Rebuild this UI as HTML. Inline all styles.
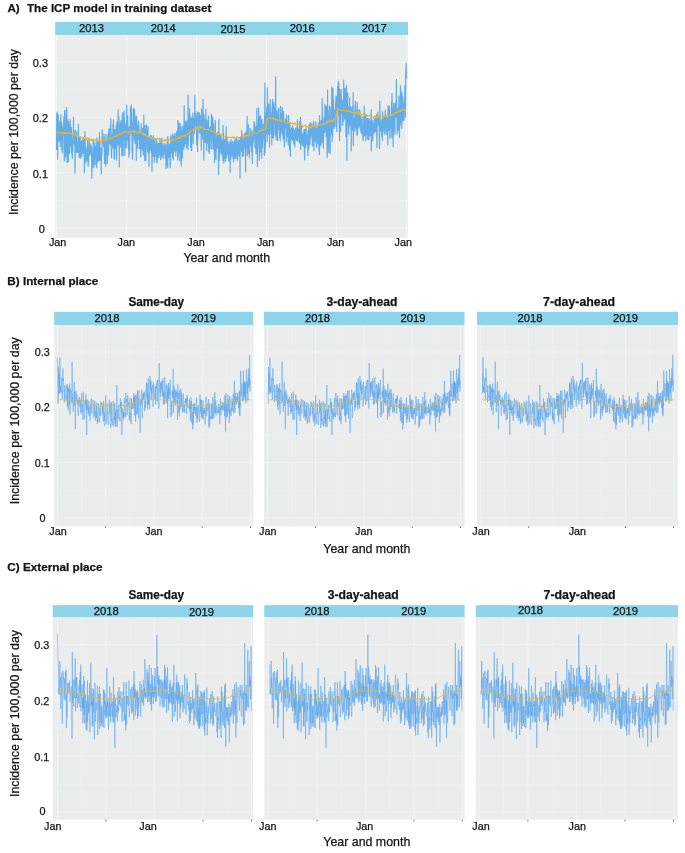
<!DOCTYPE html>
<html><head><meta charset="utf-8"><title>Figure</title>
<style>html,body{margin:0;padding:0;background:#fff}svg text{font-family:"Liberation Sans",sans-serif}</style></head>
<body>
<svg width="685" height="853" viewBox="0 0 685 853" style="display:block;will-change:transform;filter:blur(0.35px);font-family:'Liberation Sans',sans-serif">
<rect width="685" height="853" fill="#fff"/>
<text x="7.4" y="12.4" font-size="11.7" font-weight="bold" fill="#141414" stroke="#141414" stroke-width="0.25">A)</text>
<text x="26.9" y="12.4" font-size="11.7" font-weight="bold" textLength="184.6" lengthAdjust="spacingAndGlyphs" fill="#141414" stroke="#141414" stroke-width="0.25">The ICP model in training dataset</text>
<rect x="55.2" y="21.8" width="352.8" height="13.3" fill="#8dd3ea"/>
<rect x="55.2" y="35.1" width="352.8" height="202.7" fill="#ebecec"/>
<line x1="55.2" x2="408.0" y1="228.0" y2="228.0" stroke="#f2f2f2" stroke-width="1.0"/>
<line x1="55.2" x2="408.0" y1="200.4" y2="200.4" stroke="#f0f0f0" stroke-width="0.7"/>
<line x1="55.2" x2="408.0" y1="172.8" y2="172.8" stroke="#f2f2f2" stroke-width="1.0"/>
<line x1="55.2" x2="408.0" y1="145.2" y2="145.2" stroke="#f0f0f0" stroke-width="0.7"/>
<line x1="55.2" x2="408.0" y1="117.6" y2="117.6" stroke="#f2f2f2" stroke-width="1.0"/>
<line x1="55.2" x2="408.0" y1="90.0" y2="90.0" stroke="#f0f0f0" stroke-width="0.7"/>
<line x1="55.2" x2="408.0" y1="62.4" y2="62.4" stroke="#f2f2f2" stroke-width="1.0"/>
<line x1="56.6" x2="56.6" y1="35.1" y2="237.8" stroke="#f8f8f8" stroke-width="1.0"/>
<line x1="126.6" x2="126.6" y1="35.1" y2="237.8" stroke="#f8f8f8" stroke-width="1.0"/>
<line x1="196.6" x2="196.6" y1="35.1" y2="237.8" stroke="#f8f8f8" stroke-width="1.0"/>
<line x1="266.6" x2="266.6" y1="35.1" y2="237.8" stroke="#f8f8f8" stroke-width="1.0"/>
<line x1="336.6" x2="336.6" y1="35.1" y2="237.8" stroke="#f8f8f8" stroke-width="1.0"/>
<line x1="406.6" x2="406.6" y1="35.1" y2="237.8" stroke="#f8f8f8" stroke-width="1.0"/>
<text x="91.5" y="32.2" font-size="11" text-anchor="middle" textLength="25" lengthAdjust="spacingAndGlyphs" fill="#141414" stroke="#141414" stroke-width="0.25">2013</text>
<text x="163.3" y="32.2" font-size="11" text-anchor="middle" textLength="25" lengthAdjust="spacingAndGlyphs" fill="#141414" stroke="#141414" stroke-width="0.25">2014</text>
<text x="233.0" y="33.2" font-size="11" text-anchor="middle" textLength="25" lengthAdjust="spacingAndGlyphs" fill="#141414" stroke="#141414" stroke-width="0.25">2015</text>
<text x="302.2" y="32.2" font-size="11" text-anchor="middle" textLength="25" lengthAdjust="spacingAndGlyphs" fill="#141414" stroke="#141414" stroke-width="0.25">2016</text>
<text x="374.2" y="32.2" font-size="11" text-anchor="middle" textLength="25" lengthAdjust="spacingAndGlyphs" fill="#141414" stroke="#141414" stroke-width="0.25">2017</text>
<text x="48.0" y="67.10000000000001" font-size="11" text-anchor="end" fill="#141414" stroke="#141414" stroke-width="0.25">0.3</text>
<text x="48.0" y="122.3" font-size="11" text-anchor="end" fill="#141414" stroke="#141414" stroke-width="0.25">0.2</text>
<text x="48.0" y="177.5" font-size="11" text-anchor="end" fill="#141414" stroke="#141414" stroke-width="0.25">0.1</text>
<text x="44.8" y="232.7" font-size="11" text-anchor="end" fill="#141414" stroke="#141414" stroke-width="0.25">0</text>
<text x="57.6" y="246.2" font-size="10.8" text-anchor="middle" fill="#141414" stroke="#141414" stroke-width="0.25">Jan</text>
<text x="126.3" y="246.2" font-size="10.8" text-anchor="middle" fill="#141414" stroke="#141414" stroke-width="0.25">Jan</text>
<text x="196.0" y="246.2" font-size="10.8" text-anchor="middle" fill="#141414" stroke="#141414" stroke-width="0.25">Jan</text>
<text x="265.6" y="246.2" font-size="10.8" text-anchor="middle" fill="#141414" stroke="#141414" stroke-width="0.25">Jan</text>
<text x="335.6" y="246.2" font-size="10.8" text-anchor="middle" fill="#141414" stroke="#141414" stroke-width="0.25">Jan</text>
<text x="403.3" y="246.2" font-size="10.8" text-anchor="middle" fill="#141414" stroke="#141414" stroke-width="0.25">Jan</text>
<text x="226.8" y="262.2" font-size="12.6" text-anchor="middle" textLength="86.8" lengthAdjust="spacingAndGlyphs" fill="#141414" stroke="#141414" stroke-width="0.25">Year and month</text>
<text transform="translate(17.5,132.0) rotate(-90)" font-size="12.8" text-anchor="middle" textLength="166" lengthAdjust="spacingAndGlyphs" fill="#141414" stroke="#141414" stroke-width="0.25">Incidence per 100,000 per day</text>
<path d="M56.6,149.9 56.8,113.7 57.0,127.7 57.2,112.1 57.4,127.3 57.6,130.4 57.7,158.9 57.9,119.6 58.1,141.2 58.3,114.8 58.5,140.4 58.7,131.0 58.9,140.4 59.1,141.0 59.3,126.3 59.5,136.5 59.7,121.6 59.9,128.7 60.0,123.9 60.2,146.6 60.4,132.5 60.6,135.3 60.8,114.8 61.0,139.2 61.2,137.3 61.4,121.7 61.6,123.9 61.8,150.0 62.0,145.8 62.2,145.0 62.3,142.7 62.5,152.8 62.7,135.6 62.9,127.0 63.1,128.6 63.3,134.4 63.5,123.5 63.7,121.7 63.9,116.7 64.1,136.0 64.3,160.9 64.5,133.1 64.6,110.8 64.8,136.1 65.0,110.3 65.2,114.1 65.4,137.6 65.6,157.1 65.8,148.7 66.0,132.7 66.2,125.1 66.4,151.2 66.6,107.5 66.8,109.7 66.9,148.3 67.1,162.5 67.3,131.4 67.5,127.1 67.7,119.4 67.9,127.3 68.1,138.1 68.3,161.8 68.5,137.8 68.7,121.6 68.9,124.4 69.1,131.7 69.2,133.5 69.4,139.2 69.6,153.6 69.8,140.2 70.0,145.8 70.2,119.4 70.4,144.6 70.6,131.7 70.8,145.1 71.0,138.9 71.2,146.7 71.4,127.4 71.5,142.5 71.7,152.9 71.9,140.6 72.1,154.5 72.3,158.5 72.5,152.4 72.7,150.3 72.9,134.8 73.1,141.6 73.3,138.9 73.5,117.0 73.7,143.3 73.8,143.3 74.0,129.8 74.2,138.6 74.4,144.8 74.6,132.7 74.8,132.5 75.0,173.2 75.2,149.2 75.4,139.8 75.6,143.8 75.8,130.3 76.0,146.4 76.1,142.8 76.3,151.9 76.5,152.4 76.7,132.2 76.9,146.6 77.1,143.2 77.3,152.7 77.5,151.7 77.7,142.4 77.9,145.2 78.1,149.5 78.3,151.7 78.4,124.1 78.6,149.6 78.8,152.5 79.0,145.2 79.2,157.5 79.4,143.8 79.6,142.2 79.8,137.0 80.0,146.8 80.2,136.6 80.4,158.2 80.6,153.6 80.7,148.5 80.9,146.1 81.1,141.5 81.3,144.0 81.5,153.4 81.7,149.4 81.9,156.8 82.1,147.6 82.3,145.6 82.5,139.4 82.7,145.0 82.9,139.6 83.0,141.5 83.2,153.3 83.4,148.7 83.6,151.7 83.8,145.0 84.0,142.3 84.2,138.8 84.4,172.6 84.6,148.0 84.8,138.1 85.0,131.5 85.2,146.4 85.3,148.7 85.5,161.3 85.7,159.0 85.9,163.0 86.1,153.4 86.3,154.0 86.5,160.4 86.7,149.8 86.9,147.5 87.1,148.9 87.3,155.6 87.5,139.9 87.6,141.4 87.8,160.7 88.0,151.8 88.2,166.5 88.4,161.4 88.6,154.1 88.8,147.6 89.0,147.1 89.2,138.0 89.4,147.7 89.6,152.4 89.8,155.4 89.9,155.8 90.1,143.9 90.3,154.1 90.5,146.6 90.7,152.5 90.9,145.4 91.1,147.1 91.3,146.4 91.5,148.7 91.7,159.2 91.9,178.3 92.1,153.2 92.2,162.5 92.4,167.6 92.6,159.1 92.8,155.3 93.0,145.2 93.2,139.7 93.4,152.9 93.6,150.0 93.8,167.4 94.0,155.5 94.2,153.3 94.4,157.8 94.5,151.1 94.7,142.3 94.9,164.5 95.1,164.7 95.3,156.6 95.5,146.1 95.7,147.4 95.9,149.7 96.1,158.0 96.3,147.2 96.5,153.9 96.7,167.8 96.8,138.1 97.0,151.4 97.2,144.4 97.4,162.2 97.6,160.7 97.8,159.2 98.0,149.1 98.2,140.8 98.4,161.2 98.6,148.5 98.8,158.3 99.0,147.6 99.1,152.9 99.3,160.1 99.5,132.5 99.7,148.0 99.9,142.0 100.1,160.5 100.3,151.3 100.5,153.2 100.7,154.2 100.9,148.4 101.1,153.8 101.3,174.1 101.4,153.7 101.6,157.3 101.8,155.4 102.0,148.9 102.2,129.9 102.4,142.6 102.6,140.6 102.8,143.9 103.0,143.9 103.2,140.1 103.4,139.4 103.6,146.8 103.7,143.0 103.9,133.9 104.1,141.8 104.3,136.5 104.5,163.4 104.7,151.6 104.9,140.0 105.1,140.6 105.3,158.1 105.5,163.0 105.7,166.2 105.9,154.7 106.0,134.5 106.2,140.0 106.4,154.2 106.6,141.9 106.8,148.0 107.0,144.5 107.2,154.2 107.4,163.5 107.6,145.2 107.8,135.9 108.0,140.8 108.2,133.8 108.3,154.8 108.5,139.9 108.7,149.9 108.9,128.8 109.1,129.6 109.3,143.2 109.5,140.4 109.7,137.6 109.9,141.8 110.1,141.9 110.3,125.6 110.5,134.1 110.6,144.8 110.8,118.7 111.0,142.2 111.2,142.9 111.4,155.5 111.6,157.6 111.8,145.2 112.0,138.5 112.2,134.8 112.4,140.4 112.6,137.5 112.8,147.8 112.9,124.6 113.1,136.1 113.3,137.0 113.5,119.8 113.7,148.4 113.9,129.6 114.1,158.8 114.3,133.8 114.5,140.0 114.7,159.0 114.9,129.6 115.1,141.9 115.2,140.7 115.4,148.4 115.6,148.0 115.8,131.4 116.0,134.2 116.2,125.3 116.4,131.8 116.6,160.1 116.8,131.7 117.0,121.5 117.2,123.7 117.4,128.7 117.5,142.7 117.7,129.8 117.9,144.9 118.1,110.0 118.3,131.8 118.5,143.3 118.7,136.8 118.9,117.2 119.1,141.1 119.3,167.0 119.5,124.7 119.7,124.1 119.8,135.5 120.0,123.5 120.2,143.2 120.4,132.8 120.6,137.1 120.8,146.9 121.0,120.5 121.2,128.8 121.4,120.8 121.6,130.6 121.8,156.0 122.0,129.8 122.1,145.6 122.3,115.1 122.5,126.6 122.7,112.5 122.9,134.6 123.1,155.5 123.3,141.0 123.5,133.1 123.7,129.0 123.9,132.5 124.1,110.9 124.3,139.2 124.4,118.1 124.6,134.8 124.8,155.3 125.0,122.9 125.2,146.3 125.4,124.8 125.6,139.1 125.8,147.1 126.0,148.0 126.2,144.6 126.4,134.3 126.6,133.1 126.7,105.1 126.9,126.1 127.1,140.1 127.3,136.4 127.5,118.6 127.7,116.0 127.9,127.5 128.1,144.1 128.3,149.1 128.5,134.6 128.7,137.5 128.9,157.0 129.0,139.5 129.2,126.8 129.4,153.9 129.6,149.4 129.8,131.4 130.0,129.3 130.2,134.5 130.4,112.0 130.6,107.1 130.8,117.6 131.0,132.8 131.2,104.9 131.3,115.8 131.5,110.4 131.7,133.8 131.9,122.0 132.1,152.6 132.3,134.0 132.5,159.3 132.7,152.0 132.9,126.7 133.1,124.9 133.3,108.2 133.5,129.6 133.6,129.5 133.8,135.2 134.0,131.0 134.2,139.8 134.4,111.8 134.6,109.3 134.8,136.8 135.0,143.6 135.2,126.0 135.4,122.3 135.6,132.5 135.8,123.2 135.9,118.1 136.1,116.1 136.3,160.2 136.5,116.3 136.7,129.8 136.9,135.1 137.1,133.2 137.3,127.0 137.5,125.0 137.7,148.5 137.9,125.8 138.1,138.1 138.2,139.8 138.4,121.1 138.6,132.1 138.8,131.8 139.0,126.9 139.2,133.1 139.4,134.0 139.6,149.0 139.8,142.0 140.0,137.1 140.2,147.9 140.4,142.4 140.5,132.2 140.7,157.1 140.9,155.1 141.1,123.5 141.3,138.0 141.5,134.9 141.7,148.2 141.9,147.4 142.1,144.8 142.3,128.8 142.5,128.0 142.7,150.6 142.8,132.1 143.0,129.0 143.2,132.2 143.4,154.9 143.6,145.6 143.8,115.1 144.0,144.6 144.2,134.8 144.4,145.8 144.6,151.8 144.8,160.8 145.0,137.6 145.1,125.6 145.3,145.3 145.5,143.4 145.7,148.3 145.9,160.3 146.1,140.7 146.3,135.0 146.5,124.9 146.7,142.8 146.9,130.1 147.1,133.1 147.3,145.5 147.4,146.9 147.6,151.8 147.8,136.5 148.0,126.5 148.2,150.0 148.4,153.3 148.6,137.5 148.8,147.6 149.0,166.2 149.2,148.4 149.4,148.6 149.6,148.4 149.7,141.9 149.9,138.2 150.1,150.4 150.3,149.8 150.5,147.2 150.7,135.7 150.9,135.2 151.1,147.3 151.3,152.2 151.5,136.2 151.7,145.4 151.8,149.3 152.0,171.6 152.2,147.5 152.4,138.4 152.6,151.2 152.8,152.5 153.0,156.1 153.2,138.8 153.4,135.8 153.6,156.1 153.8,149.0 154.0,149.1 154.1,156.2 154.3,162.3 154.5,138.8 154.7,144.3 154.9,142.5 155.1,138.6 155.3,151.1 155.5,148.8 155.7,156.4 155.9,145.0 156.1,144.1 156.3,148.6 156.4,159.9 156.6,140.4 156.8,151.7 157.0,162.7 157.2,162.2 157.4,146.8 157.6,144.4 157.8,143.1 158.0,143.3 158.2,155.8 158.4,150.8 158.6,157.5 158.7,146.4 158.9,143.5 159.1,153.8 159.3,151.1 159.5,152.9 159.7,154.1 159.9,138.1 160.1,155.7 160.3,141.7 160.5,159.1 160.7,155.4 160.9,159.6 161.0,155.7 161.2,150.2 161.4,145.4 161.6,149.3 161.8,138.0 162.0,148.7 162.2,155.9 162.4,153.4 162.6,143.6 162.8,149.5 163.0,158.0 163.2,156.3 163.3,150.0 163.5,149.8 163.7,153.1 163.9,147.6 164.1,145.3 164.3,153.4 164.5,149.0 164.7,143.2 164.9,148.3 165.1,158.6 165.3,149.7 165.5,147.2 165.6,157.3 165.8,145.0 166.0,168.6 166.2,164.3 166.4,159.2 166.6,145.1 166.8,165.0 167.0,160.1 167.2,144.0 167.4,137.4 167.6,154.1 167.8,167.7 167.9,136.6 168.1,141.2 168.3,144.4 168.5,158.0 168.7,146.4 168.9,155.9 169.1,157.1 169.3,147.2 169.5,150.3 169.7,144.3 169.9,150.4 170.1,151.7 170.2,164.5 170.4,167.7 170.6,138.6 170.8,135.8 171.0,141.7 171.2,138.7 171.4,152.9 171.6,152.5 171.8,151.1 172.0,145.0 172.2,133.9 172.4,157.7 172.5,151.9 172.7,150.7 172.9,157.5 173.1,147.2 173.3,159.9 173.5,136.3 173.7,139.3 173.9,144.1 174.1,137.0 174.3,133.9 174.5,151.0 174.7,136.6 174.8,140.5 175.0,151.0 175.2,149.8 175.4,152.3 175.6,145.3 175.8,156.0 176.0,133.3 176.2,135.8 176.4,147.3 176.6,150.7 176.8,131.1 177.0,149.8 177.1,141.1 177.3,138.7 177.5,138.6 177.7,160.0 177.9,120.5 178.1,156.7 178.3,151.0 178.5,135.4 178.7,122.3 178.9,151.1 179.1,152.5 179.3,137.8 179.4,145.7 179.6,143.2 179.8,160.8 180.0,125.9 180.2,123.6 180.4,153.2 180.6,147.4 180.8,147.4 181.0,126.5 181.2,166.1 181.4,132.5 181.6,138.3 181.7,145.6 181.9,131.8 182.1,158.8 182.3,157.6 182.5,153.4 182.7,126.0 182.9,138.2 183.1,144.8 183.3,132.3 183.5,142.8 183.7,149.2 183.9,147.5 184.0,128.0 184.2,105.5 184.4,146.3 184.6,132.9 184.8,138.2 185.0,144.1 185.2,127.1 185.4,121.7 185.6,124.5 185.8,138.3 186.0,143.3 186.2,131.8 186.3,143.0 186.5,147.9 186.7,120.8 186.9,143.1 187.1,139.8 187.3,123.8 187.5,134.4 187.7,130.9 187.9,149.7 188.1,94.9 188.3,145.0 188.5,114.8 188.6,122.0 188.8,126.6 189.0,127.5 189.2,134.9 189.4,132.1 189.6,108.7 189.8,124.8 190.0,115.3 190.2,128.8 190.4,121.9 190.6,147.5 190.8,137.8 190.9,141.4 191.1,118.3 191.3,150.6 191.5,149.5 191.7,150.6 191.9,133.6 192.1,116.8 192.3,133.5 192.5,116.5 192.7,123.2 192.9,113.1 193.1,121.7 193.2,143.3 193.4,118.5 193.6,125.0 193.8,119.2 194.0,123.4 194.2,126.5 194.4,123.3 194.6,133.5 194.8,95.2 195.0,121.4 195.2,125.9 195.4,113.3 195.5,113.9 195.7,115.7 195.9,125.4 196.1,121.4 196.3,118.6 196.5,121.2 196.7,144.6 196.9,138.4 197.1,111.7 197.3,133.8 197.5,151.5 197.7,122.4 197.8,121.0 198.0,138.4 198.2,113.1 198.4,116.7 198.6,122.8 198.8,121.0 199.0,114.8 199.2,112.6 199.4,118.2 199.6,133.0 199.8,128.4 200.0,131.3 200.1,115.2 200.3,133.0 200.5,120.2 200.7,124.5 200.9,122.9 201.1,128.9 201.3,150.0 201.5,109.2 201.7,112.8 201.9,139.4 202.1,126.5 202.3,136.2 202.4,137.3 202.6,122.4 202.8,114.3 203.0,99.4 203.2,124.0 203.4,138.8 203.6,126.2 203.8,160.1 204.0,114.5 204.2,118.6 204.4,118.8 204.6,124.5 204.7,136.8 204.9,130.0 205.1,142.6 205.3,141.8 205.5,119.2 205.7,138.2 205.9,109.1 206.1,140.1 206.3,120.6 206.5,142.0 206.7,150.6 206.9,120.1 207.0,124.7 207.2,131.1 207.4,130.5 207.6,137.7 207.8,131.8 208.0,143.5 208.2,125.4 208.4,116.2 208.6,143.8 208.8,151.7 209.0,139.3 209.2,145.6 209.3,153.4 209.5,129.8 209.7,127.6 209.9,132.4 210.1,148.7 210.3,126.9 210.5,131.7 210.7,140.0 210.9,138.6 211.1,139.2 211.3,114.2 211.5,117.6 211.6,130.6 211.8,148.9 212.0,130.2 212.2,128.5 212.4,116.9 212.6,139.8 212.8,117.4 213.0,138.5 213.2,134.5 213.4,149.2 213.6,123.6 213.8,137.4 213.9,144.1 214.1,131.9 214.3,135.8 214.5,162.3 214.7,144.7 214.9,132.4 215.1,133.6 215.3,120.3 215.5,144.1 215.7,139.4 215.9,159.3 216.1,158.9 216.2,140.0 216.4,137.8 216.6,140.3 216.8,134.6 217.0,134.9 217.2,137.2 217.4,148.2 217.6,132.6 217.8,144.5 218.0,137.2 218.2,137.4 218.4,146.3 218.5,174.4 218.7,153.6 218.9,119.2 219.1,140.4 219.3,160.5 219.5,141.5 219.7,135.4 219.9,145.0 220.1,150.7 220.3,150.1 220.5,143.3 220.7,152.6 220.8,141.0 221.0,134.1 221.2,141.1 221.4,154.7 221.6,148.3 221.8,153.3 222.0,140.5 222.2,140.6 222.4,140.0 222.6,146.7 222.8,160.3 223.0,156.8 223.1,125.7 223.3,151.1 223.5,133.3 223.7,163.0 223.9,158.5 224.1,158.7 224.3,140.4 224.5,139.5 224.7,149.5 224.9,142.3 225.1,157.0 225.3,154.2 225.4,161.4 225.6,147.2 225.8,136.3 226.0,144.0 226.2,126.6 226.4,158.1 226.6,152.5 226.8,148.4 227.0,143.1 227.2,136.9 227.4,154.4 227.6,142.8 227.7,154.0 227.9,146.8 228.1,151.8 228.3,142.7 228.5,150.1 228.7,161.2 228.9,156.2 229.1,144.5 229.3,153.9 229.5,149.1 229.7,154.8 229.9,142.5 230.0,141.8 230.2,172.3 230.4,146.9 230.6,141.4 230.8,159.2 231.0,139.3 231.2,145.8 231.4,142.7 231.6,151.0 231.8,154.7 232.0,155.3 232.2,156.2 232.3,149.3 232.5,152.8 232.7,141.3 232.9,152.5 233.1,157.9 233.3,159.2 233.5,150.6 233.7,161.7 233.9,143.2 234.1,143.3 234.3,140.8 234.5,151.9 234.6,158.2 234.8,152.2 235.0,143.6 235.2,138.3 235.4,146.7 235.6,151.0 235.8,158.6 236.0,153.3 236.2,152.5 236.4,137.3 236.6,144.8 236.8,138.9 236.9,140.1 237.1,154.0 237.3,160.4 237.5,157.7 237.7,145.5 237.9,151.4 238.1,142.1 238.3,142.9 238.5,140.3 238.7,149.4 238.9,155.9 239.1,140.6 239.2,151.8 239.4,144.9 239.6,141.3 239.8,139.9 240.0,178.3 240.2,146.7 240.4,136.9 240.6,144.1 240.8,143.0 241.0,144.4 241.2,138.0 241.4,139.1 241.5,151.2 241.7,130.7 241.9,148.3 242.1,141.4 242.3,141.9 242.5,156.2 242.7,146.9 242.9,156.3 243.1,135.0 243.3,149.5 243.5,140.2 243.6,155.2 243.8,144.4 244.0,146.2 244.2,147.4 244.4,146.1 244.6,135.1 244.8,133.3 245.0,144.9 245.2,136.3 245.4,149.0 245.6,171.8 245.8,132.9 245.9,149.3 246.1,144.8 246.3,131.9 246.5,134.1 246.7,141.6 246.9,147.2 247.1,116.3 247.3,155.4 247.5,138.7 247.7,138.1 247.9,132.6 248.1,132.0 248.2,153.5 248.4,124.3 248.6,141.7 248.8,136.8 249.0,140.5 249.2,137.4 249.4,158.0 249.6,151.9 249.8,135.4 250.0,135.6 250.2,128.3 250.4,134.3 250.5,145.1 250.7,144.6 250.9,134.1 251.1,139.6 251.3,136.2 251.5,151.7 251.7,148.1 251.9,130.3 252.1,143.4 252.3,163.4 252.5,132.6 252.7,136.3 252.8,147.2 253.0,133.1 253.2,140.0 253.4,141.8 253.6,134.1 253.8,137.2 254.0,121.6 254.2,137.2 254.4,137.9 254.6,122.6 254.8,136.9 255.0,146.9 255.1,130.8 255.3,129.1 255.5,148.6 255.7,126.9 255.9,135.0 256.1,153.6 256.3,151.8 256.5,126.3 256.7,143.8 256.9,108.3 257.1,144.5 257.3,131.5 257.4,166.6 257.6,141.6 257.8,132.9 258.0,123.6 258.2,128.9 258.4,135.7 258.6,108.1 258.8,129.1 259.0,148.1 259.2,122.1 259.4,160.1 259.6,136.7 259.7,116.5 259.9,138.3 260.1,135.6 260.3,152.2 260.5,115.9 260.7,125.9 260.9,129.4 261.1,119.1 261.3,121.1 261.5,127.0 261.7,158.2 261.9,119.7 262.0,123.4 262.2,141.6 262.4,148.0 262.6,135.3 262.8,139.5 263.0,138.9 263.2,132.2 263.4,124.1 263.6,124.5 263.8,132.4 264.0,125.4 264.2,142.3 264.3,155.6 264.5,123.4 264.7,114.5 264.9,83.0 265.1,152.9 265.3,135.4 265.5,145.1 265.7,133.9 265.9,132.8 266.1,122.7 266.3,112.3 266.5,132.6 266.6,124.2 266.8,106.9 267.0,116.5 267.2,141.3 267.4,87.9 267.6,123.9 267.8,113.5 268.0,123.1 268.2,129.1 268.4,134.1 268.6,104.2 268.8,123.0 268.9,130.8 269.1,124.0 269.3,118.7 269.5,147.1 269.7,116.6 269.9,120.4 270.1,105.6 270.3,99.7 270.5,114.0 270.7,112.5 270.9,129.6 271.1,134.3 271.2,134.1 271.4,117.1 271.6,123.3 271.8,145.0 272.0,116.2 272.2,106.7 272.4,122.3 272.6,99.4 272.8,118.5 273.0,137.9 273.2,105.6 273.4,123.9 273.5,138.0 273.7,115.5 273.9,102.5 274.1,123.4 274.3,116.1 274.5,121.1 274.7,113.5 274.9,107.7 275.1,134.9 275.3,127.7 275.5,101.3 275.7,76.8 275.8,126.8 276.0,131.2 276.2,139.6 276.4,128.9 276.6,114.4 276.8,120.6 277.0,110.8 277.2,129.8 277.4,128.6 277.6,140.7 277.8,114.7 278.0,117.1 278.1,118.3 278.3,129.7 278.5,108.0 278.7,120.1 278.9,108.6 279.1,124.3 279.3,121.0 279.5,121.5 279.7,137.7 279.9,128.6 280.1,126.4 280.3,140.8 280.4,130.0 280.6,106.3 280.8,125.8 281.0,132.6 281.2,132.5 281.4,123.2 281.6,113.3 281.8,130.3 282.0,119.4 282.2,134.2 282.4,107.7 282.6,119.3 282.7,130.0 282.9,131.0 283.1,139.1 283.3,114.6 283.5,111.3 283.7,121.7 283.9,121.6 284.1,126.6 284.3,147.0 284.5,140.8 284.7,126.1 284.9,123.2 285.0,126.2 285.2,118.7 285.4,122.0 285.6,120.4 285.8,128.1 286.0,125.7 286.2,124.5 286.4,142.0 286.6,115.0 286.8,134.4 287.0,137.1 287.2,121.2 287.3,134.3 287.5,132.0 287.7,128.8 287.9,134.3 288.1,129.4 288.3,145.4 288.5,115.4 288.7,126.7 288.9,122.5 289.1,132.1 289.3,125.8 289.5,122.8 289.6,150.0 289.8,138.7 290.0,125.6 290.2,144.6 290.4,156.2 290.6,129.0 290.8,137.4 291.0,130.6 291.2,137.6 291.4,128.0 291.6,132.4 291.8,130.4 291.9,139.5 292.1,137.1 292.3,131.6 292.5,140.3 292.7,125.6 292.9,130.5 293.1,134.7 293.3,140.6 293.5,128.4 293.7,144.0 293.9,136.5 294.1,142.2 294.2,129.5 294.4,130.4 294.6,138.6 294.8,147.2 295.0,139.2 295.2,138.8 295.4,134.6 295.6,137.3 295.8,128.1 296.0,135.1 296.2,138.3 296.4,133.6 296.5,140.1 296.7,136.6 296.9,127.6 297.1,136.9 297.3,119.9 297.5,140.8 297.7,137.2 297.9,133.5 298.1,129.2 298.3,130.4 298.5,132.1 298.7,130.6 298.8,135.6 299.0,137.0 299.2,142.6 299.4,121.7 299.6,140.3 299.8,130.5 300.0,143.2 300.2,133.5 300.4,117.3 300.6,149.5 300.8,123.1 301.0,141.3 301.1,141.6 301.3,134.3 301.5,126.7 301.7,134.9 301.9,138.9 302.1,144.5 302.3,145.1 302.5,141.2 302.7,134.1 302.9,145.2 303.1,145.9 303.3,138.4 303.4,140.7 303.6,132.9 303.8,146.3 304.0,131.1 304.2,129.5 304.4,149.4 304.6,160.0 304.8,146.2 305.0,129.3 305.2,140.4 305.4,130.8 305.6,147.7 305.7,148.0 305.9,143.1 306.1,127.3 306.3,136.4 306.5,144.0 306.7,135.0 306.9,136.9 307.1,138.0 307.3,143.7 307.5,145.0 307.7,134.5 307.9,155.5 308.0,135.1 308.2,130.0 308.4,137.4 308.6,149.6 308.8,145.0 309.0,126.2 309.2,124.7 309.4,137.8 309.6,135.3 309.8,145.0 310.0,141.3 310.2,122.7 310.3,137.4 310.5,122.7 310.7,132.9 310.9,134.0 311.1,133.5 311.3,135.0 311.5,124.4 311.7,128.9 311.9,138.8 312.1,123.8 312.3,136.5 312.5,146.0 312.6,134.3 312.8,125.9 313.0,132.0 313.2,132.6 313.4,129.8 313.6,121.0 313.8,138.9 314.0,150.6 314.2,134.3 314.4,127.2 314.6,134.1 314.8,138.8 314.9,128.3 315.1,132.1 315.3,140.9 315.5,126.3 315.7,123.7 315.9,121.9 316.1,135.2 316.3,145.0 316.5,147.1 316.7,139.2 316.9,132.1 317.1,128.2 317.2,129.5 317.4,138.2 317.6,137.5 317.8,143.6 318.0,126.8 318.2,142.2 318.4,128.9 318.6,122.8 318.8,140.8 319.0,150.7 319.2,145.0 319.4,154.5 319.5,115.5 319.7,129.9 319.9,140.0 320.1,136.3 320.3,129.4 320.5,138.7 320.7,145.9 320.9,120.5 321.1,135.5 321.3,132.4 321.5,127.7 321.7,137.3 321.8,133.9 322.0,142.8 322.2,98.5 322.4,129.8 322.6,120.8 322.8,136.9 323.0,140.4 323.2,135.0 323.4,148.2 323.6,126.3 323.8,125.0 324.0,117.5 324.1,121.3 324.3,118.0 324.5,132.3 324.7,124.6 324.9,104.1 325.1,130.1 325.3,130.6 325.5,127.4 325.7,106.5 325.9,112.2 326.1,136.7 326.3,105.9 326.4,124.6 326.6,107.6 326.8,119.0 327.0,141.7 327.2,157.4 327.4,146.8 327.6,90.2 327.8,126.1 328.0,110.1 328.2,125.4 328.4,122.8 328.6,127.6 328.7,152.3 328.9,126.7 329.1,132.3 329.3,120.2 329.5,106.2 329.7,127.2 329.9,129.1 330.1,153.4 330.3,122.0 330.5,122.6 330.7,124.0 330.9,115.9 331.0,107.2 331.2,129.2 331.4,126.6 331.6,134.3 331.8,86.9 332.0,109.6 332.2,141.6 332.4,119.1 332.6,135.7 332.8,118.2 333.0,88.4 333.2,117.2 333.3,99.4 333.5,99.6 333.7,125.7 333.9,127.2 334.1,128.3 334.3,124.9 334.5,110.5 334.7,114.4 334.9,126.4 335.1,125.6 335.3,112.0 335.5,112.7 335.6,103.3 335.8,104.3 336.0,96.0 336.2,113.6 336.4,96.9 336.6,122.6 336.8,131.4 337.0,105.3 337.2,109.7 337.4,102.1 337.6,86.7 337.7,105.1 337.9,102.8 338.1,91.6 338.3,81.4 338.5,104.8 338.7,115.7 338.9,82.9 339.1,122.5 339.3,116.0 339.5,140.6 339.7,89.4 339.9,122.7 340.0,111.1 340.2,110.9 340.4,94.6 340.6,131.5 340.8,117.6 341.0,100.5 341.2,89.3 341.4,111.3 341.6,106.5 341.8,114.0 342.0,103.2 342.2,107.3 342.3,108.9 342.5,100.3 342.7,125.5 342.9,109.4 343.1,121.1 343.3,121.3 343.5,107.0 343.7,80.0 343.9,104.9 344.1,111.0 344.3,114.3 344.5,103.1 344.6,119.0 344.8,108.0 345.0,88.2 345.2,100.8 345.4,114.3 345.6,102.7 345.8,119.9 346.0,136.7 346.2,107.2 346.4,85.4 346.6,94.3 346.8,114.8 346.9,160.3 347.1,121.1 347.3,111.8 347.5,124.8 347.7,92.9 347.9,118.5 348.1,106.8 348.3,110.8 348.5,111.6 348.7,134.1 348.9,122.6 349.1,106.2 349.2,115.2 349.4,126.7 349.6,97.8 349.8,125.2 350.0,116.9 350.2,112.8 350.4,106.9 350.6,108.5 350.8,116.1 351.0,113.4 351.2,150.9 351.4,120.5 351.5,114.8 351.7,116.6 351.9,106.8 352.1,130.3 352.3,116.0 352.5,119.4 352.7,117.9 352.9,122.8 353.1,92.5 353.3,145.5 353.5,130.5 353.7,124.1 353.8,117.7 354.0,129.4 354.2,131.5 354.4,128.8 354.6,128.6 354.8,125.9 355.0,105.8 355.2,127.3 355.4,101.2 355.6,117.1 355.8,117.7 356.0,110.1 356.1,110.4 356.3,130.7 356.5,121.4 356.7,113.3 356.9,135.5 357.1,109.3 357.3,102.3 357.5,134.8 357.7,115.7 357.9,117.3 358.1,116.1 358.3,127.8 358.4,113.8 358.6,116.1 358.8,122.8 359.0,109.7 359.2,115.5 359.4,115.6 359.6,125.7 359.8,110.0 360.0,128.3 360.2,127.1 360.4,115.6 360.6,125.4 360.7,130.8 360.9,127.8 361.1,132.7 361.3,119.7 361.5,119.2 361.7,126.1 361.9,133.7 362.1,116.5 362.3,126.7 362.5,128.7 362.7,126.6 362.9,136.7 363.0,138.5 363.2,140.7 363.4,135.5 363.6,127.4 363.8,116.3 364.0,123.5 364.2,106.1 364.4,121.3 364.6,134.9 364.8,136.0 365.0,128.9 365.2,117.5 365.3,116.6 365.5,135.6 365.7,140.9 365.9,114.2 366.1,131.9 366.3,125.2 366.5,122.0 366.7,134.6 366.9,130.6 367.1,123.1 367.3,118.1 367.5,126.5 367.6,139.2 367.8,123.1 368.0,118.4 368.2,130.9 368.4,125.1 368.6,120.4 368.8,140.0 369.0,134.7 369.2,122.1 369.4,119.1 369.6,126.6 369.8,132.1 369.9,124.1 370.1,135.4 370.3,129.6 370.5,121.4 370.7,126.3 370.9,121.4 371.1,109.5 371.3,151.1 371.5,128.0 371.7,133.5 371.9,126.0 372.1,124.5 372.2,119.8 372.4,128.1 372.6,130.2 372.8,140.7 373.0,133.6 373.2,123.7 373.4,132.4 373.6,128.7 373.8,124.4 374.0,120.0 374.2,133.2 374.4,121.3 374.5,118.1 374.7,120.1 374.9,123.0 375.1,126.4 375.3,119.0 375.5,131.5 375.7,131.9 375.9,122.5 376.1,116.0 376.3,114.7 376.5,128.3 376.7,121.6 376.8,136.2 377.0,147.7 377.2,123.8 377.4,123.0 377.6,117.5 377.8,112.0 378.0,125.3 378.2,122.5 378.4,125.0 378.6,121.1 378.8,118.7 379.0,122.7 379.1,116.1 379.3,134.7 379.5,148.4 379.7,130.2 379.9,100.9 380.1,116.3 380.3,128.8 380.5,121.4 380.7,130.8 380.9,124.7 381.1,127.5 381.3,129.6 381.4,121.9 381.6,133.9 381.8,136.4 382.0,119.5 382.2,127.8 382.4,140.3 382.6,111.8 382.8,131.7 383.0,126.5 383.2,124.2 383.4,120.8 383.6,127.9 383.7,122.8 383.9,120.0 384.1,116.7 384.3,134.0 384.5,122.5 384.7,128.4 384.9,122.2 385.1,126.3 385.3,110.1 385.5,115.8 385.7,123.6 385.9,116.0 386.0,132.2 386.2,134.6 386.4,123.8 386.6,117.6 386.8,120.7 387.0,119.0 387.2,131.8 387.4,123.4 387.6,119.5 387.8,145.0 388.0,105.5 388.2,113.6 388.3,117.2 388.5,129.2 388.7,124.4 388.9,130.4 389.1,120.6 389.3,109.3 389.5,106.4 389.7,117.6 389.9,138.4 390.1,129.0 390.3,127.6 390.5,122.7 390.6,128.4 390.8,117.3 391.0,116.4 391.2,123.6 391.4,120.3 391.6,101.5 391.8,137.4 392.0,93.4 392.2,111.7 392.4,122.9 392.6,111.1 392.8,121.4 392.9,122.6 393.1,146.6 393.3,107.5 393.5,118.7 393.7,103.1 393.9,114.2 394.1,120.1 394.3,131.8 394.5,122.5 394.7,113.6 394.9,134.5 395.1,103.7 395.2,115.7 395.4,105.5 395.6,104.2 395.8,117.4 396.0,101.7 396.2,104.8 396.4,79.7 396.6,106.7 396.8,108.4 397.0,117.3 397.2,134.0 397.4,111.9 397.5,116.0 397.7,108.9 397.9,115.0 398.1,123.0 398.3,124.5 398.5,130.5 398.7,106.7 398.9,96.2 399.1,113.6 399.3,123.1 399.5,137.3 399.7,118.6 399.8,113.3 400.0,111.8 400.2,125.0 400.4,85.9 400.6,111.1 400.8,89.3 401.0,122.5 401.2,119.8 401.4,108.2 401.6,104.7 401.8,128.3 402.0,92.6 402.1,102.2 402.3,117.8 402.5,121.3 402.7,96.7 402.9,100.7 403.1,111.9 403.3,110.1 403.5,105.0 403.7,119.5 403.9,120.6 404.1,104.2 404.3,102.4 404.4,112.0 404.6,105.8 404.8,88.5 405.0,85.6 405.2,94.9 405.4,117.3 405.6,92.6 405.8,69.7 406.0,70.7 406.2,63.0 406.4,79.0" fill="none" stroke="#62ace8" stroke-width="1.2" stroke-linejoin="round"/>
<path d="M56.6,131.4 57.2,132.3 57.7,132.6 58.3,132.2 58.9,132.3 59.5,133.6 60.0,132.5 60.6,132.6 61.2,132.7 61.8,134.2 62.3,133.2 62.9,132.4 63.5,133.6 64.1,133.0 64.6,132.5 65.2,134.1 65.8,132.7 66.4,132.7 66.9,133.0 67.5,132.6 68.1,133.2 68.7,131.9 69.2,133.8 69.8,133.8 70.4,133.1 71.0,133.6 71.5,133.8 72.1,133.3 72.7,134.2 73.3,133.5 73.8,134.2 74.4,134.8 75.0,133.5 75.6,135.5 76.1,135.2 76.7,136.0 77.3,134.7 77.9,135.9 78.4,137.1 79.0,136.8 79.6,137.0 80.2,136.9 80.7,136.8 81.3,137.1 81.9,137.8 82.5,138.8 83.0,139.0 83.6,137.5 84.2,138.8 84.8,138.7 85.3,138.3 85.9,138.0 86.5,139.6 87.1,138.1 87.6,137.7 88.2,138.3 88.8,139.9 89.4,139.2 89.9,140.1 90.5,139.3 91.1,140.1 91.7,139.1 92.2,141.0 92.8,139.5 93.4,139.7 94.0,139.2 94.5,140.0 95.1,140.1 95.7,141.0 96.3,140.2 96.8,141.4 97.4,140.8 98.0,141.0 98.6,140.2 99.1,140.7 99.7,140.5 100.3,140.5 100.9,140.8 101.4,140.2 102.0,140.6 102.6,140.5 103.2,140.3 103.7,139.4 104.3,141.2 104.9,140.4 105.5,139.4 106.0,139.8 106.6,139.1 107.2,138.4 107.8,139.0 108.3,138.9 108.9,139.2 109.5,138.9 110.1,137.7 110.6,139.2 111.2,137.9 111.8,138.5 112.4,137.4 112.9,137.4 113.5,136.9 114.1,136.5 114.7,136.3 115.2,136.3 115.8,137.0 116.4,134.9 117.0,135.9 117.5,135.7 118.1,134.8 118.7,134.3 119.3,133.7 119.8,134.4 120.4,134.9 121.0,133.5 121.6,133.6 122.1,134.2 122.7,133.3 123.3,131.6 123.9,131.1 124.4,132.3 125.0,131.9 125.6,131.5 126.2,131.7 126.7,131.7 127.3,133.2 127.9,131.6 128.5,132.4 129.0,131.6 129.6,131.6 130.2,133.5 130.8,131.5 131.3,131.3 131.9,131.7 132.5,131.6 133.1,130.9 133.6,132.7 134.2,132.9 134.8,131.4 135.4,131.1 135.9,132.1 136.5,132.5 137.1,132.6 137.7,132.7 138.2,133.3 138.8,132.6 139.4,132.5 140.0,133.0 140.5,132.6 141.1,132.5 141.7,133.0 142.3,133.3 142.8,134.3 143.4,134.7 144.0,133.2 144.6,134.6 145.1,136.0 145.7,134.6 146.3,135.6 146.9,135.8 147.4,137.0 148.0,137.3 148.6,136.1 149.2,136.4 149.7,137.7 150.3,137.4 150.9,137.0 151.5,137.3 152.0,138.8 152.6,139.3 153.2,138.7 153.8,138.1 154.3,139.0 154.9,139.8 155.5,139.4 156.1,139.0 156.6,139.4 157.2,138.1 157.8,139.0 158.4,139.1 158.9,139.3 159.5,139.5 160.1,140.0 160.7,140.8 161.2,140.1 161.8,140.2 162.4,140.2 163.0,139.9 163.5,141.2 164.1,141.0 164.7,139.1 165.3,140.3 165.8,140.9 166.4,139.8 167.0,140.1 167.6,141.0 168.1,139.2 168.7,140.2 169.3,139.2 169.9,139.5 170.4,140.7 171.0,139.9 171.6,140.0 172.2,141.2 172.7,139.2 173.3,138.8 173.9,140.0 174.5,139.3 175.0,139.2 175.6,138.9 176.2,138.8 176.8,138.6 177.3,138.8 177.9,138.5 178.5,138.5 179.1,137.2 179.6,138.3 180.2,137.0 180.8,136.7 181.4,136.0 181.9,135.5 182.5,136.8 183.1,136.9 183.7,135.6 184.2,135.4 184.8,136.3 185.4,134.8 186.0,135.8 186.5,134.2 187.1,134.6 187.7,133.9 188.3,132.7 188.8,133.2 189.4,133.2 190.0,131.8 190.6,132.0 191.1,130.5 191.7,130.5 192.3,130.4 192.9,130.7 193.4,129.3 194.0,130.3 194.6,130.2 195.2,128.6 195.7,128.5 196.3,128.9 196.9,127.5 197.5,127.3 198.0,127.3 198.6,128.8 199.2,129.2 199.8,126.2 200.3,126.2 200.9,128.5 201.5,128.1 202.1,127.1 202.6,128.1 203.2,128.0 203.8,129.2 204.4,128.9 204.9,129.9 205.5,129.1 206.1,129.2 206.7,129.7 207.2,129.5 207.8,129.4 208.4,129.6 209.0,130.3 209.5,130.4 210.1,130.7 210.7,130.5 211.3,131.5 211.8,131.3 212.4,131.3 213.0,131.3 213.6,132.2 214.1,131.9 214.7,132.9 215.3,133.6 215.9,133.1 216.4,133.9 217.0,134.5 217.6,133.7 218.2,134.8 218.7,133.4 219.3,133.6 219.9,134.2 220.5,135.4 221.0,135.6 221.6,135.2 222.2,135.6 222.8,136.6 223.3,136.0 223.9,136.5 224.5,136.6 225.1,136.9 225.6,136.2 226.2,135.6 226.8,137.9 227.4,137.3 227.9,137.1 228.5,137.8 229.1,137.5 229.7,137.5 230.2,137.1 230.8,137.3 231.4,137.6 232.0,137.5 232.5,137.4 233.1,136.2 233.7,138.0 234.3,137.4 234.8,137.3 235.4,138.0 236.0,138.1 236.6,137.5 237.1,136.8 237.7,137.0 238.3,138.6 238.9,137.8 239.4,137.4 240.0,137.1 240.6,137.0 241.2,136.5 241.7,136.6 242.3,136.5 242.9,136.9 243.5,136.5 244.0,135.9 244.6,136.6 245.2,135.9 245.8,135.2 246.3,136.2 246.9,134.8 247.5,135.5 248.1,136.1 248.6,134.8 249.2,134.4 249.8,135.0 250.4,135.2 250.9,135.1 251.5,136.0 252.1,135.1 252.7,134.5 253.2,134.2 253.8,133.1 254.4,133.3 255.0,132.9 255.5,132.5 256.1,133.7 256.7,133.6 257.3,133.2 257.8,133.0 258.4,131.4 259.0,131.6 259.6,131.6 260.1,130.5 260.7,130.6 261.3,129.9 261.9,130.8 262.4,129.6 263.0,129.7 263.6,130.8 264.2,130.5 264.7,129.8 265.3,128.8 265.9,128.8 266.5,123.9 267.0,118.7 267.6,119.8 268.2,117.8 268.8,118.5 269.3,117.8 269.9,118.2 270.5,118.1 271.1,118.2 271.6,118.9 272.2,118.6 272.8,118.8 273.4,117.5 273.9,119.9 274.5,118.4 275.1,118.4 275.7,120.1 276.2,119.3 276.8,119.6 277.4,120.0 278.0,121.3 278.5,120.6 279.1,120.3 279.7,120.4 280.3,121.1 280.8,119.9 281.4,121.7 282.0,119.8 282.6,120.9 283.1,119.9 283.7,120.7 284.3,121.1 284.9,121.6 285.4,122.6 286.0,122.2 286.6,123.0 287.2,122.4 287.7,122.5 288.3,122.0 288.9,122.8 289.5,123.5 290.0,123.8 290.6,122.6 291.2,123.1 291.8,123.4 292.3,123.1 292.9,124.1 293.5,123.6 294.1,123.3 294.6,123.9 295.2,123.2 295.8,124.7 296.4,124.7 296.9,124.0 297.5,124.9 298.1,124.3 298.7,124.6 299.2,124.6 299.8,124.7 300.4,124.9 301.0,125.4 301.5,124.9 302.1,124.9 302.7,127.0 303.3,126.2 303.8,126.3 304.4,125.2 305.0,125.6 305.6,125.1 306.1,126.1 306.7,126.9 307.3,126.3 307.9,126.6 308.4,127.1 309.0,125.9 309.6,127.4 310.2,127.8 310.7,125.7 311.3,127.0 311.9,125.6 312.5,125.3 313.0,126.9 313.6,125.8 314.2,125.5 314.8,126.3 315.3,126.3 315.9,125.9 316.5,126.3 317.1,126.5 317.6,125.6 318.2,124.7 318.8,125.1 319.4,125.3 319.9,125.3 320.5,125.3 321.1,125.3 321.7,124.9 322.2,124.0 322.8,124.0 323.4,124.7 324.0,123.4 324.5,124.0 325.1,123.2 325.7,123.8 326.3,122.4 326.8,121.0 327.4,123.1 328.0,122.4 328.6,121.1 329.1,121.8 329.7,120.8 330.3,121.1 330.9,119.5 331.4,121.1 332.0,120.5 332.6,122.3 333.2,119.8 333.7,119.0 334.3,119.5 334.9,120.0 335.5,119.8 336.0,118.3 336.6,113.5 337.2,108.3 337.7,110.2 338.3,109.0 338.9,109.6 339.5,109.9 340.0,109.9 340.6,110.1 341.2,110.5 341.8,110.3 342.3,110.6 342.9,110.2 343.5,109.9 344.1,110.2 344.6,110.3 345.2,110.9 345.8,111.0 346.4,110.7 346.9,110.9 347.5,111.2 348.1,111.4 348.7,110.6 349.2,110.6 349.8,112.3 350.4,111.4 351.0,112.2 351.5,113.0 352.1,112.5 352.7,112.3 353.3,112.2 353.8,112.8 354.4,112.2 355.0,113.4 355.6,113.2 356.1,111.9 356.7,112.4 357.3,112.8 357.9,114.0 358.4,114.4 359.0,114.1 359.6,115.0 360.2,111.8 360.7,114.5 361.3,115.3 361.9,114.1 362.5,114.3 363.0,114.6 363.6,114.7 364.2,115.0 364.8,114.7 365.3,115.0 365.9,115.9 366.5,114.9 367.1,116.1 367.6,115.7 368.2,115.3 368.8,115.5 369.4,116.1 369.9,115.4 370.5,115.9 371.1,115.5 371.7,115.6 372.2,116.8 372.8,116.9 373.4,116.9 374.0,117.9 374.5,116.2 375.1,116.9 375.7,118.0 376.3,117.0 376.8,116.9 377.4,117.9 378.0,116.3 378.6,117.1 379.1,116.7 379.7,115.7 380.3,116.7 380.9,115.9 381.4,115.8 382.0,116.6 382.6,116.1 383.2,117.5 383.7,115.5 384.3,115.9 384.9,116.4 385.5,116.7 386.0,116.6 386.6,116.2 387.2,115.6 387.8,115.7 388.3,115.4 388.9,115.4 389.5,115.4 390.1,115.8 390.6,115.1 391.2,115.1 391.8,115.9 392.4,114.4 392.9,114.7 393.5,114.7 394.1,113.4 394.7,113.4 395.2,112.5 395.8,113.2 396.4,112.3 397.0,112.8 397.5,111.4 398.1,112.3 398.7,110.3 399.3,110.8 399.8,111.2 400.4,110.3 401.0,111.4 401.6,109.7 402.1,110.0 402.7,109.7 403.3,110.0 403.9,108.5 404.4,109.7 405.0,110.0 405.6,109.7 406.2,109.9" fill="none" stroke="#ecb232" stroke-width="1.1" stroke-linejoin="round"/>
<text x="7.3" y="284.9" font-size="11.7" font-weight="bold" textLength="91" lengthAdjust="spacingAndGlyphs" fill="#141414" stroke="#141414" stroke-width="0.25">B) Internal place</text>
<rect x="54.2" y="311.8" width="199.1" height="13.2" fill="#8dd3ea"/>
<rect x="54.2" y="325.0" width="199.1" height="201.3" fill="#ebecec"/>
<line x1="54.2" x2="253.3" y1="518.0" y2="518.0" stroke="#f4f4f4" stroke-width="0.9"/>
<line x1="54.2" x2="253.3" y1="490.3" y2="490.3" stroke="#f0f0f0" stroke-width="0.63"/>
<line x1="54.2" x2="253.3" y1="462.7" y2="462.7" stroke="#f4f4f4" stroke-width="0.9"/>
<line x1="54.2" x2="253.3" y1="435.0" y2="435.0" stroke="#f0f0f0" stroke-width="0.63"/>
<line x1="54.2" x2="253.3" y1="407.3" y2="407.3" stroke="#f4f4f4" stroke-width="0.9"/>
<line x1="54.2" x2="253.3" y1="379.7" y2="379.7" stroke="#f0f0f0" stroke-width="0.63"/>
<line x1="54.2" x2="253.3" y1="352.0" y2="352.0" stroke="#f4f4f4" stroke-width="0.9"/>
<line x1="81.4" x2="81.4" y1="325.0" y2="526.3" stroke="#f0f0f0" stroke-width="0.8"/>
<line x1="129.8" x2="129.8" y1="325.0" y2="526.3" stroke="#f0f0f0" stroke-width="0.8"/>
<line x1="178.0" x2="178.0" y1="325.0" y2="526.3" stroke="#f0f0f0" stroke-width="0.8"/>
<line x1="226.3" x2="226.3" y1="325.0" y2="526.3" stroke="#f0f0f0" stroke-width="0.8"/>
<line x1="57.3" x2="57.3" y1="325.0" y2="526.3" stroke="#f4f4f4" stroke-width="0.9"/>
<line x1="105.6" x2="105.6" y1="325.0" y2="526.3" stroke="#f4f4f4" stroke-width="0.9"/>
<line x1="153.9" x2="153.9" y1="325.0" y2="526.3" stroke="#f4f4f4" stroke-width="0.9"/>
<line x1="202.2" x2="202.2" y1="325.0" y2="526.3" stroke="#f4f4f4" stroke-width="0.9"/>
<line x1="250.5" x2="250.5" y1="325.0" y2="526.3" stroke="#f4f4f4" stroke-width="0.9"/>
<line x1="105.6" x2="105.6" y1="526.3" y2="528.0999999999999" stroke="#555" stroke-width="0.8"/>
<line x1="202.2" x2="202.2" y1="526.3" y2="528.0999999999999" stroke="#555" stroke-width="0.8"/>
<line x1="250.5" x2="250.5" y1="526.3" y2="528.0999999999999" stroke="#555" stroke-width="0.8"/>
<text x="156.3" y="306.2" font-size="12" text-anchor="middle" font-weight="bold" textLength="55.7" lengthAdjust="spacingAndGlyphs" fill="#141414" stroke="#141414" stroke-width="0.25">Same-day</text>
<text x="106.9" y="322.4" font-size="11" text-anchor="middle" textLength="25" lengthAdjust="spacingAndGlyphs" fill="#141414" stroke="#141414" stroke-width="0.25">2018</text>
<text x="203.4" y="322.4" font-size="11" text-anchor="middle" textLength="25" lengthAdjust="spacingAndGlyphs" fill="#141414" stroke="#141414" stroke-width="0.25">2019</text>
<text x="58" y="535.3" font-size="10.8" text-anchor="middle" fill="#141414" stroke="#141414" stroke-width="0.25">Jan</text>
<text x="153.9" y="535.3" font-size="10.8" text-anchor="middle" fill="#141414" stroke="#141414" stroke-width="0.25">Jan</text>
<path d="M57.3,357.5 57.6,365.8 57.8,384.7 58.1,403.6 58.4,384.2 58.6,367.2 58.9,394.2 59.2,373.5 59.4,378.0 59.7,393.3 59.9,357.5 60.2,391.9 60.5,386.7 60.7,389.3 61.0,389.2 61.3,392.7 61.5,382.3 61.8,377.6 62.1,390.6 62.3,399.1 62.6,387.4 62.9,368.4 63.1,381.0 63.4,378.5 63.7,386.9 63.9,392.0 64.2,390.6 64.4,402.3 64.7,385.1 65.0,392.8 65.2,393.6 65.5,397.2 65.8,396.0 66.0,400.8 66.3,399.0 66.6,385.6 66.8,388.6 67.1,384.0 67.4,406.8 67.6,387.1 67.9,401.5 68.2,410.1 68.4,389.0 68.7,391.7 68.9,388.0 69.2,404.7 69.5,396.4 69.7,383.5 70.0,414.7 70.3,397.7 70.5,389.6 70.8,392.2 71.1,390.9 71.3,395.6 71.6,399.9 71.9,403.2 72.1,361.6 72.4,401.3 72.7,399.6 72.9,397.4 73.2,411.9 73.4,395.0 73.7,395.4 74.0,392.9 74.2,381.9 74.5,405.9 74.8,405.2 75.0,391.5 75.3,429.1 75.6,410.0 75.8,390.4 76.1,395.2 76.4,397.5 76.6,400.5 76.9,394.5 77.1,399.9 77.4,404.2 77.7,400.0 77.9,404.5 78.2,415.8 78.5,399.5 78.7,401.6 79.0,402.1 79.3,396.8 79.5,403.8 79.8,405.5 80.1,407.2 80.3,399.7 80.6,411.9 80.9,410.1 81.1,414.0 81.4,399.5 81.6,393.4 81.9,411.6 82.2,406.0 82.4,405.4 82.7,404.6 83.0,420.1 83.2,391.6 83.5,400.3 83.8,400.5 84.0,407.2 84.3,419.3 84.6,415.7 84.8,407.3 85.1,400.0 85.4,404.8 85.6,395.6 85.9,394.3 86.1,409.8 86.4,399.8 86.7,435.0 86.9,414.7 87.2,399.6 87.5,410.0 87.7,405.6 88.0,406.7 88.3,413.6 88.5,409.8 88.8,400.8 89.1,415.9 89.3,407.3 89.6,408.8 89.9,407.5 90.1,420.9 90.4,414.6 90.6,405.1 90.9,407.2 91.2,398.5 91.4,408.0 91.7,414.2 92.0,413.1 92.2,410.3 92.5,409.4 92.8,408.6 93.0,399.8 93.3,405.5 93.6,412.0 93.8,417.7 94.1,416.8 94.4,413.5 94.6,401.3 94.9,416.1 95.1,410.7 95.4,420.6 95.7,419.7 95.9,413.0 96.2,402.3 96.5,418.0 96.7,407.5 97.0,405.9 97.3,423.8 97.5,418.8 97.8,422.2 98.1,411.7 98.3,403.1 98.6,407.8 98.9,410.1 99.1,420.4 99.4,422.5 99.6,417.3 99.9,407.3 100.2,407.8 100.4,415.9 100.7,408.4 101.0,401.6 101.2,406.1 101.5,406.9 101.8,404.5 102.0,403.0 102.3,414.2 102.6,407.0 102.8,415.9 103.1,419.5 103.4,421.6 103.6,400.8 103.9,407.5 104.1,410.9 104.4,420.5 104.7,412.9 104.9,425.9 105.2,408.4 105.5,406.5 105.7,395.3 106.0,413.0 106.3,423.5 106.5,422.7 106.8,416.9 107.1,408.3 107.3,403.3 107.6,414.0 107.8,412.5 108.1,424.1 108.4,424.7 108.6,419.3 108.9,418.0 109.2,408.0 109.4,399.6 109.7,413.2 110.0,411.0 110.2,403.6 110.5,405.7 110.8,427.9 111.0,407.9 111.3,401.9 111.6,420.9 111.8,419.1 112.1,422.0 112.3,425.2 112.6,424.9 112.9,404.2 113.1,401.1 113.4,402.2 113.7,413.0 113.9,426.3 114.2,416.8 114.5,419.7 114.7,403.0 115.0,410.0 115.3,423.5 115.5,410.4 115.8,426.8 116.1,420.8 116.3,415.5 116.6,403.0 116.8,385.1 117.1,427.0 117.4,410.8 117.6,409.1 117.9,418.4 118.2,413.3 118.4,412.2 118.7,404.8 119.0,408.4 119.2,419.2 119.5,417.7 119.8,417.5 120.0,421.6 120.3,398.3 120.6,407.7 120.8,403.1 121.1,405.0 121.3,412.6 121.6,401.8 121.9,435.0 122.1,416.5 122.4,413.3 122.7,408.6 122.9,417.6 123.2,411.9 123.5,413.9 123.7,419.4 124.0,404.9 124.3,398.2 124.5,399.8 124.8,416.4 125.1,413.0 125.3,416.9 125.6,417.3 125.8,393.0 126.1,402.4 126.4,401.4 126.6,399.1 126.9,414.0 127.2,415.1 127.4,414.7 127.7,395.6 128.0,406.8 128.2,404.7 128.5,402.4 128.8,402.9 129.0,410.3 129.3,419.5 129.6,411.9 129.8,398.2 130.1,421.1 130.3,415.3 130.6,412.9 130.9,415.2 131.1,424.2 131.4,398.6 131.7,409.4 131.9,408.8 132.2,402.9 132.5,408.8 132.7,407.2 133.0,409.0 133.3,398.6 133.5,402.4 133.8,393.0 134.1,407.6 134.3,395.9 134.6,415.7 134.8,405.6 135.1,396.3 135.4,406.2 135.6,422.0 135.9,394.2 136.2,413.3 136.4,414.7 136.7,408.3 137.0,395.6 137.2,398.0 137.5,390.7 137.8,413.9 138.0,398.1 138.3,413.1 138.5,418.5 138.8,390.6 139.1,390.4 139.3,402.8 139.6,404.4 139.9,404.2 140.1,432.7 140.4,411.6 140.7,399.8 140.9,404.8 141.2,398.4 141.5,402.8 141.7,389.8 142.0,393.3 142.3,418.0 142.5,405.6 142.8,402.1 143.0,394.0 143.3,397.8 143.6,392.7 143.8,399.9 144.1,397.7 144.4,391.4 144.6,411.2 144.9,404.7 145.2,403.3 145.4,401.1 145.7,407.7 146.0,389.8 146.2,388.7 146.5,382.3 146.8,397.0 147.0,383.6 147.3,404.6 147.5,394.5 147.8,409.5 148.1,382.5 148.3,378.4 148.6,404.7 148.9,400.2 149.1,392.5 149.4,398.7 149.7,408.5 149.9,375.9 150.2,388.4 150.5,382.4 150.7,390.7 151.0,380.5 151.3,400.2 151.5,387.7 151.8,393.8 152.0,391.4 152.3,386.7 152.6,384.8 152.8,386.7 153.1,406.8 153.4,381.7 153.6,384.1 153.9,387.2 154.2,390.4 154.4,393.3 154.7,399.2 155.0,397.6 155.2,386.6 155.5,392.2 155.8,404.6 156.0,385.6 156.3,388.3 156.5,385.9 156.8,381.6 157.1,401.1 157.3,380.0 157.6,382.0 157.9,379.7 158.1,382.4 158.4,396.9 158.7,404.1 158.9,408.5 159.2,363.1 159.5,377.2 159.7,391.7 160.0,392.8 160.3,397.5 160.5,382.8 160.8,393.3 161.0,384.4 161.3,381.3 161.6,389.8 161.8,386.1 162.1,381.4 162.4,396.5 162.6,392.1 162.9,378.2 163.2,388.1 163.4,404.5 163.7,390.7 164.0,396.4 164.2,392.8 164.5,404.1 164.8,377.3 165.0,386.3 165.3,386.0 165.5,395.2 165.8,398.0 166.1,402.1 166.3,388.5 166.6,384.2 166.9,388.9 167.1,403.7 167.4,392.2 167.7,418.1 167.9,385.7 168.2,398.9 168.5,382.9 168.7,398.3 169.0,399.3 169.3,388.3 169.5,395.1 169.8,393.8 170.0,389.1 170.3,379.8 170.6,403.2 170.8,417.1 171.1,402.5 171.4,401.6 171.6,413.5 171.9,414.7 172.2,391.6 172.4,395.2 172.7,390.5 173.0,398.0 173.2,368.6 173.5,413.0 173.7,411.3 174.0,386.0 174.3,394.3 174.5,402.8 174.8,391.6 175.1,390.2 175.3,391.9 175.6,405.6 175.9,389.4 176.1,392.3 176.4,396.8 176.7,391.4 176.9,402.9 177.2,400.1 177.5,419.7 177.7,385.6 178.0,383.9 178.2,398.8 178.5,392.8 178.8,412.5 179.0,406.4 179.3,416.3 179.6,390.1 179.8,393.2 180.1,409.6 180.4,407.3 180.6,406.3 180.9,388.7 181.2,407.3 181.4,393.0 181.7,395.7 182.0,399.4 182.2,404.4 182.5,412.7 182.7,411.4 183.0,396.9 183.3,393.5 183.5,402.2 183.8,412.0 184.1,404.5 184.3,404.7 184.6,412.5 184.9,403.4 185.1,400.7 185.4,402.2 185.7,398.5 185.9,404.0 186.2,398.7 186.5,411.0 186.7,413.7 187.0,395.0 187.2,401.0 187.5,397.6 187.8,404.2 188.0,407.8 188.3,407.6 188.6,407.5 188.8,406.7 189.1,404.4 189.4,408.7 189.6,399.7 189.9,411.6 190.2,404.4 190.4,421.1 190.7,400.5 191.0,397.2 191.2,409.0 191.5,400.9 191.7,422.7 192.0,412.1 192.3,412.4 192.5,417.2 192.8,429.4 193.1,403.8 193.3,424.7 193.6,403.9 193.9,411.2 194.1,407.8 194.4,403.6 194.7,413.3 194.9,412.4 195.2,413.3 195.5,407.0 195.7,415.9 196.0,412.4 196.2,399.6 196.5,397.6 196.8,422.7 197.0,413.7 197.3,407.3 197.6,419.1 197.8,419.4 198.1,405.1 198.4,408.0 198.6,409.4 198.9,415.1 199.2,416.2 199.4,422.1 199.7,418.5 200.0,394.7 200.2,413.8 200.5,404.3 200.7,399.2 201.0,411.0 201.3,399.9 201.5,417.2 201.8,406.7 202.1,408.2 202.3,418.6 202.6,409.7 202.9,400.4 203.1,419.2 203.4,413.4 203.7,410.6 203.9,413.9 204.2,408.1 204.4,413.4 204.7,409.2 205.0,407.4 205.2,424.4 205.5,408.9 205.8,408.2 206.0,396.4 206.3,399.6 206.6,416.1 206.8,413.1 207.1,403.5 207.4,408.4 207.6,410.5 207.9,411.1 208.2,407.6 208.4,399.0 208.7,411.4 208.9,427.5 209.2,403.5 209.5,404.9 209.7,425.5 210.0,416.2 210.3,415.8 210.5,418.9 210.8,413.5 211.1,403.2 211.3,404.0 211.6,408.2 211.9,418.9 212.1,404.6 212.4,418.9 212.7,415.6 212.9,396.9 213.2,411.6 213.4,413.2 213.7,416.7 214.0,418.4 214.2,402.2 214.5,413.2 214.8,391.9 215.0,403.1 215.3,410.1 215.6,413.5 215.8,400.2 216.1,415.3 216.4,410.3 216.6,409.4 216.9,406.6 217.2,407.4 217.4,412.9 217.7,413.4 217.9,411.1 218.2,412.1 218.5,403.9 218.7,407.2 219.0,413.5 219.3,407.3 219.5,412.2 219.8,424.3 220.1,417.3 220.3,398.8 220.6,404.8 220.9,415.2 221.1,405.7 221.4,407.1 221.7,409.8 221.9,404.9 222.2,404.5 222.4,402.3 222.7,410.7 223.0,403.6 223.2,403.0 223.5,410.2 223.8,409.6 224.0,407.2 224.3,401.7 224.6,416.3 224.8,395.5 225.1,402.6 225.4,423.0 225.6,431.5 225.9,392.9 226.2,411.0 226.4,404.6 226.7,417.7 226.9,409.1 227.2,416.6 227.5,409.4 227.7,402.7 228.0,394.6 228.3,412.1 228.5,399.6 228.8,408.6 229.1,407.8 229.3,422.8 229.6,401.2 229.9,396.2 230.1,414.2 230.4,409.2 230.7,409.5 230.9,416.2 231.2,409.8 231.4,407.6 231.7,410.1 232.0,398.6 232.2,411.3 232.5,401.3 232.8,404.6 233.0,399.8 233.3,393.9 233.6,413.3 233.8,408.1 234.1,407.5 234.4,380.7 234.6,405.6 234.9,412.3 235.1,392.8 235.4,402.2 235.7,398.8 235.9,402.5 236.2,396.3 236.5,404.3 236.7,400.6 237.0,394.0 237.3,392.9 237.5,401.6 237.8,396.9 238.1,400.1 238.3,405.3 238.6,408.2 238.9,393.5 239.1,392.2 239.4,414.4 239.6,390.4 239.9,416.2 240.2,403.6 240.4,405.5 240.7,370.7 241.0,391.5 241.2,396.3 241.5,396.3 241.8,390.4 242.0,383.2 242.3,398.3 242.6,401.7 242.8,394.0 243.1,390.7 243.4,370.6 243.6,400.6 243.9,380.9 244.1,394.1 244.4,381.1 244.7,397.0 244.9,382.6 245.2,400.1 245.5,392.2 245.7,382.8 246.0,403.3 246.3,380.8 246.5,369.3 246.8,386.6 247.1,393.3 247.3,389.7 247.6,381.4 247.9,400.6 248.1,377.6 248.4,388.0 248.6,368.5 248.9,369.3 249.2,380.1 249.4,385.6 249.7,354.8 250.0,391.6 250.2,380.2" fill="none" stroke="#58a4ec" stroke-width="0.55" stroke-linejoin="round"/>
<path d="M57.3,399.7 57.8,399.8 58.4,399.6 58.9,399.9 59.4,400.2 59.9,400.1 60.5,399.4 61.0,399.4 61.5,399.5 62.1,400.3 62.6,399.7 63.1,399.6 63.7,400.3 64.2,400.5 64.7,400.7 65.2,400.1 65.8,399.8 66.3,400.0 66.8,400.3 67.4,399.9 67.9,400.1 68.4,399.4 68.9,400.0 69.5,399.9 70.0,401.1 70.5,399.8 71.1,400.3 71.6,399.5 72.1,399.8 72.7,399.9 73.2,399.5 73.7,399.9 74.2,399.7 74.8,400.5 75.3,400.3 75.8,399.9 76.4,399.3 76.9,399.3 77.4,400.0 77.9,400.1 78.5,400.4 79.0,399.9 79.5,399.2 80.1,400.7 80.6,400.2 81.1,400.3 81.6,400.6 82.2,400.4 82.7,400.4 83.2,401.2 83.8,401.7 84.3,401.4 84.8,401.7 85.4,402.2 85.9,400.8 86.4,401.6 86.9,401.9 87.5,402.4 88.0,403.4 88.5,403.5 89.1,402.7 89.6,403.4 90.1,403.9 90.6,404.1 91.2,404.4 91.7,404.9 92.2,404.5 92.8,404.6 93.3,404.2 93.8,405.4 94.4,404.9 94.9,406.6 95.4,405.5 95.9,405.6 96.5,405.9 97.0,406.7 97.5,406.2 98.1,406.4 98.6,405.7 99.1,406.4 99.6,405.8 100.2,405.7 100.7,406.4 101.2,405.7 101.8,406.3 102.3,406.7 102.8,406.1 103.4,406.0 103.9,405.9 104.4,406.5 104.9,406.3 105.5,405.7 106.0,406.4 106.5,405.7 107.1,406.3 107.6,406.1 108.1,406.5 108.6,406.2 109.2,406.2 109.7,406.3 110.2,405.8 110.8,405.7 111.3,405.4 111.8,406.4 112.3,405.3 112.9,405.3 113.4,405.7 113.9,406.8 114.5,406.3 115.0,406.0 115.5,405.9 116.1,405.8 116.6,405.5 117.1,406.3 117.6,406.6 118.2,406.3 118.7,405.5 119.2,405.8 119.8,405.7 120.3,406.1 120.8,405.9 121.3,407.1 121.9,405.8 122.4,405.5 122.9,406.1 123.5,405.5 124.0,406.2 124.5,406.3 125.1,406.2 125.6,405.7 126.1,405.7 126.6,406.3 127.2,405.9 127.7,405.7 128.2,406.5 128.8,405.2 129.3,406.6 129.8,404.8 130.3,405.2 130.9,404.7 131.4,404.8 131.9,404.5 132.5,404.7 133.0,404.3 133.5,403.8 134.1,403.6 134.6,402.6 135.1,402.4 135.6,402.6 136.2,401.6 136.7,401.6 137.2,401.6 137.8,400.9 138.3,400.9 138.8,400.3 139.3,400.1 139.9,400.2 140.4,399.9 140.9,399.2 141.5,399.3 142.0,399.8 142.5,399.7 143.0,398.6 143.6,399.4 144.1,399.8 144.6,399.8 145.2,399.3 145.7,399.5 146.2,399.2 146.8,399.2 147.3,399.6 147.8,399.5 148.3,399.4 148.9,399.7 149.4,399.5 149.9,399.9 150.5,399.1 151.0,399.5 151.5,399.1 152.0,399.8 152.6,399.8 153.1,399.7 153.6,399.8 154.2,399.4 154.7,400.0 155.2,399.5 155.8,399.8 156.3,399.8 156.8,400.1 157.3,399.9 157.9,399.6 158.4,399.2 158.9,399.2 159.5,399.7 160.0,399.3 160.5,399.6 161.0,399.7 161.6,399.8 162.1,399.4 162.6,399.8 163.2,399.5 163.7,399.3 164.2,399.9 164.8,398.8 165.3,399.0 165.8,398.8 166.3,399.6 166.9,400.3 167.4,399.8 167.9,400.6 168.5,400.7 169.0,399.7 169.5,400.8 170.0,401.3 170.6,401.4 171.1,400.8 171.6,402.0 172.2,401.5 172.7,401.8 173.2,401.9 173.7,402.4 174.3,402.6 174.8,402.8 175.3,403.0 175.9,403.1 176.4,403.3 176.9,403.6 177.5,404.4 178.0,404.2 178.5,404.6 179.0,405.2 179.6,404.8 180.1,405.4 180.6,404.6 181.2,406.3 181.7,405.6 182.2,405.3 182.7,406.0 183.3,406.2 183.8,406.0 184.3,406.2 184.9,405.8 185.4,405.9 185.9,405.8 186.5,405.6 187.0,406.0 187.5,405.3 188.0,405.4 188.6,404.7 189.1,406.0 189.6,406.2 190.2,405.4 190.7,406.4 191.2,405.9 191.7,405.8 192.3,405.9 192.8,405.9 193.3,406.4 193.9,405.9 194.4,406.2 194.9,405.1 195.5,406.0 196.0,405.9 196.5,405.6 197.0,405.5 197.6,405.7 198.1,405.5 198.6,405.4 199.2,405.8 199.7,405.8 200.2,405.3 200.7,406.4 201.3,405.5 201.8,405.2 202.3,406.7 202.9,406.3 203.4,405.9 203.9,405.9 204.4,405.6 205.0,406.6 205.5,405.9 206.0,406.6 206.6,405.9 207.1,405.9 207.6,406.6 208.2,406.0 208.7,405.4 209.2,406.1 209.7,405.6 210.3,405.2 210.8,406.0 211.3,406.1 211.9,405.8 212.4,405.6 212.9,406.0 213.4,406.2 214.0,406.3 214.5,406.0 215.0,405.5 215.6,406.2 216.1,406.0 216.6,406.2 217.2,406.3 217.7,406.5 218.2,406.6 218.7,405.4 219.3,405.6 219.8,405.2 220.3,405.3 220.9,405.0 221.4,405.6 221.9,405.6 222.4,404.8 223.0,403.7 223.5,404.6 224.0,404.4 224.6,403.7 225.1,403.7 225.6,403.4 226.2,403.4 226.7,403.3 227.2,403.5 227.7,402.5 228.3,403.0 228.8,402.5 229.3,402.6 229.9,401.9 230.4,402.0 230.9,402.1 231.4,402.4 232.0,402.7 232.5,401.7 233.0,401.2 233.6,401.8 234.1,401.4 234.6,401.3 235.1,400.8 235.7,400.7 236.2,399.9 236.7,400.8 237.3,400.7 237.8,399.8 238.3,399.9 238.9,400.7 239.4,399.6 239.9,400.0 240.4,399.6 241.0,400.1 241.5,399.7 242.0,400.0 242.6,400.7 243.1,399.5 243.6,399.4 244.1,400.2 244.7,400.3 245.2,400.0 245.7,400.3 246.3,399.5 246.8,399.8 247.3,400.1 247.9,399.7 248.4,399.1 248.9,399.8 249.4,399.3 250.0,400.5" fill="none" stroke="#e2bd3c" stroke-width="1.0" stroke-linejoin="round" stroke-dasharray="2.2,0.5"/>
<rect x="264.0" y="311.8" width="200.5" height="13.2" fill="#8dd3ea"/>
<rect x="264.0" y="325.0" width="200.5" height="201.3" fill="#ebecec"/>
<line x1="264.0" x2="464.5" y1="518.0" y2="518.0" stroke="#f4f4f4" stroke-width="0.9"/>
<line x1="264.0" x2="464.5" y1="490.3" y2="490.3" stroke="#f0f0f0" stroke-width="0.63"/>
<line x1="264.0" x2="464.5" y1="462.7" y2="462.7" stroke="#f4f4f4" stroke-width="0.9"/>
<line x1="264.0" x2="464.5" y1="435.0" y2="435.0" stroke="#f0f0f0" stroke-width="0.63"/>
<line x1="264.0" x2="464.5" y1="407.3" y2="407.3" stroke="#f4f4f4" stroke-width="0.9"/>
<line x1="264.0" x2="464.5" y1="379.7" y2="379.7" stroke="#f0f0f0" stroke-width="0.63"/>
<line x1="264.0" x2="464.5" y1="352.0" y2="352.0" stroke="#f4f4f4" stroke-width="0.9"/>
<line x1="291.4" x2="291.4" y1="325.0" y2="526.3" stroke="#f0f0f0" stroke-width="0.8"/>
<line x1="339.8" x2="339.8" y1="325.0" y2="526.3" stroke="#f0f0f0" stroke-width="0.8"/>
<line x1="388.0" x2="388.0" y1="325.0" y2="526.3" stroke="#f0f0f0" stroke-width="0.8"/>
<line x1="436.3" x2="436.3" y1="325.0" y2="526.3" stroke="#f0f0f0" stroke-width="0.8"/>
<line x1="267.3" x2="267.3" y1="325.0" y2="526.3" stroke="#f4f4f4" stroke-width="0.9"/>
<line x1="315.6" x2="315.6" y1="325.0" y2="526.3" stroke="#f4f4f4" stroke-width="0.9"/>
<line x1="363.9" x2="363.9" y1="325.0" y2="526.3" stroke="#f4f4f4" stroke-width="0.9"/>
<line x1="412.2" x2="412.2" y1="325.0" y2="526.3" stroke="#f4f4f4" stroke-width="0.9"/>
<line x1="460.5" x2="460.5" y1="325.0" y2="526.3" stroke="#f4f4f4" stroke-width="0.9"/>
<line x1="315.6" x2="315.6" y1="526.3" y2="528.0999999999999" stroke="#555" stroke-width="0.8"/>
<line x1="412.2" x2="412.2" y1="526.3" y2="528.0999999999999" stroke="#555" stroke-width="0.8"/>
<line x1="460.5" x2="460.5" y1="526.3" y2="528.0999999999999" stroke="#555" stroke-width="0.8"/>
<text x="362" y="306.2" font-size="12" text-anchor="middle" font-weight="bold" textLength="71" lengthAdjust="spacingAndGlyphs" fill="#141414" stroke="#141414" stroke-width="0.25">3-day-ahead</text>
<text x="317.4" y="322.4" font-size="11" text-anchor="middle" textLength="25" lengthAdjust="spacingAndGlyphs" fill="#141414" stroke="#141414" stroke-width="0.25">2018</text>
<text x="413.1" y="322.4" font-size="11" text-anchor="middle" textLength="25" lengthAdjust="spacingAndGlyphs" fill="#141414" stroke="#141414" stroke-width="0.25">2019</text>
<text x="267.7" y="535.3" font-size="10.8" text-anchor="middle" fill="#141414" stroke="#141414" stroke-width="0.25">Jan</text>
<text x="363.7" y="535.3" font-size="10.8" text-anchor="middle" fill="#141414" stroke="#141414" stroke-width="0.25">Jan</text>
<path d="M268.1,403.6 268.4,384.2 268.6,367.2 268.9,394.2 269.2,373.5 269.4,378.0 269.7,393.3 269.9,357.5 270.2,391.9 270.5,386.7 270.7,389.3 271.0,389.2 271.3,392.7 271.5,382.3 271.8,377.6 272.1,390.6 272.3,399.1 272.6,387.4 272.9,368.4 273.1,381.0 273.4,378.5 273.7,386.9 273.9,392.0 274.2,390.6 274.4,402.3 274.7,385.1 275.0,392.8 275.2,393.6 275.5,397.2 275.8,396.0 276.0,400.8 276.3,399.0 276.6,385.6 276.8,388.6 277.1,384.0 277.4,406.8 277.6,387.1 277.9,401.5 278.2,410.1 278.4,389.0 278.7,391.7 278.9,388.0 279.2,404.7 279.5,396.4 279.7,383.5 280.0,414.7 280.3,397.7 280.5,389.6 280.8,392.2 281.1,390.9 281.3,395.6 281.6,399.9 281.9,403.2 282.1,361.6 282.4,401.3 282.7,399.6 282.9,397.4 283.2,411.9 283.4,395.0 283.7,395.4 284.0,392.9 284.2,381.9 284.5,405.9 284.8,405.2 285.0,391.5 285.3,429.1 285.6,410.0 285.8,390.4 286.1,395.2 286.4,397.5 286.6,400.5 286.9,394.5 287.1,399.9 287.4,404.2 287.7,400.0 287.9,404.5 288.2,415.8 288.5,399.5 288.7,401.6 289.0,402.1 289.3,396.8 289.5,403.8 289.8,405.5 290.1,407.2 290.3,399.7 290.6,411.9 290.9,410.1 291.1,414.0 291.4,399.5 291.6,393.4 291.9,411.6 292.2,406.0 292.4,405.4 292.7,404.6 293.0,420.1 293.2,391.6 293.5,400.3 293.8,400.5 294.0,407.2 294.3,419.3 294.6,415.7 294.8,407.3 295.1,400.0 295.4,404.8 295.6,395.6 295.9,394.3 296.1,409.8 296.4,399.8 296.7,435.0 296.9,414.7 297.2,399.6 297.5,410.0 297.7,405.6 298.0,406.7 298.3,413.6 298.5,409.8 298.8,400.8 299.1,415.9 299.3,407.3 299.6,408.8 299.9,407.5 300.1,420.9 300.4,414.6 300.6,405.1 300.9,407.2 301.2,398.5 301.4,408.0 301.7,414.2 302.0,413.1 302.2,410.3 302.5,409.4 302.8,408.6 303.0,399.8 303.3,405.5 303.6,412.0 303.8,417.7 304.1,416.8 304.4,413.5 304.6,401.3 304.9,416.1 305.1,410.7 305.4,420.6 305.7,419.7 305.9,413.0 306.2,402.3 306.5,418.0 306.7,407.5 307.0,405.9 307.3,423.8 307.5,418.8 307.8,422.2 308.1,411.7 308.3,403.1 308.6,407.8 308.9,410.1 309.1,420.4 309.4,422.5 309.6,417.3 309.9,407.3 310.2,407.8 310.4,415.9 310.7,408.4 311.0,401.6 311.2,406.1 311.5,406.9 311.8,404.5 312.0,403.0 312.3,414.2 312.6,407.0 312.8,415.9 313.1,419.5 313.4,421.6 313.6,400.8 313.9,407.5 314.1,410.9 314.4,420.5 314.7,412.9 314.9,425.9 315.2,408.4 315.5,406.5 315.7,395.3 316.0,413.0 316.3,423.5 316.5,422.7 316.8,416.9 317.1,408.3 317.3,403.3 317.6,414.0 317.8,412.5 318.1,424.1 318.4,424.7 318.6,419.3 318.9,418.0 319.2,408.0 319.4,399.6 319.7,413.2 320.0,411.0 320.2,403.6 320.5,405.7 320.8,427.9 321.0,407.9 321.3,401.9 321.6,420.9 321.8,419.1 322.1,422.0 322.3,425.2 322.6,424.9 322.9,404.2 323.1,401.1 323.4,402.2 323.7,413.0 323.9,426.3 324.2,416.8 324.5,419.7 324.7,403.0 325.0,410.0 325.3,423.5 325.5,410.4 325.8,426.8 326.1,420.8 326.3,415.5 326.6,403.0 326.8,385.1 327.1,427.0 327.4,410.8 327.6,409.1 327.9,418.4 328.2,413.3 328.4,412.2 328.7,404.8 329.0,408.4 329.2,419.2 329.5,417.7 329.8,417.5 330.0,421.6 330.3,398.3 330.6,407.7 330.8,403.1 331.1,405.0 331.3,412.6 331.6,401.8 331.9,435.0 332.1,416.5 332.4,413.3 332.7,408.6 332.9,417.6 333.2,411.9 333.5,413.9 333.7,419.4 334.0,404.9 334.3,398.2 334.5,399.8 334.8,416.4 335.1,413.0 335.3,416.9 335.6,417.3 335.8,393.0 336.1,402.4 336.4,401.4 336.6,399.1 336.9,414.0 337.2,415.1 337.4,414.7 337.7,395.6 338.0,406.8 338.2,404.7 338.5,402.4 338.8,402.9 339.0,410.3 339.3,419.5 339.6,411.9 339.8,398.2 340.1,421.1 340.3,415.3 340.6,412.9 340.9,415.2 341.1,424.2 341.4,398.6 341.7,409.4 341.9,408.8 342.2,402.9 342.5,408.8 342.7,407.2 343.0,409.0 343.3,398.6 343.5,402.4 343.8,393.0 344.1,407.6 344.3,395.9 344.6,415.7 344.8,405.6 345.1,396.3 345.4,406.2 345.6,422.0 345.9,394.2 346.2,413.3 346.4,414.7 346.7,408.3 347.0,395.6 347.2,398.0 347.5,390.7 347.8,413.9 348.0,398.1 348.3,413.1 348.5,418.5 348.8,390.6 349.1,390.4 349.3,402.8 349.6,404.4 349.9,404.2 350.1,432.7 350.4,411.6 350.7,399.8 350.9,404.8 351.2,398.4 351.5,402.8 351.7,389.8 352.0,393.3 352.3,418.0 352.5,405.6 352.8,402.1 353.0,394.0 353.3,397.8 353.6,392.7 353.8,399.9 354.1,397.7 354.4,391.4 354.6,411.2 354.9,404.7 355.2,403.3 355.4,401.1 355.7,407.7 356.0,389.8 356.2,388.7 356.5,382.3 356.8,397.0 357.0,383.6 357.3,404.6 357.5,394.5 357.8,409.5 358.1,382.5 358.3,378.4 358.6,404.7 358.9,400.2 359.1,392.5 359.4,398.7 359.7,408.5 359.9,375.9 360.2,388.4 360.5,382.4 360.7,390.7 361.0,380.5 361.3,400.2 361.5,387.7 361.8,393.8 362.0,391.4 362.3,386.7 362.6,384.8 362.8,386.7 363.1,406.8 363.4,381.7 363.6,384.1 363.9,387.2 364.2,390.4 364.4,393.3 364.7,399.2 365.0,397.6 365.2,386.6 365.5,392.2 365.8,404.6 366.0,385.6 366.3,388.3 366.5,385.9 366.8,381.6 367.1,401.1 367.3,380.0 367.6,382.0 367.9,379.7 368.1,382.4 368.4,396.9 368.7,404.1 368.9,408.5 369.2,363.1 369.5,377.2 369.7,391.7 370.0,392.8 370.3,397.5 370.5,382.8 370.8,393.3 371.0,384.4 371.3,381.3 371.6,389.8 371.8,386.1 372.1,381.4 372.4,396.5 372.6,392.1 372.9,378.2 373.2,388.1 373.4,404.5 373.7,390.7 374.0,396.4 374.2,392.8 374.5,404.1 374.8,377.3 375.0,386.3 375.3,386.0 375.5,395.2 375.8,398.0 376.1,402.1 376.3,388.5 376.6,384.2 376.9,388.9 377.1,403.7 377.4,392.2 377.7,418.1 377.9,385.7 378.2,398.9 378.5,382.9 378.7,398.3 379.0,399.3 379.3,388.3 379.5,395.1 379.8,393.8 380.0,389.1 380.3,379.8 380.6,403.2 380.8,417.1 381.1,402.5 381.4,401.6 381.6,413.5 381.9,414.7 382.2,391.6 382.4,395.2 382.7,390.5 383.0,398.0 383.2,368.6 383.5,413.0 383.7,411.3 384.0,386.0 384.3,394.3 384.5,402.8 384.8,391.6 385.1,390.2 385.3,391.9 385.6,405.6 385.9,389.4 386.1,392.3 386.4,396.8 386.7,391.4 386.9,402.9 387.2,400.1 387.5,419.7 387.7,385.6 388.0,383.9 388.2,398.8 388.5,392.8 388.8,412.5 389.0,406.4 389.3,416.3 389.6,390.1 389.8,393.2 390.1,409.6 390.4,407.3 390.6,406.3 390.9,388.7 391.2,407.3 391.4,393.0 391.7,395.7 392.0,399.4 392.2,404.4 392.5,412.7 392.7,411.4 393.0,396.9 393.3,393.5 393.5,402.2 393.8,412.0 394.1,404.5 394.3,404.7 394.6,412.5 394.9,403.4 395.1,400.7 395.4,402.2 395.7,398.5 395.9,404.0 396.2,398.7 396.5,411.0 396.7,413.7 397.0,395.0 397.2,401.0 397.5,397.6 397.8,404.2 398.0,407.8 398.3,407.6 398.6,407.5 398.8,406.7 399.1,404.4 399.4,408.7 399.6,399.7 399.9,411.6 400.2,404.4 400.4,421.1 400.7,400.5 401.0,397.2 401.2,409.0 401.5,400.9 401.7,422.7 402.0,412.1 402.3,412.4 402.5,417.2 402.8,429.4 403.1,403.8 403.3,424.7 403.6,403.9 403.9,411.2 404.1,407.8 404.4,403.6 404.7,413.3 404.9,412.4 405.2,413.3 405.5,407.0 405.7,415.9 406.0,412.4 406.2,399.6 406.5,397.6 406.8,422.7 407.0,413.7 407.3,407.3 407.6,419.1 407.8,419.4 408.1,405.1 408.4,408.0 408.6,409.4 408.9,415.1 409.2,416.2 409.4,422.1 409.7,418.5 410.0,394.7 410.2,413.8 410.5,404.3 410.7,399.2 411.0,411.0 411.3,399.9 411.5,417.2 411.8,406.7 412.1,408.2 412.3,418.6 412.6,409.7 412.9,400.4 413.1,419.2 413.4,413.4 413.7,410.6 413.9,413.9 414.2,408.1 414.4,413.4 414.7,409.2 415.0,407.4 415.2,424.4 415.5,408.9 415.8,408.2 416.0,396.4 416.3,399.6 416.6,416.1 416.8,413.1 417.1,403.5 417.4,408.4 417.6,410.5 417.9,411.1 418.2,407.6 418.4,399.0 418.7,411.4 418.9,427.5 419.2,403.5 419.5,404.9 419.7,425.5 420.0,416.2 420.3,415.8 420.5,418.9 420.8,413.5 421.1,403.2 421.3,404.0 421.6,408.2 421.9,418.9 422.1,404.6 422.4,418.9 422.7,415.6 422.9,396.9 423.2,411.6 423.4,413.2 423.7,416.7 424.0,418.4 424.2,402.2 424.5,413.2 424.8,391.9 425.0,403.1 425.3,410.1 425.6,413.5 425.8,400.2 426.1,415.3 426.4,410.3 426.6,409.4 426.9,406.6 427.2,407.4 427.4,412.9 427.7,413.4 427.9,411.1 428.2,412.1 428.5,403.9 428.7,407.2 429.0,413.5 429.3,407.3 429.5,412.2 429.8,424.3 430.1,417.3 430.3,398.8 430.6,404.8 430.9,415.2 431.1,405.7 431.4,407.1 431.7,409.8 431.9,404.9 432.2,404.5 432.4,402.3 432.7,410.7 433.0,403.6 433.2,403.0 433.5,410.2 433.8,409.6 434.0,407.2 434.3,401.7 434.6,416.3 434.8,395.5 435.1,402.6 435.4,423.0 435.6,431.5 435.9,392.9 436.2,411.0 436.4,404.6 436.7,417.7 436.9,409.1 437.2,416.6 437.5,409.4 437.7,402.7 438.0,394.6 438.3,412.1 438.5,399.6 438.8,408.6 439.1,407.8 439.3,422.8 439.6,401.2 439.9,396.2 440.1,414.2 440.4,409.2 440.7,409.5 440.9,416.2 441.2,409.8 441.4,407.6 441.7,410.1 442.0,398.6 442.2,411.3 442.5,401.3 442.8,404.6 443.0,399.8 443.3,393.9 443.6,413.3 443.8,408.1 444.1,407.5 444.4,380.7 444.6,405.6 444.9,412.3 445.1,392.8 445.4,402.2 445.7,398.8 445.9,402.5 446.2,396.3 446.5,404.3 446.7,400.6 447.0,394.0 447.3,392.9 447.5,401.6 447.8,396.9 448.1,400.1 448.3,405.3 448.6,408.2 448.9,393.5 449.1,392.2 449.4,414.4 449.6,390.4 449.9,416.2 450.2,403.6 450.4,405.5 450.7,370.7 451.0,391.5 451.2,396.3 451.5,396.3 451.8,390.4 452.0,383.2 452.3,398.3 452.6,401.7 452.8,394.0 453.1,390.7 453.4,370.6 453.6,400.6 453.9,380.9 454.1,394.1 454.4,381.1 454.7,397.0 454.9,382.6 455.2,400.1 455.5,392.2 455.7,382.8 456.0,403.3 456.3,380.8 456.5,369.3 456.8,386.6 457.1,393.3 457.3,389.7 457.6,381.4 457.9,400.6 458.1,377.6 458.4,388.0 458.6,368.5 458.9,369.3 459.2,380.1 459.4,385.6 459.7,354.8 460.0,391.6 460.2,380.2" fill="none" stroke="#58a4ec" stroke-width="0.55" stroke-linejoin="round"/>
<path d="M268.1,399.7 268.6,399.7 269.2,399.5 269.7,400.3 270.2,400.4 270.7,400.0 271.3,399.7 271.8,399.0 272.3,399.9 272.9,399.4 273.4,400.3 273.9,399.8 274.4,400.0 275.0,400.5 275.5,399.1 276.0,400.0 276.6,399.7 277.1,400.5 277.6,399.8 278.2,399.4 278.7,400.0 279.2,399.9 279.7,399.9 280.3,399.6 280.8,400.0 281.3,400.1 281.9,399.1 282.4,399.7 282.9,400.1 283.4,400.1 284.0,400.2 284.5,399.5 285.0,400.0 285.6,399.1 286.1,400.2 286.6,399.7 287.1,399.7 287.7,399.7 288.2,400.0 288.7,400.3 289.3,399.6 289.8,399.8 290.3,399.7 290.9,400.2 291.4,399.9 291.9,400.2 292.4,400.9 293.0,401.1 293.5,401.2 294.0,401.6 294.6,401.6 295.1,401.6 295.6,401.8 296.1,402.1 296.7,403.2 297.2,402.1 297.7,402.9 298.3,402.8 298.8,402.8 299.3,403.0 299.9,403.9 300.4,404.0 300.9,404.3 301.4,404.8 302.0,404.8 302.5,404.5 303.0,405.3 303.6,405.3 304.1,405.5 304.6,405.1 305.1,405.8 305.7,405.9 306.2,406.3 306.7,405.6 307.3,406.1 307.8,406.2 308.3,405.0 308.9,406.2 309.4,405.8 309.9,406.3 310.4,406.3 311.0,405.5 311.5,406.2 312.0,406.3 312.6,405.6 313.1,405.8 313.6,406.4 314.1,406.0 314.7,405.6 315.2,406.0 315.7,406.3 316.3,406.1 316.8,406.1 317.3,406.1 317.8,406.0 318.4,405.9 318.9,406.0 319.4,405.6 320.0,405.6 320.5,406.2 321.0,405.9 321.6,404.6 322.1,406.5 322.6,405.9 323.1,406.6 323.7,405.9 324.2,405.8 324.7,405.5 325.3,405.7 325.8,406.3 326.3,406.7 326.8,406.1 327.4,406.5 327.9,405.8 328.4,405.9 329.0,406.5 329.5,406.7 330.0,405.6 330.6,405.5 331.1,406.5 331.6,405.7 332.1,406.4 332.7,406.0 333.2,406.4 333.7,405.6 334.3,406.1 334.8,405.9 335.3,405.2 335.8,405.6 336.4,405.1 336.9,406.7 337.4,406.0 338.0,406.0 338.5,405.6 339.0,406.3 339.6,405.2 340.1,404.9 340.6,404.8 341.1,404.8 341.7,404.4 342.2,404.1 342.7,404.1 343.3,403.5 343.8,403.3 344.3,402.8 344.8,403.0 345.4,402.3 345.9,402.6 346.4,401.5 347.0,401.1 347.5,401.2 348.0,400.8 348.5,400.9 349.1,400.1 349.6,400.3 350.1,399.0 350.7,400.4 351.2,399.6 351.7,400.0 352.3,399.3 352.8,399.4 353.3,399.4 353.8,399.7 354.4,399.9 354.9,399.9 355.4,399.9 356.0,400.1 356.5,399.1 357.0,399.8 357.5,399.6 358.1,399.6 358.6,399.4 359.1,399.3 359.7,399.3 360.2,400.0 360.7,399.5 361.3,399.0 361.8,399.1 362.3,400.0 362.8,399.7 363.4,399.1 363.9,399.5 364.4,400.0 365.0,399.9 365.5,399.5 366.0,399.6 366.5,399.6 367.1,399.4 367.6,400.1 368.1,399.4 368.7,399.9 369.2,399.3 369.7,399.5 370.3,400.1 370.8,399.0 371.3,399.7 371.8,399.8 372.4,399.1 372.9,400.0 373.4,399.4 374.0,399.4 374.5,399.3 375.0,399.5 375.5,399.2 376.1,400.2 376.6,399.9 377.1,399.4 377.7,399.1 378.2,399.8 378.7,400.1 379.3,400.5 379.8,400.6 380.3,400.6 380.8,401.1 381.4,402.0 381.9,401.7 382.4,401.7 383.0,402.3 383.5,402.2 384.0,402.2 384.5,403.1 385.1,402.8 385.6,403.2 386.1,404.3 386.7,403.4 387.2,404.4 387.7,403.9 388.2,404.2 388.8,404.1 389.3,404.3 389.8,404.7 390.4,405.5 390.9,405.3 391.4,405.6 392.0,405.9 392.5,406.1 393.0,405.6 393.5,405.9 394.1,405.2 394.6,406.4 395.1,406.4 395.7,405.7 396.2,406.2 396.7,405.8 397.2,405.8 397.8,406.0 398.3,406.0 398.8,406.3 399.4,406.2 399.9,406.1 400.4,406.4 401.0,406.2 401.5,405.9 402.0,406.2 402.5,406.5 403.1,406.6 403.6,405.6 404.1,405.9 404.7,406.2 405.2,406.3 405.7,405.9 406.2,405.9 406.8,406.0 407.3,405.7 407.8,406.2 408.4,406.5 408.9,406.2 409.4,405.7 410.0,405.9 410.5,405.9 411.0,405.6 411.5,405.6 412.1,405.9 412.6,406.4 413.1,405.9 413.7,405.3 414.2,406.0 414.7,406.3 415.2,406.0 415.8,406.0 416.3,406.6 416.8,405.6 417.4,406.0 417.9,405.8 418.4,404.9 418.9,406.2 419.5,405.5 420.0,405.6 420.5,406.3 421.1,406.5 421.6,405.8 422.1,405.2 422.7,406.0 423.2,405.2 423.7,405.8 424.2,406.7 424.8,405.9 425.3,405.6 425.8,406.2 426.4,406.2 426.9,406.9 427.4,406.0 427.9,405.8 428.5,406.1 429.0,405.8 429.5,405.5 430.1,405.2 430.6,405.3 431.1,405.0 431.7,404.6 432.2,404.9 432.7,403.9 433.2,404.7 433.8,404.8 434.3,404.7 434.8,403.7 435.4,403.7 435.9,403.3 436.4,403.7 436.9,404.1 437.5,403.3 438.0,403.3 438.5,403.2 439.1,402.9 439.6,401.5 440.1,401.9 440.7,402.1 441.2,402.2 441.7,402.4 442.2,402.3 442.8,401.4 443.3,401.4 443.8,401.0 444.4,401.4 444.9,401.1 445.4,400.3 445.9,401.3 446.5,401.5 447.0,401.4 447.5,400.3 448.1,400.6 448.6,399.9 449.1,399.1 449.6,400.1 450.2,398.7 450.7,399.9 451.2,399.7 451.8,400.1 452.3,400.2 452.8,400.0 453.4,400.0 453.9,400.5 454.4,400.0 454.9,400.3 455.5,399.5 456.0,400.1 456.5,400.0 457.1,400.0 457.6,399.8 458.1,399.6 458.6,399.5 459.2,399.9 459.7,399.8 460.2,399.8" fill="none" stroke="#e2bd3c" stroke-width="1.0" stroke-linejoin="round" stroke-dasharray="2.2,0.5"/>
<rect x="477.0" y="311.8" width="201.0" height="13.2" fill="#8dd3ea"/>
<rect x="477.0" y="325.0" width="201.0" height="201.3" fill="#ebecec"/>
<line x1="477.0" x2="678.0" y1="518.0" y2="518.0" stroke="#f4f4f4" stroke-width="0.9"/>
<line x1="477.0" x2="678.0" y1="490.3" y2="490.3" stroke="#f0f0f0" stroke-width="0.63"/>
<line x1="477.0" x2="678.0" y1="462.7" y2="462.7" stroke="#f4f4f4" stroke-width="0.9"/>
<line x1="477.0" x2="678.0" y1="435.0" y2="435.0" stroke="#f0f0f0" stroke-width="0.63"/>
<line x1="477.0" x2="678.0" y1="407.3" y2="407.3" stroke="#f4f4f4" stroke-width="0.9"/>
<line x1="477.0" x2="678.0" y1="379.7" y2="379.7" stroke="#f0f0f0" stroke-width="0.63"/>
<line x1="477.0" x2="678.0" y1="352.0" y2="352.0" stroke="#f4f4f4" stroke-width="0.9"/>
<line x1="504.5" x2="504.5" y1="325.0" y2="526.3" stroke="#f0f0f0" stroke-width="0.8"/>
<line x1="552.8" x2="552.8" y1="325.0" y2="526.3" stroke="#f0f0f0" stroke-width="0.8"/>
<line x1="601.1" x2="601.1" y1="325.0" y2="526.3" stroke="#f0f0f0" stroke-width="0.8"/>
<line x1="649.4" x2="649.4" y1="325.0" y2="526.3" stroke="#f0f0f0" stroke-width="0.8"/>
<line x1="480.4" x2="480.4" y1="325.0" y2="526.3" stroke="#f4f4f4" stroke-width="0.9"/>
<line x1="528.7" x2="528.7" y1="325.0" y2="526.3" stroke="#f4f4f4" stroke-width="0.9"/>
<line x1="577.0" x2="577.0" y1="325.0" y2="526.3" stroke="#f4f4f4" stroke-width="0.9"/>
<line x1="625.3" x2="625.3" y1="325.0" y2="526.3" stroke="#f4f4f4" stroke-width="0.9"/>
<line x1="673.6" x2="673.6" y1="325.0" y2="526.3" stroke="#f4f4f4" stroke-width="0.9"/>
<line x1="528.7" x2="528.7" y1="526.3" y2="528.0999999999999" stroke="#555" stroke-width="0.8"/>
<line x1="625.3" x2="625.3" y1="526.3" y2="528.0999999999999" stroke="#555" stroke-width="0.8"/>
<line x1="673.6" x2="673.6" y1="526.3" y2="528.0999999999999" stroke="#555" stroke-width="0.8"/>
<text x="579.1" y="306.2" font-size="12" text-anchor="middle" font-weight="bold" textLength="72" lengthAdjust="spacingAndGlyphs" fill="#141414" stroke="#141414" stroke-width="0.25">7-day-ahead</text>
<text x="530" y="322.4" font-size="11" text-anchor="middle" textLength="25" lengthAdjust="spacingAndGlyphs" fill="#141414" stroke="#141414" stroke-width="0.25">2018</text>
<text x="625.6" y="322.4" font-size="11" text-anchor="middle" textLength="25" lengthAdjust="spacingAndGlyphs" fill="#141414" stroke="#141414" stroke-width="0.25">2019</text>
<text x="481" y="535.3" font-size="10.8" text-anchor="middle" fill="#141414" stroke="#141414" stroke-width="0.25">Jan</text>
<text x="577.4" y="535.3" font-size="10.8" text-anchor="middle" fill="#141414" stroke="#141414" stroke-width="0.25">Jan</text>
<path d="M482.3,373.5 482.5,378.0 482.8,393.3 483.0,357.5 483.3,391.9 483.6,386.7 483.8,389.3 484.1,389.2 484.4,392.7 484.6,382.3 484.9,377.6 485.2,390.6 485.4,399.1 485.7,387.4 486.0,368.4 486.2,381.0 486.5,378.5 486.8,386.9 487.0,392.0 487.3,390.6 487.5,402.3 487.8,385.1 488.1,392.8 488.3,393.6 488.6,397.2 488.9,396.0 489.1,400.8 489.4,399.0 489.7,385.6 489.9,388.6 490.2,384.0 490.5,406.8 490.7,387.1 491.0,401.5 491.3,410.1 491.5,389.0 491.8,391.7 492.0,388.0 492.3,404.7 492.6,396.4 492.8,383.5 493.1,414.7 493.4,397.7 493.6,389.6 493.9,392.2 494.2,390.9 494.4,395.6 494.7,399.9 495.0,403.2 495.2,361.6 495.5,401.3 495.8,399.6 496.0,397.4 496.3,411.9 496.5,395.0 496.8,395.4 497.1,392.9 497.3,381.9 497.6,405.9 497.9,405.2 498.1,391.5 498.4,429.1 498.7,410.0 498.9,390.4 499.2,395.2 499.5,397.5 499.7,400.5 500.0,394.5 500.2,399.9 500.5,404.2 500.8,400.0 501.0,404.5 501.3,415.8 501.6,399.5 501.8,401.6 502.1,402.1 502.4,396.8 502.6,403.8 502.9,405.5 503.2,407.2 503.4,399.7 503.7,411.9 504.0,410.1 504.2,414.0 504.5,399.5 504.7,393.4 505.0,411.6 505.3,406.0 505.5,405.4 505.8,404.6 506.1,420.1 506.3,391.6 506.6,400.3 506.9,400.5 507.1,407.2 507.4,419.3 507.7,415.7 507.9,407.3 508.2,400.0 508.5,404.8 508.7,395.6 509.0,394.3 509.2,409.8 509.5,399.8 509.8,435.0 510.0,414.7 510.3,399.6 510.6,410.0 510.8,405.6 511.1,406.7 511.4,413.6 511.6,409.8 511.9,400.8 512.2,415.9 512.4,407.3 512.7,408.8 513.0,407.5 513.2,420.9 513.5,414.6 513.7,405.1 514.0,407.2 514.3,398.5 514.5,408.0 514.8,414.2 515.1,413.1 515.3,410.3 515.6,409.4 515.9,408.6 516.1,399.8 516.4,405.5 516.7,412.0 516.9,417.7 517.2,416.8 517.5,413.5 517.7,401.3 518.0,416.1 518.2,410.7 518.5,420.6 518.8,419.7 519.0,413.0 519.3,402.3 519.6,418.0 519.8,407.5 520.1,405.9 520.4,423.8 520.6,418.8 520.9,422.2 521.2,411.7 521.4,403.1 521.7,407.8 522.0,410.1 522.2,420.4 522.5,422.5 522.7,417.3 523.0,407.3 523.3,407.8 523.5,415.9 523.8,408.4 524.1,401.6 524.3,406.1 524.6,406.9 524.9,404.5 525.1,403.0 525.4,414.2 525.7,407.0 525.9,415.9 526.2,419.5 526.5,421.6 526.7,400.8 527.0,407.5 527.2,410.9 527.5,420.5 527.8,412.9 528.0,425.9 528.3,408.4 528.6,406.5 528.8,395.3 529.1,413.0 529.4,423.5 529.6,422.7 529.9,416.9 530.2,408.3 530.4,403.3 530.7,414.0 530.9,412.5 531.2,424.1 531.5,424.7 531.7,419.3 532.0,418.0 532.3,408.0 532.5,399.6 532.8,413.2 533.1,411.0 533.3,403.6 533.6,405.7 533.9,427.9 534.1,407.9 534.4,401.9 534.7,420.9 534.9,419.1 535.2,422.0 535.4,425.2 535.7,424.9 536.0,404.2 536.2,401.1 536.5,402.2 536.8,413.0 537.0,426.3 537.3,416.8 537.6,419.7 537.8,403.0 538.1,410.0 538.4,423.5 538.6,410.4 538.9,426.8 539.2,420.8 539.4,415.5 539.7,403.0 539.9,385.1 540.2,427.0 540.5,410.8 540.7,409.1 541.0,418.4 541.3,413.3 541.5,412.2 541.8,404.8 542.1,408.4 542.3,419.2 542.6,417.7 542.9,417.5 543.1,421.6 543.4,398.3 543.7,407.7 543.9,403.1 544.2,405.0 544.4,412.6 544.7,401.8 545.0,435.0 545.2,416.5 545.5,413.3 545.8,408.6 546.0,417.6 546.3,411.9 546.6,413.9 546.8,419.4 547.1,404.9 547.4,398.2 547.6,399.8 547.9,416.4 548.2,413.0 548.4,416.9 548.7,417.3 548.9,393.0 549.2,402.4 549.5,401.4 549.7,399.1 550.0,414.0 550.3,415.1 550.5,414.7 550.8,395.6 551.1,406.8 551.3,404.7 551.6,402.4 551.9,402.9 552.1,410.3 552.4,419.5 552.7,411.9 552.9,398.2 553.2,421.1 553.4,415.3 553.7,412.9 554.0,415.2 554.2,424.2 554.5,398.6 554.8,409.4 555.0,408.8 555.3,402.9 555.6,408.8 555.8,407.2 556.1,409.0 556.4,398.6 556.6,402.4 556.9,393.0 557.2,407.6 557.4,395.9 557.7,415.7 557.9,405.6 558.2,396.3 558.5,406.2 558.7,422.0 559.0,394.2 559.3,413.3 559.5,414.7 559.8,408.3 560.1,395.6 560.3,398.0 560.6,390.7 560.9,413.9 561.1,398.1 561.4,413.1 561.6,418.5 561.9,390.6 562.2,390.4 562.4,402.8 562.7,404.4 563.0,404.2 563.2,432.7 563.5,411.6 563.8,399.8 564.0,404.8 564.3,398.4 564.6,402.8 564.8,389.8 565.1,393.3 565.4,418.0 565.6,405.6 565.9,402.1 566.1,394.0 566.4,397.8 566.7,392.7 566.9,399.9 567.2,397.7 567.5,391.4 567.7,411.2 568.0,404.7 568.3,403.3 568.5,401.1 568.8,407.7 569.1,389.8 569.3,388.7 569.6,382.3 569.9,397.0 570.1,383.6 570.4,404.6 570.6,394.5 570.9,409.5 571.2,382.5 571.4,378.4 571.7,404.7 572.0,400.2 572.2,392.5 572.5,398.7 572.8,408.5 573.0,375.9 573.3,388.4 573.6,382.4 573.8,390.7 574.1,380.5 574.4,400.2 574.6,387.7 574.9,393.8 575.1,391.4 575.4,386.7 575.7,384.8 575.9,386.7 576.2,406.8 576.5,381.7 576.7,384.1 577.0,387.2 577.3,390.4 577.5,393.3 577.8,399.2 578.1,397.6 578.3,386.6 578.6,392.2 578.9,404.6 579.1,385.6 579.4,388.3 579.6,385.9 579.9,381.6 580.2,401.1 580.4,380.0 580.7,382.0 581.0,379.7 581.2,382.4 581.5,396.9 581.8,404.1 582.0,408.5 582.3,363.1 582.6,377.2 582.8,391.7 583.1,392.8 583.4,397.5 583.6,382.8 583.9,393.3 584.1,384.4 584.4,381.3 584.7,389.8 584.9,386.1 585.2,381.4 585.5,396.5 585.7,392.1 586.0,378.2 586.3,388.1 586.5,404.5 586.8,390.7 587.1,396.4 587.3,392.8 587.6,404.1 587.9,377.3 588.1,386.3 588.4,386.0 588.6,395.2 588.9,398.0 589.2,402.1 589.4,388.5 589.7,384.2 590.0,388.9 590.2,403.7 590.5,392.2 590.8,418.1 591.0,385.7 591.3,398.9 591.6,382.9 591.8,398.3 592.1,399.3 592.4,388.3 592.6,395.1 592.9,393.8 593.1,389.1 593.4,379.8 593.7,403.2 593.9,417.1 594.2,402.5 594.5,401.6 594.7,413.5 595.0,414.7 595.3,391.6 595.5,395.2 595.8,390.5 596.1,398.0 596.3,368.6 596.6,413.0 596.8,411.3 597.1,386.0 597.4,394.3 597.6,402.8 597.9,391.6 598.2,390.2 598.4,391.9 598.7,405.6 599.0,389.4 599.2,392.3 599.5,396.8 599.8,391.4 600.0,402.9 600.3,400.1 600.6,419.7 600.8,385.6 601.1,383.9 601.3,398.8 601.6,392.8 601.9,412.5 602.1,406.4 602.4,416.3 602.7,390.1 602.9,393.2 603.2,409.6 603.5,407.3 603.7,406.3 604.0,388.7 604.3,407.3 604.5,393.0 604.8,395.7 605.1,399.4 605.3,404.4 605.6,412.7 605.8,411.4 606.1,396.9 606.4,393.5 606.6,402.2 606.9,412.0 607.2,404.5 607.4,404.7 607.7,412.5 608.0,403.4 608.2,400.7 608.5,402.2 608.8,398.5 609.0,404.0 609.3,398.7 609.6,411.0 609.8,413.7 610.1,395.0 610.3,401.0 610.6,397.6 610.9,404.2 611.1,407.8 611.4,407.6 611.7,407.5 611.9,406.7 612.2,404.4 612.5,408.7 612.7,399.7 613.0,411.6 613.3,404.4 613.5,421.1 613.8,400.5 614.1,397.2 614.3,409.0 614.6,400.9 614.8,422.7 615.1,412.1 615.4,412.4 615.6,417.2 615.9,429.4 616.2,403.8 616.4,424.7 616.7,403.9 617.0,411.2 617.2,407.8 617.5,403.6 617.8,413.3 618.0,412.4 618.3,413.3 618.6,407.0 618.8,415.9 619.1,412.4 619.3,399.6 619.6,397.6 619.9,422.7 620.1,413.7 620.4,407.3 620.7,419.1 620.9,419.4 621.2,405.1 621.5,408.0 621.7,409.4 622.0,415.1 622.3,416.2 622.5,422.1 622.8,418.5 623.1,394.7 623.3,413.8 623.6,404.3 623.8,399.2 624.1,411.0 624.4,399.9 624.6,417.2 624.9,406.7 625.2,408.2 625.4,418.6 625.7,409.7 626.0,400.4 626.2,419.2 626.5,413.4 626.8,410.6 627.0,413.9 627.3,408.1 627.5,413.4 627.8,409.2 628.1,407.4 628.3,424.4 628.6,408.9 628.9,408.2 629.1,396.4 629.4,399.6 629.7,416.1 629.9,413.1 630.2,403.5 630.5,408.4 630.7,410.5 631.0,411.1 631.3,407.6 631.5,399.0 631.8,411.4 632.0,427.5 632.3,403.5 632.6,404.9 632.8,425.5 633.1,416.2 633.4,415.8 633.6,418.9 633.9,413.5 634.2,403.2 634.4,404.0 634.7,408.2 635.0,418.9 635.2,404.6 635.5,418.9 635.8,415.6 636.0,396.9 636.3,411.6 636.5,413.2 636.8,416.7 637.1,418.4 637.3,402.2 637.6,413.2 637.9,391.9 638.1,403.1 638.4,410.1 638.7,413.5 638.9,400.2 639.2,415.3 639.5,410.3 639.7,409.4 640.0,406.6 640.3,407.4 640.5,412.9 640.8,413.4 641.0,411.1 641.3,412.1 641.6,403.9 641.8,407.2 642.1,413.5 642.4,407.3 642.6,412.2 642.9,424.3 643.2,417.3 643.4,398.8 643.7,404.8 644.0,415.2 644.2,405.7 644.5,407.1 644.8,409.8 645.0,404.9 645.3,404.5 645.5,402.3 645.8,410.7 646.1,403.6 646.3,403.0 646.6,410.2 646.9,409.6 647.1,407.2 647.4,401.7 647.7,416.3 647.9,395.5 648.2,402.6 648.5,423.0 648.7,431.5 649.0,392.9 649.3,411.0 649.5,404.6 649.8,417.7 650.0,409.1 650.3,416.6 650.6,409.4 650.8,402.7 651.1,394.6 651.4,412.1 651.6,399.6 651.9,408.6 652.2,407.8 652.4,422.8 652.7,401.2 653.0,396.2 653.2,414.2 653.5,409.2 653.8,409.5 654.0,416.2 654.3,409.8 654.5,407.6 654.8,410.1 655.1,398.6 655.3,411.3 655.6,401.3 655.9,404.6 656.1,399.8 656.4,393.9 656.7,413.3 656.9,408.1 657.2,407.5 657.5,380.7 657.7,405.6 658.0,412.3 658.2,392.8 658.5,402.2 658.8,398.8 659.0,402.5 659.3,396.3 659.6,404.3 659.8,400.6 660.1,394.0 660.4,392.9 660.6,401.6 660.9,396.9 661.2,400.1 661.4,405.3 661.7,408.2 662.0,393.5 662.2,392.2 662.5,414.4 662.7,390.4 663.0,416.2 663.3,403.6 663.5,405.5 663.8,370.7 664.1,391.5 664.3,396.3 664.6,396.3 664.9,390.4 665.1,383.2 665.4,398.3 665.7,401.7 665.9,394.0 666.2,390.7 666.5,370.6 666.7,400.6 667.0,380.9 667.2,394.1 667.5,381.1 667.8,397.0 668.0,382.6 668.3,400.1 668.6,392.2 668.8,382.8 669.1,403.3 669.4,380.8 669.6,369.3 669.9,386.6 670.2,393.3 670.4,389.7 670.7,381.4 671.0,400.6 671.2,377.6 671.5,388.0 671.7,368.5 672.0,369.3 672.3,380.1 672.5,385.6 672.8,354.8 673.1,391.6 673.3,380.2" fill="none" stroke="#58a4ec" stroke-width="0.55" stroke-linejoin="round"/>
<path d="M482.3,399.8 482.8,399.5 483.3,399.9 483.8,399.6 484.4,399.6 484.9,399.6 485.4,400.6 486.0,399.5 486.5,399.4 487.0,400.3 487.5,399.5 488.1,399.9 488.6,400.0 489.1,400.2 489.7,399.9 490.2,400.6 490.7,400.1 491.3,400.0 491.8,400.3 492.3,400.0 492.8,399.3 493.4,400.3 493.9,400.5 494.4,399.8 495.0,400.1 495.5,399.8 496.0,399.6 496.5,400.8 497.1,400.2 497.6,399.2 498.1,400.2 498.7,400.7 499.2,399.3 499.7,400.0 500.2,399.8 500.8,399.8 501.3,400.4 501.8,400.1 502.4,400.2 502.9,400.6 503.4,399.5 504.0,400.6 504.5,400.1 505.0,400.1 505.5,401.1 506.1,401.0 506.6,402.0 507.1,401.5 507.7,401.2 508.2,402.1 508.7,401.8 509.2,402.1 509.8,402.9 510.3,402.8 510.8,402.7 511.4,403.2 511.9,402.7 512.4,403.6 513.0,403.4 513.5,404.3 514.0,403.9 514.5,403.6 515.1,404.4 515.6,404.5 516.1,404.8 516.7,404.8 517.2,404.6 517.7,404.6 518.2,406.1 518.8,406.2 519.3,405.3 519.8,405.7 520.4,406.0 520.9,406.5 521.4,406.1 522.0,405.7 522.5,406.1 523.0,406.2 523.5,406.0 524.1,406.3 524.6,406.0 525.1,405.8 525.7,405.9 526.2,405.6 526.7,405.3 527.2,405.5 527.8,406.1 528.3,406.2 528.8,406.1 529.4,406.7 529.9,405.5 530.4,405.4 530.9,406.6 531.5,406.4 532.0,405.8 532.5,405.9 533.1,406.1 533.6,406.2 534.1,406.3 534.7,405.9 535.2,405.7 535.7,405.8 536.2,405.5 536.8,405.9 537.3,406.1 537.8,406.5 538.4,406.4 538.9,406.7 539.4,406.0 539.9,406.3 540.5,406.1 541.0,405.9 541.5,406.0 542.1,406.3 542.6,406.4 543.1,405.8 543.7,406.1 544.2,406.2 544.7,406.7 545.2,405.9 545.8,406.1 546.3,406.4 546.8,405.4 547.4,405.6 547.9,406.3 548.4,405.8 548.9,406.3 549.5,405.9 550.0,405.5 550.5,406.3 551.1,405.3 551.6,406.5 552.1,405.9 552.7,405.5 553.2,406.2 553.7,404.8 554.2,404.9 554.8,405.1 555.3,405.0 555.8,403.9 556.4,403.6 556.9,403.4 557.4,401.9 557.9,403.0 558.5,402.8 559.0,402.1 559.5,402.2 560.1,402.2 560.6,401.3 561.1,400.2 561.6,400.8 562.2,400.6 562.7,400.1 563.2,400.1 563.8,399.5 564.3,399.4 564.8,399.6 565.4,400.2 565.9,399.6 566.4,399.4 566.9,399.9 567.5,399.6 568.0,399.3 568.5,399.6 569.1,399.6 569.6,400.1 570.1,399.6 570.6,399.8 571.2,399.6 571.7,400.0 572.2,398.9 572.8,400.0 573.3,399.3 573.8,399.6 574.4,399.7 574.9,399.4 575.4,400.0 575.9,399.5 576.5,399.6 577.0,400.3 577.5,399.5 578.1,399.4 578.6,399.5 579.1,399.9 579.6,399.6 580.2,399.5 580.7,399.5 581.2,400.2 581.8,400.2 582.3,399.7 582.8,399.3 583.4,399.9 583.9,399.4 584.4,399.9 584.9,399.5 585.5,399.4 586.0,399.7 586.5,399.6 587.1,399.9 587.6,399.0 588.1,399.9 588.6,398.7 589.2,399.8 589.7,399.5 590.2,399.8 590.8,400.2 591.3,400.0 591.8,400.4 592.4,400.9 592.9,401.0 593.4,401.2 593.9,400.8 594.5,401.3 595.0,401.9 595.5,402.1 596.1,403.0 596.6,402.3 597.1,402.9 597.6,402.8 598.2,402.5 598.7,403.3 599.2,403.9 599.8,403.3 600.3,403.9 600.8,404.0 601.3,404.3 601.9,404.4 602.4,404.5 602.9,404.1 603.5,406.0 604.0,405.3 604.5,405.7 605.1,405.9 605.6,405.3 606.1,406.3 606.6,406.5 607.2,405.7 607.7,406.1 608.2,405.9 608.8,405.9 609.3,406.7 609.8,406.2 610.3,406.0 610.9,406.1 611.4,405.8 611.9,406.5 612.5,406.3 613.0,405.6 613.5,406.2 614.1,406.1 614.6,406.3 615.1,405.8 615.6,406.4 616.2,406.8 616.7,406.5 617.2,405.5 617.8,405.8 618.3,405.7 618.8,406.3 619.3,406.1 619.9,405.6 620.4,405.5 620.9,406.0 621.5,405.4 622.0,406.1 622.5,406.0 623.1,405.6 623.6,406.0 624.1,405.7 624.6,406.5 625.2,406.2 625.7,405.7 626.2,406.1 626.8,405.8 627.3,405.7 627.8,405.7 628.3,405.7 628.9,406.4 629.4,405.7 629.9,405.9 630.5,406.1 631.0,406.4 631.5,406.3 632.0,405.5 632.6,406.2 633.1,405.6 633.6,405.7 634.2,405.7 634.7,406.4 635.2,405.5 635.8,405.6 636.3,406.0 636.8,406.2 637.3,405.9 637.9,405.6 638.4,405.4 638.9,405.9 639.5,405.6 640.0,406.1 640.5,405.7 641.0,405.8 641.6,405.8 642.1,404.7 642.6,404.8 643.2,405.4 643.7,404.6 644.2,405.4 644.8,404.9 645.3,405.3 645.8,404.4 646.3,405.1 646.9,403.7 647.4,404.3 647.9,403.7 648.5,404.1 649.0,404.1 649.5,403.2 650.0,403.4 650.6,403.1 651.1,402.7 651.6,402.4 652.2,402.8 652.7,402.9 653.2,402.3 653.8,402.0 654.3,402.5 654.8,402.2 655.3,400.9 655.9,401.2 656.4,402.1 656.9,401.5 657.5,400.8 658.0,401.2 658.5,401.4 659.0,400.4 659.6,399.9 660.1,400.5 660.6,400.0 661.2,400.0 661.7,399.4 662.2,399.9 662.7,399.0 663.3,399.7 663.8,400.1 664.3,400.3 664.9,399.6 665.4,399.7 665.9,400.6 666.5,400.3 667.0,399.7 667.5,399.8 668.0,400.4 668.6,400.2 669.1,399.5 669.6,400.6 670.2,400.1 670.7,400.4 671.2,400.1 671.7,400.1 672.3,400.0 672.8,399.6 673.3,400.4" fill="none" stroke="#e2bd3c" stroke-width="1.0" stroke-linejoin="round" stroke-dasharray="2.2,0.5"/>
<text x="49.7" y="356.01" font-size="10.8" text-anchor="end" fill="#141414" stroke="#141414" stroke-width="0.25">0.3</text>
<text x="49.7" y="411.34000000000003" font-size="10.8" text-anchor="end" fill="#141414" stroke="#141414" stroke-width="0.25">0.2</text>
<text x="49.7" y="466.67" font-size="10.8" text-anchor="end" fill="#141414" stroke="#141414" stroke-width="0.25">0.1</text>
<text x="45.6" y="522.0" font-size="10.8" text-anchor="end" fill="#141414" stroke="#141414" stroke-width="0.25">0</text>
<text x="366.8" y="552.5" font-size="12.6" text-anchor="middle" textLength="87" lengthAdjust="spacingAndGlyphs" fill="#141414" stroke="#141414" stroke-width="0.25">Year and month</text>
<text transform="translate(19.2,420.7) rotate(-90)" font-size="12.8" text-anchor="middle" textLength="167" lengthAdjust="spacingAndGlyphs" fill="#141414" stroke="#141414" stroke-width="0.25">Incidence per 100,000 per day</text>
<text x="7.3" y="571.1" font-size="11.7" font-weight="bold" textLength="95.3" lengthAdjust="spacingAndGlyphs" fill="#141414" stroke="#141414" stroke-width="0.25">C) External place</text>
<rect x="52.7" y="605.2" width="200.5" height="12.2" fill="#8dd3ea"/>
<rect x="52.7" y="617.4" width="200.5" height="202.3" fill="#ebecec"/>
<line x1="52.7" x2="253.2" y1="812.0" y2="812.0" stroke="#f4f4f4" stroke-width="0.9"/>
<line x1="52.7" x2="253.2" y1="784.0" y2="784.0" stroke="#f0f0f0" stroke-width="0.63"/>
<line x1="52.7" x2="253.2" y1="756.1" y2="756.1" stroke="#f4f4f4" stroke-width="0.9"/>
<line x1="52.7" x2="253.2" y1="728.1" y2="728.1" stroke="#f0f0f0" stroke-width="0.63"/>
<line x1="52.7" x2="253.2" y1="700.2" y2="700.2" stroke="#f4f4f4" stroke-width="0.9"/>
<line x1="52.7" x2="253.2" y1="672.2" y2="672.2" stroke="#f0f0f0" stroke-width="0.63"/>
<line x1="52.7" x2="253.2" y1="644.3" y2="644.3" stroke="#f4f4f4" stroke-width="0.9"/>
<line x1="81.7" x2="81.7" y1="617.4" y2="819.7" stroke="#f0f0f0" stroke-width="0.8"/>
<line x1="130.2" x2="130.2" y1="617.4" y2="819.7" stroke="#f0f0f0" stroke-width="0.8"/>
<line x1="178.8" x2="178.8" y1="617.4" y2="819.7" stroke="#f0f0f0" stroke-width="0.8"/>
<line x1="227.3" x2="227.3" y1="617.4" y2="819.7" stroke="#f0f0f0" stroke-width="0.8"/>
<line x1="57.4" x2="57.4" y1="617.4" y2="819.7" stroke="#f4f4f4" stroke-width="0.9"/>
<line x1="105.9" x2="105.9" y1="617.4" y2="819.7" stroke="#f4f4f4" stroke-width="0.9"/>
<line x1="154.5" x2="154.5" y1="617.4" y2="819.7" stroke="#f4f4f4" stroke-width="0.9"/>
<line x1="203.0" x2="203.0" y1="617.4" y2="819.7" stroke="#f4f4f4" stroke-width="0.9"/>
<line x1="251.6" x2="251.6" y1="617.4" y2="819.7" stroke="#f4f4f4" stroke-width="0.9"/>
<line x1="105.9" x2="105.9" y1="819.7" y2="821.5" stroke="#555" stroke-width="0.8"/>
<line x1="203.0" x2="203.0" y1="819.7" y2="821.5" stroke="#555" stroke-width="0.8"/>
<line x1="251.6" x2="251.6" y1="819.7" y2="821.5" stroke="#555" stroke-width="0.8"/>
<text x="156.3" y="599.0" font-size="12" text-anchor="middle" font-weight="bold" textLength="55.7" lengthAdjust="spacingAndGlyphs" fill="#141414" stroke="#141414" stroke-width="0.25">Same-day</text>
<text x="106.3" y="614.5" font-size="11" text-anchor="middle" textLength="25" lengthAdjust="spacingAndGlyphs" fill="#141414" stroke="#141414" stroke-width="0.25">2018</text>
<text x="201.4" y="616.0999999999999" font-size="11" text-anchor="middle" textLength="25" lengthAdjust="spacingAndGlyphs" fill="#141414" stroke="#141414" stroke-width="0.25">2019</text>
<text x="52.8" y="829.5" font-size="10.8" text-anchor="middle" fill="#141414" stroke="#141414" stroke-width="0.25">Jan</text>
<text x="148" y="829.5" font-size="10.8" text-anchor="middle" fill="#141414" stroke="#141414" stroke-width="0.25">Jan</text>
<path d="M57.4,633.7 57.7,644.3 57.9,652.7 58.2,664.5 58.5,669.4 58.7,693.8 59.0,688.7 59.3,689.9 59.5,694.5 59.8,661.1 60.1,687.6 60.3,677.6 60.6,684.6 60.9,708.6 61.1,693.9 61.4,695.1 61.7,680.0 61.9,672.6 62.2,723.6 62.5,700.9 62.7,694.3 63.0,670.9 63.3,678.4 63.5,677.2 63.8,684.6 64.1,699.7 64.3,693.0 64.6,678.5 64.8,682.7 65.1,700.6 65.4,671.7 65.6,683.6 65.9,681.5 66.2,669.8 66.4,728.1 66.7,694.2 67.0,717.2 67.2,688.0 67.5,683.3 67.8,691.7 68.0,694.1 68.3,685.2 68.6,682.5 68.8,684.1 69.1,691.7 69.4,692.0 69.6,680.3 69.9,696.4 70.2,702.2 70.4,695.0 70.7,691.4 71.0,689.7 71.2,686.5 71.5,692.0 71.8,700.3 72.0,738.5 72.3,652.1 72.6,702.7 72.8,694.9 73.1,679.6 73.4,691.7 73.6,707.0 73.9,691.1 74.2,693.8 74.4,697.8 74.7,679.4 75.0,686.7 75.2,658.3 75.5,711.2 75.8,700.4 76.0,686.6 76.3,677.6 76.6,698.1 76.8,677.0 77.1,694.8 77.4,707.9 77.6,703.1 77.9,693.0 78.2,695.4 78.4,702.8 78.7,698.9 78.9,686.0 79.2,689.9 79.5,679.9 79.7,703.2 80.0,707.2 80.3,672.0 80.5,692.9 80.8,664.5 81.1,711.4 81.3,698.6 81.6,693.7 81.9,695.6 82.1,684.0 82.4,708.0 82.7,697.7 82.9,723.1 83.2,699.4 83.5,708.7 83.7,676.1 84.0,715.1 84.3,680.8 84.5,710.7 84.8,722.7 85.1,703.2 85.3,694.3 85.6,709.7 85.9,715.3 86.1,729.1 86.4,706.0 86.7,700.9 86.9,730.7 87.2,696.5 87.5,680.6 87.7,722.1 88.0,695.3 88.3,696.5 88.5,712.9 88.8,703.8 89.1,711.7 89.3,694.9 89.6,683.1 89.9,732.2 90.1,711.0 90.4,705.8 90.7,686.4 90.9,662.7 91.2,706.8 91.5,701.8 91.7,704.5 92.0,688.4 92.2,725.6 92.5,701.2 92.8,726.7 93.0,694.0 93.3,712.4 93.6,688.8 93.8,698.7 94.1,715.1 94.4,739.1 94.6,715.0 94.9,682.7 95.2,691.8 95.4,712.0 95.7,721.6 96.0,702.9 96.2,710.4 96.5,707.4 96.8,701.8 97.0,697.2 97.3,685.6 97.6,699.1 97.8,735.0 98.1,707.8 98.4,708.5 98.6,694.2 98.9,703.6 99.2,722.3 99.4,686.5 99.7,729.0 100.0,713.7 100.2,696.4 100.5,693.7 100.8,725.0 101.0,726.0 101.3,706.3 101.6,723.2 101.8,706.7 102.1,705.8 102.4,710.7 102.6,727.0 102.9,723.7 103.2,706.6 103.4,689.4 103.7,717.2 104.0,728.0 104.2,690.3 104.5,704.7 104.8,693.4 105.0,715.5 105.3,700.8 105.6,708.6 105.8,718.5 106.1,709.4 106.3,705.5 106.6,717.7 106.9,667.9 107.1,715.7 107.4,702.3 107.7,706.6 107.9,697.5 108.2,700.2 108.5,729.7 108.7,711.1 109.0,702.2 109.3,716.6 109.5,685.8 109.8,689.6 110.1,715.8 110.3,705.0 110.6,722.4 110.9,718.4 111.1,692.7 111.4,706.1 111.7,703.6 111.9,715.6 112.2,716.9 112.5,716.5 112.7,701.1 113.0,722.3 113.3,692.7 113.5,677.2 113.8,722.1 114.1,714.3 114.3,694.5 114.6,707.0 114.9,747.9 115.1,703.9 115.4,705.0 115.7,697.6 115.9,716.9 116.2,710.6 116.5,711.6 116.7,707.5 117.0,705.3 117.3,721.2 117.5,721.0 117.8,691.6 118.1,712.4 118.3,708.0 118.6,710.6 118.9,697.5 119.1,687.1 119.4,704.3 119.7,695.8 119.9,699.9 120.2,705.4 120.4,706.6 120.7,706.3 121.0,691.4 121.2,707.7 121.5,708.5 121.8,708.4 122.0,721.9 122.3,719.1 122.6,698.1 122.8,712.0 123.1,691.6 123.4,695.2 123.6,694.9 123.9,682.2 124.2,720.5 124.4,703.6 124.7,696.0 125.0,721.1 125.2,714.2 125.5,720.8 125.8,730.6 126.0,693.1 126.3,682.2 126.6,725.1 126.8,695.5 127.1,704.2 127.4,700.0 127.6,696.1 127.9,697.4 128.2,698.2 128.4,706.0 128.7,693.6 129.0,680.6 129.2,717.1 129.5,713.4 129.8,708.4 130.0,707.2 130.3,703.0 130.6,689.3 130.8,695.7 131.1,702.9 131.4,703.7 131.6,713.8 131.9,687.1 132.2,703.1 132.4,711.6 132.7,705.4 133.0,699.9 133.2,684.9 133.5,704.4 133.7,720.2 134.0,671.0 134.3,697.9 134.5,682.5 134.8,692.9 135.1,693.3 135.3,715.8 135.6,689.3 135.9,700.4 136.1,709.6 136.4,692.5 136.7,699.7 136.9,698.9 137.2,690.3 137.5,718.8 137.7,690.8 138.0,714.1 138.3,716.1 138.5,697.3 138.8,705.3 139.1,705.9 139.3,693.7 139.6,691.7 139.9,681.0 140.1,683.7 140.4,696.9 140.7,716.8 140.9,702.8 141.2,686.3 141.5,684.5 141.7,701.9 142.0,692.2 142.3,690.0 142.5,703.1 142.8,702.6 143.1,683.1 143.3,679.8 143.6,706.0 143.9,697.6 144.1,695.5 144.4,687.8 144.7,696.7 144.9,659.1 145.2,686.8 145.5,698.6 145.7,693.0 146.0,697.6 146.3,695.7 146.5,692.2 146.8,669.7 147.1,671.8 147.3,683.1 147.6,702.2 147.8,672.5 148.1,687.7 148.4,696.4 148.6,680.8 148.9,701.6 149.2,664.9 149.4,689.2 149.7,694.3 150.0,695.8 150.2,683.8 150.5,704.6 150.8,692.6 151.0,702.0 151.3,667.9 151.6,710.8 151.8,696.6 152.1,684.6 152.4,694.9 152.6,674.9 152.9,697.2 153.2,691.6 153.4,703.9 153.7,686.7 154.0,689.1 154.2,697.3 154.5,676.2 154.8,694.1 155.0,668.0 155.3,688.0 155.6,702.0 155.8,697.8 156.1,686.1 156.4,700.7 156.6,701.0 156.9,634.8 157.2,684.1 157.4,681.0 157.7,666.7 158.0,677.0 158.2,695.4 158.5,678.1 158.8,696.6 159.0,675.7 159.3,684.4 159.6,680.2 159.8,694.5 160.1,706.5 160.4,684.0 160.6,679.5 160.9,688.5 161.2,696.4 161.4,697.9 161.7,689.7 161.9,679.5 162.2,704.4 162.5,691.9 162.7,682.5 163.0,707.8 163.3,700.0 163.5,690.3 163.8,681.9 164.1,679.8 164.3,706.8 164.6,665.0 164.9,688.7 165.1,667.7 165.4,698.9 165.7,696.4 165.9,680.7 166.2,685.4 166.5,713.0 166.7,676.0 167.0,698.4 167.3,698.9 167.5,667.5 167.8,677.6 168.1,696.7 168.3,710.6 168.6,693.8 168.9,701.7 169.1,693.7 169.4,703.5 169.7,683.9 169.9,692.8 170.2,680.1 170.5,686.7 170.7,702.9 171.0,687.6 171.3,698.3 171.5,691.2 171.8,704.5 172.1,686.4 172.3,721.5 172.6,694.8 172.9,690.3 173.1,682.8 173.4,704.2 173.7,691.9 173.9,664.6 174.2,716.5 174.5,697.7 174.7,691.0 175.0,697.0 175.3,699.6 175.5,711.5 175.8,692.9 176.0,698.1 176.3,682.2 176.6,700.7 176.8,674.7 177.1,681.8 177.4,721.4 177.6,696.9 177.9,683.7 178.2,701.2 178.4,683.7 178.7,682.3 179.0,704.0 179.2,691.0 179.5,698.5 179.8,685.4 180.0,718.2 180.3,697.2 180.6,707.5 180.8,698.3 181.1,692.4 181.4,695.2 181.6,701.8 181.9,692.8 182.2,703.0 182.4,685.2 182.7,696.4 183.0,712.3 183.2,696.3 183.5,697.8 183.8,702.5 184.0,708.8 184.3,696.5 184.6,674.6 184.8,676.9 185.1,693.6 185.4,704.9 185.6,710.8 185.9,712.7 186.2,714.6 186.4,701.0 186.7,685.9 187.0,678.5 187.2,689.6 187.5,683.5 187.8,704.8 188.0,701.2 188.3,705.8 188.6,705.1 188.8,710.1 189.1,692.0 189.3,720.3 189.6,723.3 189.9,702.4 190.1,704.8 190.4,721.0 190.7,697.1 190.9,710.8 191.2,712.8 191.5,707.5 191.7,702.9 192.0,710.0 192.3,705.3 192.5,690.3 192.8,708.2 193.1,704.5 193.3,700.1 193.6,718.5 193.9,725.2 194.1,698.2 194.4,714.0 194.7,710.8 194.9,718.3 195.2,716.2 195.5,687.0 195.7,673.0 196.0,689.2 196.3,720.4 196.5,714.1 196.8,706.9 197.1,687.2 197.3,705.8 197.6,722.2 197.9,684.4 198.1,725.3 198.4,708.5 198.7,724.9 198.9,729.0 199.2,696.6 199.5,728.3 199.7,710.7 200.0,698.7 200.3,726.2 200.5,715.8 200.8,691.1 201.1,710.3 201.3,714.7 201.6,692.0 201.9,706.9 202.1,720.1 202.4,726.7 202.7,710.2 202.9,693.1 203.2,713.7 203.4,706.4 203.7,692.1 204.0,695.1 204.2,729.6 204.5,690.4 204.8,735.7 205.0,701.2 205.3,724.5 205.6,718.0 205.8,718.9 206.1,722.3 206.4,705.9 206.6,712.3 206.9,687.8 207.2,735.1 207.4,722.6 207.7,711.5 208.0,723.5 208.2,706.5 208.5,713.6 208.8,709.3 209.0,706.2 209.3,700.9 209.6,698.3 209.8,707.6 210.1,708.3 210.4,715.1 210.6,723.3 210.9,694.1 211.2,717.1 211.4,718.9 211.7,714.6 212.0,698.5 212.2,691.1 212.5,704.7 212.8,725.9 213.0,706.3 213.3,717.9 213.6,724.2 213.8,696.5 214.1,711.7 214.4,712.0 214.6,703.0 214.9,707.6 215.2,709.2 215.4,714.6 215.7,715.3 216.0,716.4 216.2,713.5 216.5,712.4 216.8,702.5 217.0,732.1 217.3,716.8 217.5,737.8 217.8,696.5 218.1,703.6 218.3,720.3 218.6,719.7 218.9,718.3 219.1,729.0 219.4,707.9 219.7,701.6 219.9,713.6 220.2,713.4 220.5,725.2 220.7,700.9 221.0,737.6 221.3,686.8 221.5,708.8 221.8,712.2 222.1,691.7 222.3,709.9 222.6,722.3 222.9,711.7 223.1,725.5 223.4,717.7 223.7,699.9 223.9,696.3 224.2,696.5 224.5,727.9 224.7,685.3 225.0,707.7 225.3,683.4 225.5,704.8 225.8,746.5 226.1,707.0 226.3,718.4 226.6,712.6 226.9,715.1 227.1,707.0 227.4,709.1 227.7,721.8 227.9,707.3 228.2,723.4 228.5,725.0 228.7,722.4 229.0,703.8 229.3,742.3 229.5,732.2 229.8,724.5 230.1,712.3 230.3,716.8 230.6,706.7 230.8,716.6 231.1,709.7 231.4,710.2 231.6,701.5 231.9,714.6 232.2,710.1 232.4,708.4 232.7,699.9 233.0,689.3 233.2,723.6 233.5,712.9 233.8,695.7 234.0,715.6 234.3,708.5 234.6,684.3 234.8,689.1 235.1,713.8 235.4,712.4 235.6,700.5 235.9,737.7 236.2,682.1 236.4,715.5 236.7,717.4 237.0,722.8 237.2,707.4 237.5,693.7 237.8,693.5 238.0,686.8 238.3,695.9 238.6,697.6 238.8,697.2 239.1,702.0 239.4,710.7 239.6,697.6 239.9,688.9 240.2,684.9 240.4,696.4 240.7,690.4 241.0,705.0 241.2,714.5 241.5,716.4 241.8,710.9 242.0,684.8 242.3,699.1 242.6,693.3 242.8,696.2 243.1,696.7 243.4,725.3 243.6,695.9 243.9,691.2 244.2,723.9 244.4,692.5 244.7,643.2 244.9,696.0 245.2,693.1 245.5,693.2 245.7,710.4 246.0,685.0 246.3,686.9 246.5,710.8 246.8,694.2 247.1,706.8 247.3,680.9 247.6,659.5 247.9,649.8 248.1,688.8 248.4,707.5 248.7,705.3 248.9,693.8 249.2,660.7 249.5,686.9 249.7,676.0 250.0,684.9 250.3,679.6 250.5,699.4 250.8,699.2 251.1,646.0 251.3,711.4" fill="none" stroke="#58a4ec" stroke-width="0.55" stroke-linejoin="round"/>
<path d="M57.4,690.0 57.9,690.6 58.5,691.0 59.0,690.4 59.5,691.2 60.1,690.4 60.6,690.3 61.1,690.9 61.7,690.2 62.2,690.7 62.7,691.3 63.3,690.3 63.8,690.8 64.3,690.9 64.8,690.9 65.4,691.2 65.9,690.5 66.4,690.7 67.0,691.4 67.5,691.7 68.0,691.1 68.6,692.5 69.1,691.5 69.6,692.0 70.2,692.8 70.7,691.6 71.2,692.1 71.8,692.6 72.3,692.6 72.8,693.0 73.4,693.1 73.9,692.7 74.4,692.9 75.0,694.2 75.5,693.8 76.0,693.1 76.6,693.8 77.1,693.8 77.6,693.6 78.2,694.3 78.7,694.7 79.2,694.3 79.7,694.8 80.3,694.5 80.8,694.9 81.3,694.9 81.9,695.2 82.4,694.2 82.9,694.7 83.5,695.9 84.0,695.4 84.5,695.0 85.1,695.5 85.6,695.4 86.1,695.6 86.7,696.4 87.2,695.5 87.7,696.9 88.3,696.0 88.8,696.4 89.3,696.8 89.9,696.6 90.4,697.1 90.9,697.4 91.5,697.6 92.0,696.9 92.5,697.0 93.0,696.7 93.6,697.2 94.1,698.4 94.6,697.3 95.2,698.1 95.7,698.3 96.2,698.2 96.8,698.1 97.3,697.6 97.8,698.8 98.4,698.3 98.9,699.1 99.4,699.1 100.0,699.1 100.5,699.0 101.0,699.1 101.6,698.8 102.1,698.8 102.6,698.9 103.2,698.7 103.7,698.2 104.2,698.3 104.8,698.8 105.3,699.1 105.8,698.0 106.3,698.8 106.9,699.9 107.4,698.7 107.9,699.0 108.5,698.4 109.0,698.5 109.5,698.8 110.1,699.2 110.6,699.1 111.1,698.9 111.7,698.9 112.2,699.3 112.7,699.1 113.3,698.7 113.8,698.9 114.3,698.9 114.9,699.3 115.4,699.0 115.9,698.9 116.5,699.0 117.0,698.2 117.5,699.3 118.1,699.2 118.6,698.8 119.1,698.9 119.7,698.5 120.2,699.2 120.7,699.1 121.2,698.6 121.8,698.9 122.3,699.2 122.8,698.9 123.4,698.8 123.9,698.7 124.4,699.0 125.0,698.2 125.5,698.8 126.0,698.6 126.6,698.4 127.1,698.6 127.6,698.1 128.2,698.9 128.7,698.8 129.2,699.0 129.8,699.2 130.3,698.7 130.8,698.3 131.4,699.0 131.9,698.1 132.4,698.1 133.0,698.8 133.5,698.5 134.0,698.3 134.5,697.5 135.1,697.3 135.6,697.3 136.1,696.2 136.7,696.6 137.2,696.0 137.7,695.4 138.3,695.5 138.8,694.8 139.3,694.6 139.9,694.9 140.4,694.1 140.9,694.1 141.5,693.5 142.0,693.1 142.5,693.1 143.1,691.7 143.6,692.1 144.1,692.3 144.7,691.6 145.2,691.1 145.7,691.8 146.3,690.6 146.8,690.7 147.3,691.6 147.8,690.8 148.4,690.3 148.9,691.0 149.4,691.9 150.0,691.2 150.5,691.0 151.0,691.0 151.6,691.4 152.1,690.7 152.6,690.5 153.2,691.6 153.7,690.5 154.2,690.6 154.8,691.4 155.3,690.5 155.8,691.6 156.4,690.7 156.9,690.7 157.4,691.2 158.0,690.4 158.5,690.9 159.0,690.6 159.6,691.1 160.1,690.4 160.6,691.2 161.2,691.1 161.7,690.3 162.2,690.3 162.7,691.2 163.3,690.8 163.8,691.0 164.3,690.9 164.9,691.1 165.4,690.5 165.9,691.7 166.5,690.6 167.0,691.6 167.5,690.5 168.1,691.1 168.6,691.7 169.1,692.1 169.7,690.7 170.2,690.7 170.7,691.3 171.3,691.5 171.8,691.5 172.3,691.7 172.9,691.2 173.4,691.1 173.9,692.1 174.5,691.5 175.0,692.2 175.5,692.1 176.0,692.5 176.6,692.1 177.1,692.7 177.6,693.5 178.2,693.6 178.7,693.5 179.2,694.7 179.8,694.0 180.3,694.4 180.8,694.3 181.4,694.6 181.9,694.9 182.4,694.4 183.0,695.8 183.5,695.4 184.0,695.0 184.6,695.8 185.1,695.1 185.6,696.2 186.2,696.2 186.7,696.0 187.2,696.9 187.8,696.7 188.3,697.7 188.8,696.2 189.3,698.0 189.9,697.2 190.4,697.8 190.9,697.9 191.5,697.3 192.0,698.3 192.5,697.9 193.1,698.5 193.6,698.1 194.1,698.8 194.7,699.1 195.2,698.4 195.7,698.6 196.3,699.0 196.8,699.6 197.3,698.4 197.9,699.1 198.4,698.5 198.9,699.1 199.5,698.5 200.0,699.4 200.5,698.5 201.1,699.0 201.6,698.6 202.1,698.6 202.7,699.0 203.2,698.8 203.7,698.2 204.2,699.3 204.8,699.4 205.3,698.8 205.8,698.4 206.4,698.7 206.9,698.4 207.4,698.7 208.0,698.9 208.5,698.7 209.0,699.4 209.6,698.4 210.1,699.7 210.6,698.8 211.2,698.6 211.7,699.2 212.2,699.4 212.8,698.9 213.3,698.8 213.8,698.7 214.4,698.4 214.9,698.6 215.4,699.0 216.0,699.6 216.5,698.7 217.0,699.4 217.5,698.2 218.1,698.6 218.6,699.2 219.1,698.8 219.7,699.0 220.2,699.2 220.7,698.5 221.3,698.4 221.8,699.1 222.3,699.1 222.9,698.3 223.4,698.9 223.9,698.5 224.5,698.9 225.0,699.3 225.5,699.1 226.1,698.2 226.6,698.5 227.1,697.7 227.7,697.8 228.2,697.0 228.7,697.5 229.3,697.1 229.8,697.1 230.3,696.6 230.8,696.6 231.4,695.9 231.9,695.0 232.4,694.8 233.0,695.1 233.5,694.2 234.0,693.7 234.6,693.4 235.1,693.0 235.6,692.5 236.2,693.2 236.7,691.8 237.2,691.5 237.8,691.4 238.3,691.7 238.8,691.0 239.4,691.6 239.9,691.7 240.4,691.0 241.0,690.6 241.5,690.5 242.0,691.5 242.6,690.6 243.1,690.8 243.6,690.9 244.2,690.6 244.7,690.5 245.2,691.3 245.7,690.8 246.3,691.3 246.8,691.2 247.3,690.6 247.9,690.0 248.4,691.1 248.9,691.3 249.5,690.6 250.0,691.3 250.5,690.5 251.1,690.4" fill="none" stroke="#e2bd3c" stroke-width="1.0" stroke-linejoin="round" stroke-dasharray="2.2,0.5"/>
<rect x="264.3" y="605.2" width="200.3" height="12.2" fill="#8dd3ea"/>
<rect x="264.3" y="617.4" width="200.3" height="202.3" fill="#ebecec"/>
<line x1="264.3" x2="464.6" y1="812.0" y2="812.0" stroke="#f4f4f4" stroke-width="0.9"/>
<line x1="264.3" x2="464.6" y1="784.0" y2="784.0" stroke="#f0f0f0" stroke-width="0.63"/>
<line x1="264.3" x2="464.6" y1="756.1" y2="756.1" stroke="#f4f4f4" stroke-width="0.9"/>
<line x1="264.3" x2="464.6" y1="728.1" y2="728.1" stroke="#f0f0f0" stroke-width="0.63"/>
<line x1="264.3" x2="464.6" y1="700.2" y2="700.2" stroke="#f4f4f4" stroke-width="0.9"/>
<line x1="264.3" x2="464.6" y1="672.2" y2="672.2" stroke="#f0f0f0" stroke-width="0.63"/>
<line x1="264.3" x2="464.6" y1="644.3" y2="644.3" stroke="#f4f4f4" stroke-width="0.9"/>
<line x1="293.0" x2="293.0" y1="617.4" y2="819.7" stroke="#f0f0f0" stroke-width="0.8"/>
<line x1="341.3" x2="341.3" y1="617.4" y2="819.7" stroke="#f0f0f0" stroke-width="0.8"/>
<line x1="389.7" x2="389.7" y1="617.4" y2="819.7" stroke="#f0f0f0" stroke-width="0.8"/>
<line x1="438.0" x2="438.0" y1="617.4" y2="819.7" stroke="#f0f0f0" stroke-width="0.8"/>
<line x1="268.8" x2="268.8" y1="617.4" y2="819.7" stroke="#f4f4f4" stroke-width="0.9"/>
<line x1="317.2" x2="317.2" y1="617.4" y2="819.7" stroke="#f4f4f4" stroke-width="0.9"/>
<line x1="365.5" x2="365.5" y1="617.4" y2="819.7" stroke="#f4f4f4" stroke-width="0.9"/>
<line x1="413.9" x2="413.9" y1="617.4" y2="819.7" stroke="#f4f4f4" stroke-width="0.9"/>
<line x1="462.2" x2="462.2" y1="617.4" y2="819.7" stroke="#f4f4f4" stroke-width="0.9"/>
<line x1="317.2" x2="317.2" y1="819.7" y2="821.5" stroke="#555" stroke-width="0.8"/>
<line x1="413.9" x2="413.9" y1="819.7" y2="821.5" stroke="#555" stroke-width="0.8"/>
<line x1="462.2" x2="462.2" y1="819.7" y2="821.5" stroke="#555" stroke-width="0.8"/>
<text x="363.2" y="599.0" font-size="12" text-anchor="middle" font-weight="bold" textLength="71" lengthAdjust="spacingAndGlyphs" fill="#141414" stroke="#141414" stroke-width="0.25">3-day-ahead</text>
<text x="317" y="614.8" font-size="11" text-anchor="middle" textLength="25" lengthAdjust="spacingAndGlyphs" fill="#141414" stroke="#141414" stroke-width="0.25">2018</text>
<text x="413.8" y="614.8" font-size="11" text-anchor="middle" textLength="25" lengthAdjust="spacingAndGlyphs" fill="#141414" stroke="#141414" stroke-width="0.25">2019</text>
<text x="267.8" y="829.5" font-size="10.8" text-anchor="middle" fill="#141414" stroke="#141414" stroke-width="0.25">Jan</text>
<text x="364.6" y="829.5" font-size="10.8" text-anchor="middle" fill="#141414" stroke="#141414" stroke-width="0.25">Jan</text>
<path d="M269.6,664.5 269.9,669.4 270.1,693.8 270.4,688.7 270.7,689.9 270.9,694.5 271.2,661.1 271.4,687.6 271.7,677.6 272.0,684.6 272.2,708.6 272.5,693.9 272.8,695.1 273.0,680.0 273.3,672.6 273.6,723.6 273.8,700.9 274.1,694.3 274.4,670.9 274.6,678.4 274.9,677.2 275.2,684.6 275.4,699.7 275.7,693.0 276.0,678.5 276.2,682.7 276.5,700.6 276.7,671.7 277.0,683.6 277.3,681.5 277.5,669.8 277.8,728.1 278.1,694.2 278.3,717.2 278.6,688.0 278.9,683.3 279.1,691.7 279.4,694.1 279.7,685.2 279.9,682.5 280.2,684.1 280.5,691.7 280.7,692.0 281.0,680.3 281.3,696.4 281.5,702.2 281.8,695.0 282.0,691.4 282.3,689.7 282.6,686.5 282.8,692.0 283.1,700.3 283.4,738.5 283.6,652.1 283.9,702.7 284.2,694.9 284.4,679.6 284.7,691.7 285.0,707.0 285.2,691.1 285.5,693.8 285.8,697.8 286.0,679.4 286.3,686.7 286.6,658.3 286.8,711.2 287.1,700.4 287.3,686.6 287.6,677.6 287.9,698.1 288.1,677.0 288.4,694.8 288.7,707.9 288.9,703.1 289.2,693.0 289.5,695.4 289.7,702.8 290.0,698.9 290.3,686.0 290.5,689.9 290.8,679.9 291.1,703.2 291.3,707.2 291.6,672.0 291.8,692.9 292.1,664.5 292.4,711.4 292.6,698.6 292.9,693.7 293.2,695.6 293.4,684.0 293.7,708.0 294.0,697.7 294.2,723.1 294.5,699.4 294.8,708.7 295.0,676.1 295.3,715.1 295.6,680.8 295.8,710.7 296.1,722.7 296.4,703.2 296.6,694.3 296.9,709.7 297.1,715.3 297.4,729.1 297.7,706.0 297.9,700.9 298.2,730.7 298.5,696.5 298.7,680.6 299.0,722.1 299.3,695.3 299.5,696.5 299.8,712.9 300.1,703.8 300.3,711.7 300.6,694.9 300.9,683.1 301.1,732.2 301.4,711.0 301.7,705.8 301.9,686.4 302.2,662.7 302.4,706.8 302.7,701.8 303.0,704.5 303.2,688.4 303.5,725.6 303.8,701.2 304.0,726.7 304.3,694.0 304.6,712.4 304.8,688.8 305.1,698.7 305.4,715.1 305.6,739.1 305.9,715.0 306.2,682.7 306.4,691.8 306.7,712.0 307.0,721.6 307.2,702.9 307.5,710.4 307.7,707.4 308.0,701.8 308.3,697.2 308.5,685.6 308.8,699.1 309.1,735.0 309.3,707.8 309.6,708.5 309.9,694.2 310.1,703.6 310.4,722.3 310.7,686.5 310.9,729.0 311.2,713.7 311.5,696.4 311.7,693.7 312.0,725.0 312.2,726.0 312.5,706.3 312.8,723.2 313.0,706.7 313.3,705.8 313.6,710.7 313.8,727.0 314.1,723.7 314.4,706.6 314.6,689.4 314.9,717.2 315.2,728.0 315.4,690.3 315.7,704.7 316.0,693.4 316.2,715.5 316.5,700.8 316.8,708.6 317.0,718.5 317.3,709.4 317.5,705.5 317.8,717.7 318.1,667.9 318.3,715.7 318.6,702.3 318.9,706.6 319.1,697.5 319.4,700.2 319.7,729.7 319.9,711.1 320.2,702.2 320.5,716.6 320.7,685.8 321.0,689.6 321.3,715.8 321.5,705.0 321.8,722.4 322.1,718.4 322.3,692.7 322.6,706.1 322.8,703.6 323.1,715.6 323.4,716.9 323.6,716.5 323.9,701.1 324.2,722.3 324.4,692.7 324.7,677.2 325.0,722.1 325.2,714.3 325.5,694.5 325.8,707.0 326.0,747.9 326.3,703.9 326.6,705.0 326.8,697.6 327.1,716.9 327.3,710.6 327.6,711.6 327.9,707.5 328.1,705.3 328.4,721.2 328.7,721.0 328.9,691.6 329.2,712.4 329.5,708.0 329.7,710.6 330.0,697.5 330.3,687.1 330.5,704.3 330.8,695.8 331.1,699.9 331.3,705.4 331.6,706.6 331.9,706.3 332.1,691.4 332.4,707.7 332.6,708.5 332.9,708.4 333.2,721.9 333.4,719.1 333.7,698.1 334.0,712.0 334.2,691.6 334.5,695.2 334.8,694.9 335.0,682.2 335.3,720.5 335.6,703.6 335.8,696.0 336.1,721.1 336.4,714.2 336.6,720.8 336.9,730.6 337.2,693.1 337.4,682.2 337.7,725.1 337.9,695.5 338.2,704.2 338.5,700.0 338.7,696.1 339.0,697.4 339.3,698.2 339.5,706.0 339.8,693.6 340.1,680.6 340.3,717.1 340.6,713.4 340.9,708.4 341.1,707.2 341.4,703.0 341.7,689.3 341.9,695.7 342.2,702.9 342.5,703.7 342.7,713.8 343.0,687.1 343.2,703.1 343.5,711.6 343.8,705.4 344.0,699.9 344.3,684.9 344.6,704.4 344.8,720.2 345.1,671.0 345.4,697.9 345.6,682.5 345.9,692.9 346.2,693.3 346.4,715.8 346.7,689.3 347.0,700.4 347.2,709.6 347.5,692.5 347.7,699.7 348.0,698.9 348.3,690.3 348.5,718.8 348.8,690.8 349.1,714.1 349.3,716.1 349.6,697.3 349.9,705.3 350.1,705.9 350.4,693.7 350.7,691.7 350.9,681.0 351.2,683.7 351.5,696.9 351.7,716.8 352.0,702.8 352.3,686.3 352.5,684.5 352.8,701.9 353.0,692.2 353.3,690.0 353.6,703.1 353.8,702.6 354.1,683.1 354.4,679.8 354.6,706.0 354.9,697.6 355.2,695.5 355.4,687.8 355.7,696.7 356.0,659.1 356.2,686.8 356.5,698.6 356.8,693.0 357.0,697.6 357.3,695.7 357.6,692.2 357.8,669.7 358.1,671.8 358.3,683.1 358.6,702.2 358.9,672.5 359.1,687.7 359.4,696.4 359.7,680.8 359.9,701.6 360.2,664.9 360.5,689.2 360.7,694.3 361.0,695.8 361.3,683.8 361.5,704.6 361.8,692.6 362.1,702.0 362.3,667.9 362.6,710.8 362.9,696.6 363.1,684.6 363.4,694.9 363.6,674.9 363.9,697.2 364.2,691.6 364.4,703.9 364.7,686.7 365.0,689.1 365.2,697.3 365.5,676.2 365.8,694.1 366.0,668.0 366.3,688.0 366.6,702.0 366.8,697.8 367.1,686.1 367.4,700.7 367.6,701.0 367.9,634.8 368.1,684.1 368.4,681.0 368.7,666.7 368.9,677.0 369.2,695.4 369.5,678.1 369.7,696.6 370.0,675.7 370.3,684.4 370.5,680.2 370.8,694.5 371.1,706.5 371.3,684.0 371.6,679.5 371.9,688.5 372.1,696.4 372.4,697.9 372.7,689.7 372.9,679.5 373.2,704.4 373.4,691.9 373.7,682.5 374.0,707.8 374.2,700.0 374.5,690.3 374.8,681.9 375.0,679.8 375.3,706.8 375.6,665.0 375.8,688.7 376.1,667.7 376.4,698.9 376.6,696.4 376.9,680.7 377.2,685.4 377.4,713.0 377.7,676.0 378.0,698.4 378.2,698.9 378.5,667.5 378.7,677.6 379.0,696.7 379.3,710.6 379.5,693.8 379.8,701.7 380.1,693.7 380.3,703.5 380.6,683.9 380.9,692.8 381.1,680.1 381.4,686.7 381.7,702.9 381.9,687.6 382.2,698.3 382.5,691.2 382.7,704.5 383.0,686.4 383.3,721.5 383.5,694.8 383.8,690.3 384.0,682.8 384.3,704.2 384.6,691.9 384.8,664.6 385.1,716.5 385.4,697.7 385.6,691.0 385.9,697.0 386.2,699.6 386.4,711.5 386.7,692.9 387.0,698.1 387.2,682.2 387.5,700.7 387.8,674.7 388.0,681.8 388.3,721.4 388.5,696.9 388.8,683.7 389.1,701.2 389.3,683.7 389.6,682.3 389.9,704.0 390.1,691.0 390.4,698.5 390.7,685.4 390.9,718.2 391.2,697.2 391.5,707.5 391.7,698.3 392.0,692.4 392.3,695.2 392.5,701.8 392.8,692.8 393.1,703.0 393.3,685.2 393.6,696.4 393.8,712.3 394.1,696.3 394.4,697.8 394.6,702.5 394.9,708.8 395.2,696.5 395.4,674.6 395.7,676.9 396.0,693.6 396.2,704.9 396.5,710.8 396.8,712.7 397.0,714.6 397.3,701.0 397.6,685.9 397.8,678.5 398.1,689.6 398.4,683.5 398.6,704.8 398.9,701.2 399.1,705.8 399.4,705.1 399.7,710.1 399.9,692.0 400.2,720.3 400.5,723.3 400.7,702.4 401.0,704.8 401.3,721.0 401.5,697.1 401.8,710.8 402.1,712.8 402.3,707.5 402.6,702.9 402.9,710.0 403.1,705.3 403.4,690.3 403.7,708.2 403.9,704.5 404.2,700.1 404.4,718.5 404.7,725.2 405.0,698.2 405.2,714.0 405.5,710.8 405.8,718.3 406.0,716.2 406.3,687.0 406.6,673.0 406.8,689.2 407.1,720.4 407.4,714.1 407.6,706.9 407.9,687.2 408.2,705.8 408.4,722.2 408.7,684.4 408.9,725.3 409.2,708.5 409.5,724.9 409.7,729.0 410.0,696.6 410.3,728.3 410.5,710.7 410.8,698.7 411.1,726.2 411.3,715.8 411.6,691.1 411.9,710.3 412.1,714.7 412.4,692.0 412.7,706.9 412.9,720.1 413.2,726.7 413.5,710.2 413.7,693.1 414.0,713.7 414.2,706.4 414.5,692.1 414.8,695.1 415.0,729.6 415.3,690.4 415.6,735.7 415.8,701.2 416.1,724.5 416.4,718.0 416.6,718.9 416.9,722.3 417.2,705.9 417.4,712.3 417.7,687.8 418.0,735.1 418.2,722.6 418.5,711.5 418.8,723.5 419.0,706.5 419.3,713.6 419.5,709.3 419.8,706.2 420.1,700.9 420.3,698.3 420.6,707.6 420.9,708.3 421.1,715.1 421.4,723.3 421.7,694.1 421.9,717.1 422.2,718.9 422.5,714.6 422.7,698.5 423.0,691.1 423.3,704.7 423.5,725.9 423.8,706.3 424.0,717.9 424.3,724.2 424.6,696.5 424.8,711.7 425.1,712.0 425.4,703.0 425.6,707.6 425.9,709.2 426.2,714.6 426.4,715.3 426.7,716.4 427.0,713.5 427.2,712.4 427.5,702.5 427.8,732.1 428.0,716.8 428.3,737.8 428.6,696.5 428.8,703.6 429.1,720.3 429.3,719.7 429.6,718.3 429.9,729.0 430.1,707.9 430.4,701.6 430.7,713.6 430.9,713.4 431.2,725.2 431.5,700.9 431.7,737.6 432.0,686.8 432.3,708.8 432.5,712.2 432.8,691.7 433.1,709.9 433.3,722.3 433.6,711.7 433.9,725.5 434.1,717.7 434.4,699.9 434.6,696.3 434.9,696.5 435.2,727.9 435.4,685.3 435.7,707.7 436.0,683.4 436.2,704.8 436.5,746.5 436.8,707.0 437.0,718.4 437.3,712.6 437.6,715.1 437.8,707.0 438.1,709.1 438.4,721.8 438.6,707.3 438.9,723.4 439.2,725.0 439.4,722.4 439.7,703.8 439.9,742.3 440.2,732.2 440.5,724.5 440.7,712.3 441.0,716.8 441.3,706.7 441.5,716.6 441.8,709.7 442.1,710.2 442.3,701.5 442.6,714.6 442.9,710.1 443.1,708.4 443.4,699.9 443.7,689.3 443.9,723.6 444.2,712.9 444.4,695.7 444.7,715.6 445.0,708.5 445.2,684.3 445.5,689.1 445.8,713.8 446.0,712.4 446.3,700.5 446.6,737.7 446.8,682.1 447.1,715.5 447.4,717.4 447.6,722.8 447.9,707.4 448.2,693.7 448.4,693.5 448.7,686.8 449.0,695.9 449.2,697.6 449.5,697.2 449.7,702.0 450.0,710.7 450.3,697.6 450.5,688.9 450.8,684.9 451.1,696.4 451.3,690.4 451.6,705.0 451.9,714.5 452.1,716.4 452.4,710.9 452.7,684.8 452.9,699.1 453.2,693.3 453.5,696.2 453.7,696.7 454.0,725.3 454.3,695.9 454.5,691.2 454.8,723.9 455.0,692.5 455.3,643.2 455.6,696.0 455.8,693.1 456.1,693.2 456.4,710.4 456.6,685.0 456.9,686.9 457.2,710.8 457.4,694.2 457.7,706.8 458.0,680.9 458.2,659.5 458.5,649.8 458.8,688.8 459.0,707.5 459.3,705.3 459.6,693.8 459.8,660.7 460.1,686.9 460.3,676.0 460.6,684.9 460.9,679.6 461.1,699.4 461.4,699.2 461.7,646.0 461.9,711.4" fill="none" stroke="#58a4ec" stroke-width="0.55" stroke-linejoin="round"/>
<path d="M269.6,690.8 270.1,690.6 270.7,689.9 271.2,690.3 271.7,690.8 272.2,691.2 272.8,691.2 273.3,691.2 273.8,691.0 274.4,691.9 274.9,690.6 275.4,691.7 276.0,691.1 276.5,690.3 277.0,691.9 277.5,691.1 278.1,691.2 278.6,691.7 279.1,692.3 279.7,692.4 280.2,692.1 280.7,692.1 281.3,692.3 281.8,691.4 282.3,691.7 282.8,691.8 283.4,692.7 283.9,692.6 284.4,692.3 285.0,693.0 285.5,692.9 286.0,693.0 286.6,693.1 287.1,693.7 287.6,694.3 288.1,693.2 288.7,694.2 289.2,694.1 289.7,693.3 290.3,694.5 290.8,694.4 291.3,694.4 291.8,694.8 292.4,694.9 292.9,694.8 293.4,694.7 294.0,695.2 294.5,695.2 295.0,695.4 295.6,695.1 296.1,696.3 296.6,695.8 297.1,695.5 297.7,695.9 298.2,695.9 298.7,696.6 299.3,696.3 299.8,696.4 300.3,696.5 300.9,696.8 301.4,696.6 301.9,695.9 302.4,696.9 303.0,697.0 303.5,697.3 304.0,697.5 304.6,696.9 305.1,698.2 305.6,697.8 306.2,698.3 306.7,698.2 307.2,698.3 307.7,698.4 308.3,697.7 308.8,698.0 309.3,698.2 309.9,699.0 310.4,698.8 310.9,698.9 311.5,698.6 312.0,698.5 312.5,699.2 313.0,699.3 313.6,700.0 314.1,699.6 314.6,698.7 315.2,698.7 315.7,698.9 316.2,698.1 316.8,698.3 317.3,699.3 317.8,699.6 318.3,698.0 318.9,699.4 319.4,699.7 319.9,698.4 320.5,699.3 321.0,698.9 321.5,698.5 322.1,698.4 322.6,699.0 323.1,699.0 323.6,698.7 324.2,698.1 324.7,698.6 325.2,699.0 325.8,698.8 326.3,698.6 326.8,699.1 327.3,698.3 327.9,699.2 328.4,699.0 328.9,699.3 329.5,698.4 330.0,698.3 330.5,698.2 331.1,698.5 331.6,699.2 332.1,698.8 332.6,699.5 333.2,698.6 333.7,698.3 334.2,699.2 334.8,698.8 335.3,698.7 335.8,698.9 336.4,698.7 336.9,698.7 337.4,699.0 337.9,698.2 338.5,698.3 339.0,699.1 339.5,699.2 340.1,698.8 340.6,699.1 341.1,698.0 341.7,698.9 342.2,698.1 342.7,699.5 343.2,698.4 343.8,698.1 344.3,698.0 344.8,697.6 345.4,697.9 345.9,697.7 346.4,697.8 347.0,697.1 347.5,696.6 348.0,696.2 348.5,696.0 349.1,695.9 349.6,696.1 350.1,694.5 350.7,694.4 351.2,694.0 351.7,694.3 352.3,693.5 352.8,693.0 353.3,693.0 353.8,693.0 354.4,691.8 354.9,692.2 355.4,691.9 356.0,691.1 356.5,692.2 357.0,691.0 357.6,691.5 358.1,690.4 358.6,690.9 359.1,691.0 359.7,690.0 360.2,690.9 360.7,690.8 361.3,690.5 361.8,691.0 362.3,690.8 362.9,691.0 363.4,691.9 363.9,690.8 364.4,691.2 365.0,690.7 365.5,691.1 366.0,691.2 366.6,690.5 367.1,691.2 367.6,690.9 368.1,690.2 368.7,691.0 369.2,691.1 369.7,690.8 370.3,691.0 370.8,691.1 371.3,690.7 371.9,690.6 372.4,690.6 372.9,691.0 373.4,690.8 374.0,691.3 374.5,691.6 375.0,691.4 375.6,691.4 376.1,690.7 376.6,691.1 377.2,690.2 377.7,691.8 378.2,690.7 378.7,690.8 379.3,690.4 379.8,690.9 380.3,691.7 380.9,691.2 381.4,690.4 381.9,691.5 382.5,690.9 383.0,691.3 383.5,691.3 384.0,691.6 384.6,691.6 385.1,691.4 385.6,691.8 386.2,692.5 386.7,691.8 387.2,692.0 387.8,692.9 388.3,692.5 388.8,693.3 389.3,693.6 389.9,693.0 390.4,694.6 390.9,694.0 391.5,694.6 392.0,694.2 392.5,694.3 393.1,694.9 393.6,693.8 394.1,695.2 394.6,696.1 395.2,696.0 395.7,695.7 396.2,696.0 396.8,696.2 397.3,696.0 397.8,696.9 398.4,697.1 398.9,697.2 399.4,697.2 399.9,697.3 400.5,697.7 401.0,697.8 401.5,697.9 402.1,697.6 402.6,698.2 403.1,698.3 403.7,698.3 404.2,698.6 404.7,698.7 405.2,698.9 405.8,698.6 406.3,699.4 406.8,698.8 407.4,699.0 407.9,698.5 408.4,698.5 408.9,698.5 409.5,699.0 410.0,698.8 410.5,699.4 411.1,698.4 411.6,698.5 412.1,699.3 412.7,698.8 413.2,698.7 413.7,699.0 414.2,698.4 414.8,698.3 415.3,699.0 415.8,699.8 416.4,698.8 416.9,699.0 417.4,699.3 418.0,699.3 418.5,698.3 419.0,698.9 419.5,698.4 420.1,699.9 420.6,699.0 421.1,699.0 421.7,698.9 422.2,698.7 422.7,697.8 423.3,699.2 423.8,698.8 424.3,698.5 424.8,699.0 425.4,698.6 425.9,699.0 426.4,699.8 427.0,698.9 427.5,698.5 428.0,699.2 428.6,698.7 429.1,699.6 429.6,699.2 430.1,698.8 430.7,698.4 431.2,699.5 431.7,699.2 432.3,699.4 432.8,698.3 433.3,698.7 433.9,698.9 434.4,698.9 434.9,699.2 435.4,698.4 436.0,699.3 436.5,698.1 437.0,699.0 437.6,697.8 438.1,697.7 438.6,697.4 439.2,697.5 439.7,697.3 440.2,696.8 440.7,696.3 441.3,696.3 441.8,695.9 442.3,695.6 442.9,694.9 443.4,695.1 443.9,694.0 444.4,694.2 445.0,693.9 445.5,693.7 446.0,692.3 446.6,693.1 447.1,692.8 447.6,692.7 448.2,691.7 448.7,691.3 449.2,691.4 449.7,691.1 450.3,691.1 450.8,691.1 451.3,691.1 451.9,691.5 452.4,691.2 452.9,691.0 453.5,690.9 454.0,691.2 454.5,691.0 455.0,691.1 455.6,691.5 456.1,690.5 456.6,690.8 457.2,690.7 457.7,691.2 458.2,691.6 458.8,690.8 459.3,690.9 459.8,690.9 460.3,691.1 460.9,690.6 461.4,690.2 461.9,690.6" fill="none" stroke="#e2bd3c" stroke-width="1.0" stroke-linejoin="round" stroke-dasharray="2.2,0.5"/>
<rect x="475.8" y="605.2" width="202.2" height="12.2" fill="#8dd3ea"/>
<rect x="475.8" y="617.4" width="202.2" height="202.3" fill="#ebecec"/>
<line x1="475.8" x2="678.0" y1="812.0" y2="812.0" stroke="#f4f4f4" stroke-width="0.9"/>
<line x1="475.8" x2="678.0" y1="784.0" y2="784.0" stroke="#f0f0f0" stroke-width="0.63"/>
<line x1="475.8" x2="678.0" y1="756.1" y2="756.1" stroke="#f4f4f4" stroke-width="0.9"/>
<line x1="475.8" x2="678.0" y1="728.1" y2="728.1" stroke="#f0f0f0" stroke-width="0.63"/>
<line x1="475.8" x2="678.0" y1="700.2" y2="700.2" stroke="#f4f4f4" stroke-width="0.9"/>
<line x1="475.8" x2="678.0" y1="672.2" y2="672.2" stroke="#f0f0f0" stroke-width="0.63"/>
<line x1="475.8" x2="678.0" y1="644.3" y2="644.3" stroke="#f4f4f4" stroke-width="0.9"/>
<line x1="503.6" x2="503.6" y1="617.4" y2="819.7" stroke="#f0f0f0" stroke-width="0.8"/>
<line x1="552.1" x2="552.1" y1="617.4" y2="819.7" stroke="#f0f0f0" stroke-width="0.8"/>
<line x1="600.7" x2="600.7" y1="617.4" y2="819.7" stroke="#f0f0f0" stroke-width="0.8"/>
<line x1="649.2" x2="649.2" y1="617.4" y2="819.7" stroke="#f0f0f0" stroke-width="0.8"/>
<line x1="479.3" x2="479.3" y1="617.4" y2="819.7" stroke="#f4f4f4" stroke-width="0.9"/>
<line x1="527.9" x2="527.9" y1="617.4" y2="819.7" stroke="#f4f4f4" stroke-width="0.9"/>
<line x1="576.4" x2="576.4" y1="617.4" y2="819.7" stroke="#f4f4f4" stroke-width="0.9"/>
<line x1="625.0" x2="625.0" y1="617.4" y2="819.7" stroke="#f4f4f4" stroke-width="0.9"/>
<line x1="673.5" x2="673.5" y1="617.4" y2="819.7" stroke="#f4f4f4" stroke-width="0.9"/>
<line x1="527.9" x2="527.9" y1="819.7" y2="821.5" stroke="#555" stroke-width="0.8"/>
<line x1="625.0" x2="625.0" y1="819.7" y2="821.5" stroke="#555" stroke-width="0.8"/>
<line x1="673.5" x2="673.5" y1="819.7" y2="821.5" stroke="#555" stroke-width="0.8"/>
<text x="579.6" y="599.0" font-size="12" text-anchor="middle" font-weight="bold" textLength="72" lengthAdjust="spacingAndGlyphs" fill="#141414" stroke="#141414" stroke-width="0.25">7-day-ahead</text>
<text x="530.4" y="613.8" font-size="11" text-anchor="middle" textLength="25" lengthAdjust="spacingAndGlyphs" fill="#141414" stroke="#141414" stroke-width="0.25">2018</text>
<text x="625.5" y="614.8" font-size="11" text-anchor="middle" textLength="25" lengthAdjust="spacingAndGlyphs" fill="#141414" stroke="#141414" stroke-width="0.25">2019</text>
<text x="481" y="829.5" font-size="10.8" text-anchor="middle" fill="#141414" stroke="#141414" stroke-width="0.25">Jan</text>
<text x="577.3" y="829.5" font-size="10.8" text-anchor="middle" fill="#141414" stroke="#141414" stroke-width="0.25">Jan</text>
<path d="M481.2,689.9 481.4,694.5 481.7,661.1 482.0,687.6 482.2,677.6 482.5,684.6 482.8,708.6 483.0,693.9 483.3,695.1 483.6,680.0 483.8,672.6 484.1,723.6 484.4,700.9 484.6,694.3 484.9,670.9 485.2,678.4 485.4,677.2 485.7,684.6 486.0,699.7 486.2,693.0 486.5,678.5 486.7,682.7 487.0,700.6 487.3,671.7 487.5,683.6 487.8,681.5 488.1,669.8 488.3,728.1 488.6,694.2 488.9,717.2 489.1,688.0 489.4,683.3 489.7,691.7 489.9,694.1 490.2,685.2 490.5,682.5 490.7,684.1 491.0,691.7 491.3,692.0 491.5,680.3 491.8,696.4 492.1,702.2 492.3,695.0 492.6,691.4 492.9,689.7 493.1,686.5 493.4,692.0 493.7,700.3 493.9,738.5 494.2,652.1 494.5,702.7 494.7,694.9 495.0,679.6 495.3,691.7 495.5,707.0 495.8,691.1 496.1,693.8 496.3,697.8 496.6,679.4 496.9,686.7 497.1,658.3 497.4,711.2 497.7,700.4 497.9,686.6 498.2,677.6 498.5,698.1 498.7,677.0 499.0,694.8 499.3,707.9 499.5,703.1 499.8,693.0 500.1,695.4 500.3,702.8 500.6,698.9 500.8,686.0 501.1,689.9 501.4,679.9 501.6,703.2 501.9,707.2 502.2,672.0 502.4,692.9 502.7,664.5 503.0,711.4 503.2,698.6 503.5,693.7 503.8,695.6 504.0,684.0 504.3,708.0 504.6,697.7 504.8,723.1 505.1,699.4 505.4,708.7 505.6,676.1 505.9,715.1 506.2,680.8 506.4,710.7 506.7,722.7 507.0,703.2 507.2,694.3 507.5,709.7 507.8,715.3 508.0,729.1 508.3,706.0 508.6,700.9 508.8,730.7 509.1,696.5 509.4,680.6 509.6,722.1 509.9,695.3 510.2,696.5 510.4,712.9 510.7,703.8 511.0,711.7 511.2,694.9 511.5,683.1 511.8,732.2 512.0,711.0 512.3,705.8 512.6,686.4 512.8,662.7 513.1,706.8 513.4,701.8 513.6,704.5 513.9,688.4 514.1,725.6 514.4,701.2 514.7,726.7 514.9,694.0 515.2,712.4 515.5,688.8 515.7,698.7 516.0,715.1 516.3,739.1 516.5,715.0 516.8,682.7 517.1,691.8 517.3,712.0 517.6,721.6 517.9,702.9 518.1,710.4 518.4,707.4 518.7,701.8 518.9,697.2 519.2,685.6 519.5,699.1 519.7,735.0 520.0,707.8 520.3,708.5 520.5,694.2 520.8,703.6 521.1,722.3 521.3,686.5 521.6,729.0 521.9,713.7 522.1,696.4 522.4,693.7 522.7,725.0 522.9,726.0 523.2,706.3 523.5,723.2 523.7,706.7 524.0,705.8 524.3,710.7 524.5,727.0 524.8,723.7 525.1,706.6 525.3,689.4 525.6,717.2 525.9,728.0 526.1,690.3 526.4,704.7 526.7,693.4 526.9,715.5 527.2,700.8 527.5,708.6 527.7,718.5 528.0,709.4 528.2,705.5 528.5,717.7 528.8,667.9 529.0,715.7 529.3,702.3 529.6,706.6 529.8,697.5 530.1,700.2 530.4,729.7 530.6,711.1 530.9,702.2 531.2,716.6 531.4,685.8 531.7,689.6 532.0,715.8 532.2,705.0 532.5,722.4 532.8,718.4 533.0,692.7 533.3,706.1 533.6,703.6 533.8,715.6 534.1,716.9 534.4,716.5 534.6,701.1 534.9,722.3 535.2,692.7 535.4,677.2 535.7,722.1 536.0,714.3 536.2,694.5 536.5,707.0 536.8,747.9 537.0,703.9 537.3,705.0 537.6,697.6 537.8,716.9 538.1,710.6 538.4,711.6 538.6,707.5 538.9,705.3 539.2,721.2 539.4,721.0 539.7,691.6 540.0,712.4 540.2,708.0 540.5,710.6 540.8,697.5 541.0,687.1 541.3,704.3 541.6,695.8 541.8,699.9 542.1,705.4 542.3,706.6 542.6,706.3 542.9,691.4 543.1,707.7 543.4,708.5 543.7,708.4 543.9,721.9 544.2,719.1 544.5,698.1 544.7,712.0 545.0,691.6 545.3,695.2 545.5,694.9 545.8,682.2 546.1,720.5 546.3,703.6 546.6,696.0 546.9,721.1 547.1,714.2 547.4,720.8 547.7,730.6 547.9,693.1 548.2,682.2 548.5,725.1 548.7,695.5 549.0,704.2 549.3,700.0 549.5,696.1 549.8,697.4 550.1,698.2 550.3,706.0 550.6,693.6 550.9,680.6 551.1,717.1 551.4,713.4 551.7,708.4 551.9,707.2 552.2,703.0 552.5,689.3 552.7,695.7 553.0,702.9 553.3,703.7 553.5,713.8 553.8,687.1 554.1,703.1 554.3,711.6 554.6,705.4 554.9,699.9 555.1,684.9 555.4,704.4 555.6,720.2 555.9,671.0 556.2,697.9 556.4,682.5 556.7,692.9 557.0,693.3 557.2,715.8 557.5,689.3 557.8,700.4 558.0,709.6 558.3,692.5 558.6,699.7 558.8,698.9 559.1,690.3 559.4,718.8 559.6,690.8 559.9,714.1 560.2,716.1 560.4,697.3 560.7,705.3 561.0,705.9 561.2,693.7 561.5,691.7 561.8,681.0 562.0,683.7 562.3,696.9 562.6,716.8 562.8,702.8 563.1,686.3 563.4,684.5 563.6,701.9 563.9,692.2 564.2,690.0 564.4,703.1 564.7,702.6 565.0,683.1 565.2,679.8 565.5,706.0 565.8,697.6 566.0,695.5 566.3,687.8 566.6,696.7 566.8,659.1 567.1,686.8 567.4,698.6 567.6,693.0 567.9,697.6 568.2,695.7 568.4,692.2 568.7,669.7 569.0,671.8 569.2,683.1 569.5,702.2 569.7,672.5 570.0,687.7 570.3,696.4 570.5,680.8 570.8,701.6 571.1,664.9 571.3,689.2 571.6,694.3 571.9,695.8 572.1,683.8 572.4,704.6 572.7,692.6 572.9,702.0 573.2,667.9 573.5,710.8 573.7,696.6 574.0,684.6 574.3,694.9 574.5,674.9 574.8,697.2 575.1,691.6 575.3,703.9 575.6,686.7 575.9,689.1 576.1,697.3 576.4,676.2 576.7,694.1 576.9,668.0 577.2,688.0 577.5,702.0 577.7,697.8 578.0,686.1 578.3,700.7 578.5,701.0 578.8,634.8 579.1,684.1 579.3,681.0 579.6,666.7 579.9,677.0 580.1,695.4 580.4,678.1 580.7,696.6 580.9,675.7 581.2,684.4 581.5,680.2 581.7,694.5 582.0,706.5 582.3,684.0 582.5,679.5 582.8,688.5 583.1,696.4 583.3,697.9 583.6,689.7 583.8,679.5 584.1,704.4 584.4,691.9 584.6,682.5 584.9,707.8 585.2,700.0 585.4,690.3 585.7,681.9 586.0,679.8 586.2,706.8 586.5,665.0 586.8,688.7 587.0,667.7 587.3,698.9 587.6,696.4 587.8,680.7 588.1,685.4 588.4,713.0 588.6,676.0 588.9,698.4 589.2,698.9 589.4,667.5 589.7,677.6 590.0,696.7 590.2,710.6 590.5,693.8 590.8,701.7 591.0,693.7 591.3,703.5 591.6,683.9 591.8,692.8 592.1,680.1 592.4,686.7 592.6,702.9 592.9,687.6 593.2,698.3 593.4,691.2 593.7,704.5 594.0,686.4 594.2,721.5 594.5,694.8 594.8,690.3 595.0,682.8 595.3,704.2 595.6,691.9 595.8,664.6 596.1,716.5 596.4,697.7 596.6,691.0 596.9,697.0 597.2,699.6 597.4,711.5 597.7,692.9 597.9,698.1 598.2,682.2 598.5,700.7 598.7,674.7 599.0,681.8 599.3,721.4 599.5,696.9 599.8,683.7 600.1,701.2 600.3,683.7 600.6,682.3 600.9,704.0 601.1,691.0 601.4,698.5 601.7,685.4 601.9,718.2 602.2,697.2 602.5,707.5 602.7,698.3 603.0,692.4 603.3,695.2 603.5,701.8 603.8,692.8 604.1,703.0 604.3,685.2 604.6,696.4 604.9,712.3 605.1,696.3 605.4,697.8 605.7,702.5 605.9,708.8 606.2,696.5 606.5,674.6 606.7,676.9 607.0,693.6 607.3,704.9 607.5,710.8 607.8,712.7 608.1,714.6 608.3,701.0 608.6,685.9 608.9,678.5 609.1,689.6 609.4,683.5 609.7,704.8 609.9,701.2 610.2,705.8 610.5,705.1 610.7,710.1 611.0,692.0 611.2,720.3 611.5,723.3 611.8,702.4 612.0,704.8 612.3,721.0 612.6,697.1 612.8,710.8 613.1,712.8 613.4,707.5 613.6,702.9 613.9,710.0 614.2,705.3 614.4,690.3 614.7,708.2 615.0,704.5 615.2,700.1 615.5,718.5 615.8,725.2 616.0,698.2 616.3,714.0 616.6,710.8 616.8,718.3 617.1,716.2 617.4,687.0 617.6,673.0 617.9,689.2 618.2,720.4 618.4,714.1 618.7,706.9 619.0,687.2 619.2,705.8 619.5,722.2 619.8,684.4 620.0,725.3 620.3,708.5 620.6,724.9 620.8,729.0 621.1,696.6 621.4,728.3 621.6,710.7 621.9,698.7 622.2,726.2 622.4,715.8 622.7,691.1 623.0,710.3 623.2,714.7 623.5,692.0 623.8,706.9 624.0,720.1 624.3,726.7 624.6,710.2 624.8,693.1 625.1,713.7 625.3,706.4 625.6,692.1 625.9,695.1 626.1,729.6 626.4,690.4 626.7,735.7 626.9,701.2 627.2,724.5 627.5,718.0 627.7,718.9 628.0,722.3 628.3,705.9 628.5,712.3 628.8,687.8 629.1,735.1 629.3,722.6 629.6,711.5 629.9,723.5 630.1,706.5 630.4,713.6 630.7,709.3 630.9,706.2 631.2,700.9 631.5,698.3 631.7,707.6 632.0,708.3 632.3,715.1 632.5,723.3 632.8,694.1 633.1,717.1 633.3,718.9 633.6,714.6 633.9,698.5 634.1,691.1 634.4,704.7 634.7,725.9 634.9,706.3 635.2,717.9 635.5,724.2 635.7,696.5 636.0,711.7 636.3,712.0 636.5,703.0 636.8,707.6 637.1,709.2 637.3,714.6 637.6,715.3 637.9,716.4 638.1,713.5 638.4,712.4 638.7,702.5 638.9,732.1 639.2,716.8 639.4,737.8 639.7,696.5 640.0,703.6 640.2,720.3 640.5,719.7 640.8,718.3 641.0,729.0 641.3,707.9 641.6,701.6 641.8,713.6 642.1,713.4 642.4,725.2 642.6,700.9 642.9,737.6 643.2,686.8 643.4,708.8 643.7,712.2 644.0,691.7 644.2,709.9 644.5,722.3 644.8,711.7 645.0,725.5 645.3,717.7 645.6,699.9 645.8,696.3 646.1,696.5 646.4,727.9 646.6,685.3 646.9,707.7 647.2,683.4 647.4,704.8 647.7,746.5 648.0,707.0 648.2,718.4 648.5,712.6 648.8,715.1 649.0,707.0 649.3,709.1 649.6,721.8 649.8,707.3 650.1,723.4 650.4,725.0 650.6,722.4 650.9,703.8 651.2,742.3 651.4,732.2 651.7,724.5 652.0,712.3 652.2,716.8 652.5,706.7 652.7,716.6 653.0,709.7 653.3,710.2 653.5,701.5 653.8,714.6 654.1,710.1 654.3,708.4 654.6,699.9 654.9,689.3 655.1,723.6 655.4,712.9 655.7,695.7 655.9,715.6 656.2,708.5 656.5,684.3 656.7,689.1 657.0,713.8 657.3,712.4 657.5,700.5 657.8,737.7 658.1,682.1 658.3,715.5 658.6,717.4 658.9,722.8 659.1,707.4 659.4,693.7 659.7,693.5 659.9,686.8 660.2,695.9 660.5,697.6 660.7,697.2 661.0,702.0 661.3,710.7 661.5,697.6 661.8,688.9 662.1,684.9 662.3,696.4 662.6,690.4 662.9,705.0 663.1,714.5 663.4,716.4 663.7,710.9 663.9,684.8 664.2,699.1 664.5,693.3 664.7,696.2 665.0,696.7 665.3,725.3 665.5,695.9 665.8,691.2 666.1,723.9 666.3,692.5 666.6,643.2 666.8,696.0 667.1,693.1 667.4,693.2 667.6,710.4 667.9,685.0 668.2,686.9 668.4,710.8 668.7,694.2 669.0,706.8 669.2,680.9 669.5,659.5 669.8,649.8 670.0,688.8 670.3,707.5 670.6,705.3 670.8,693.8 671.1,660.7 671.4,686.9 671.6,676.0 671.9,684.9 672.2,679.6 672.4,699.4 672.7,699.2 673.0,646.0 673.2,711.4" fill="none" stroke="#58a4ec" stroke-width="0.55" stroke-linejoin="round"/>
<path d="M481.2,691.3 481.7,690.4 482.2,691.2 482.8,691.0 483.3,691.1 483.8,689.7 484.4,690.0 484.9,690.7 485.4,690.5 486.0,690.7 486.5,690.9 487.0,690.7 487.5,691.6 488.1,691.4 488.6,690.8 489.1,691.4 489.7,691.9 490.2,691.5 490.7,691.9 491.3,692.2 491.8,692.6 492.3,692.5 492.9,692.5 493.4,692.8 493.9,692.3 494.5,693.5 495.0,692.8 495.5,693.4 496.1,692.2 496.6,693.4 497.1,692.9 497.7,692.7 498.2,693.7 498.7,693.7 499.3,694.2 499.8,693.8 500.3,694.0 500.8,694.4 501.4,694.7 501.9,694.9 502.4,695.1 503.0,694.5 503.5,694.3 504.0,694.7 504.6,694.6 505.1,694.9 505.6,695.5 506.2,695.6 506.7,695.5 507.2,695.0 507.8,696.4 508.3,696.1 508.8,695.9 509.4,695.8 509.9,696.5 510.4,696.6 511.0,696.5 511.5,696.8 512.0,696.0 512.6,696.8 513.1,697.6 513.6,696.9 514.1,697.4 514.7,697.4 515.2,697.8 515.7,697.7 516.3,698.2 516.8,697.5 517.3,698.2 517.9,698.5 518.4,698.3 518.9,698.7 519.5,698.2 520.0,698.8 520.5,698.9 521.1,698.9 521.6,699.0 522.1,698.5 522.7,698.2 523.2,698.5 523.7,699.0 524.3,698.8 524.8,698.8 525.3,699.1 525.9,698.6 526.4,698.4 526.9,698.9 527.5,697.9 528.0,698.7 528.5,698.9 529.0,698.7 529.6,698.9 530.1,698.5 530.6,699.0 531.2,698.4 531.7,698.3 532.2,699.3 532.8,699.4 533.3,698.6 533.8,698.5 534.4,698.7 534.9,697.8 535.4,699.7 536.0,699.2 536.5,698.8 537.0,699.2 537.6,698.9 538.1,698.8 538.6,698.5 539.2,699.0 539.7,699.8 540.2,698.9 540.8,698.5 541.3,698.3 541.8,698.7 542.3,698.7 542.9,698.1 543.4,698.9 543.9,698.8 544.5,698.2 545.0,698.7 545.5,698.6 546.1,698.9 546.6,698.5 547.1,698.1 547.7,698.6 548.2,698.8 548.7,698.9 549.3,698.7 549.8,698.2 550.3,698.7 550.9,699.0 551.4,698.7 551.9,699.0 552.5,699.3 553.0,698.7 553.5,698.7 554.1,698.7 554.6,699.0 555.1,699.5 555.6,697.3 556.2,697.5 556.7,697.8 557.2,697.4 557.8,696.4 558.3,697.0 558.8,696.4 559.4,695.9 559.9,695.1 560.4,695.4 561.0,695.0 561.5,694.9 562.0,694.6 562.6,693.9 563.1,694.0 563.6,693.4 564.2,692.6 564.7,692.3 565.2,692.0 565.8,691.6 566.3,690.8 566.8,691.9 567.4,691.1 567.9,691.1 568.4,691.8 569.0,690.6 569.5,691.1 570.0,691.6 570.5,690.4 571.1,691.4 571.6,691.2 572.1,691.1 572.7,691.1 573.2,690.2 573.7,691.1 574.3,691.1 574.8,691.7 575.3,691.7 575.9,691.0 576.4,690.6 576.9,691.3 577.5,690.8 578.0,690.9 578.5,690.5 579.1,691.2 579.6,691.4 580.1,691.3 580.7,690.9 581.2,691.0 581.7,690.4 582.3,690.6 582.8,691.6 583.3,691.4 583.8,691.2 584.4,691.5 584.9,691.0 585.4,692.0 586.0,691.5 586.5,690.8 587.0,691.9 587.6,691.0 588.1,691.2 588.6,690.6 589.2,690.9 589.7,691.2 590.2,691.1 590.8,691.0 591.3,690.3 591.8,690.3 592.4,691.4 592.9,690.4 593.4,691.3 594.0,691.2 594.5,691.9 595.0,691.8 595.6,691.5 596.1,691.0 596.6,692.3 597.2,692.9 597.7,692.4 598.2,692.8 598.7,692.9 599.3,693.0 599.8,693.6 600.3,693.9 600.9,693.8 601.4,694.4 601.9,694.0 602.5,694.6 603.0,694.3 603.5,694.7 604.1,695.1 604.6,695.2 605.1,694.9 605.7,695.5 606.2,695.3 606.7,695.9 607.3,695.8 607.8,695.7 608.3,695.9 608.9,696.6 609.4,696.6 609.9,697.3 610.5,697.5 611.0,696.7 611.5,696.6 612.0,697.3 612.6,698.2 613.1,698.1 613.6,697.7 614.2,699.3 614.7,698.8 615.2,698.7 615.8,698.6 616.3,698.4 616.8,698.0 617.4,698.4 617.9,699.6 618.4,698.6 619.0,698.8 619.5,698.3 620.0,699.2 620.6,699.2 621.1,699.4 621.6,699.4 622.2,699.4 622.7,699.3 623.2,698.8 623.8,699.2 624.3,699.3 624.8,699.0 625.3,698.5 625.9,698.7 626.4,698.9 626.9,699.0 627.5,698.5 628.0,699.1 628.5,699.2 629.1,699.2 629.6,698.8 630.1,698.5 630.7,698.7 631.2,698.6 631.7,698.8 632.3,698.6 632.8,698.3 633.3,698.2 633.9,698.7 634.4,698.6 634.9,699.1 635.5,698.7 636.0,698.9 636.5,700.0 637.1,699.2 637.6,699.2 638.1,699.0 638.7,699.0 639.2,698.9 639.7,698.3 640.2,698.9 640.8,699.1 641.3,698.5 641.8,698.8 642.4,698.1 642.9,699.2 643.4,698.8 644.0,698.5 644.5,698.8 645.0,698.6 645.6,698.3 646.1,698.6 646.6,699.5 647.2,698.9 647.7,698.5 648.2,699.1 648.8,698.5 649.3,698.5 649.8,697.5 650.4,697.7 650.9,697.5 651.4,697.5 652.0,696.8 652.5,696.1 653.0,695.5 653.5,695.7 654.1,695.4 654.6,695.3 655.1,694.8 655.7,694.0 656.2,693.9 656.7,693.6 657.3,693.0 657.8,693.3 658.3,692.8 658.9,691.7 659.4,692.5 659.9,691.0 660.5,692.0 661.0,691.7 661.5,691.1 662.1,691.4 662.6,690.1 663.1,691.0 663.7,691.8 664.2,691.7 664.7,690.8 665.3,690.7 665.8,690.6 666.3,691.3 666.8,690.7 667.4,691.4 667.9,691.4 668.4,691.3 669.0,690.8 669.5,690.6 670.0,691.0 670.6,690.8 671.1,690.6 671.6,691.5 672.2,689.9 672.7,690.9 673.2,691.0" fill="none" stroke="#e2bd3c" stroke-width="1.0" stroke-linejoin="round" stroke-dasharray="2.2,0.5"/>
<text x="49.2" y="648.8" font-size="10.8" text-anchor="end" fill="#141414" stroke="#141414" stroke-width="0.25">0.3</text>
<text x="49.2" y="704.7" font-size="10.8" text-anchor="end" fill="#141414" stroke="#141414" stroke-width="0.25">0.2</text>
<text x="49.2" y="760.6" font-size="10.8" text-anchor="end" fill="#141414" stroke="#141414" stroke-width="0.25">0.1</text>
<text x="45.6" y="815.4" font-size="10.8" text-anchor="end" fill="#141414" stroke="#141414" stroke-width="0.25">0</text>
<text x="366.8" y="846.0" font-size="12.6" text-anchor="middle" textLength="87" lengthAdjust="spacingAndGlyphs" fill="#141414" stroke="#141414" stroke-width="0.25">Year and month</text>
<text transform="translate(19.2,713.5) rotate(-90)" font-size="12.8" text-anchor="middle" textLength="167" lengthAdjust="spacingAndGlyphs" fill="#141414" stroke="#141414" stroke-width="0.25">Incidence per 100,000 per day</text>
</svg>
</body></html>
